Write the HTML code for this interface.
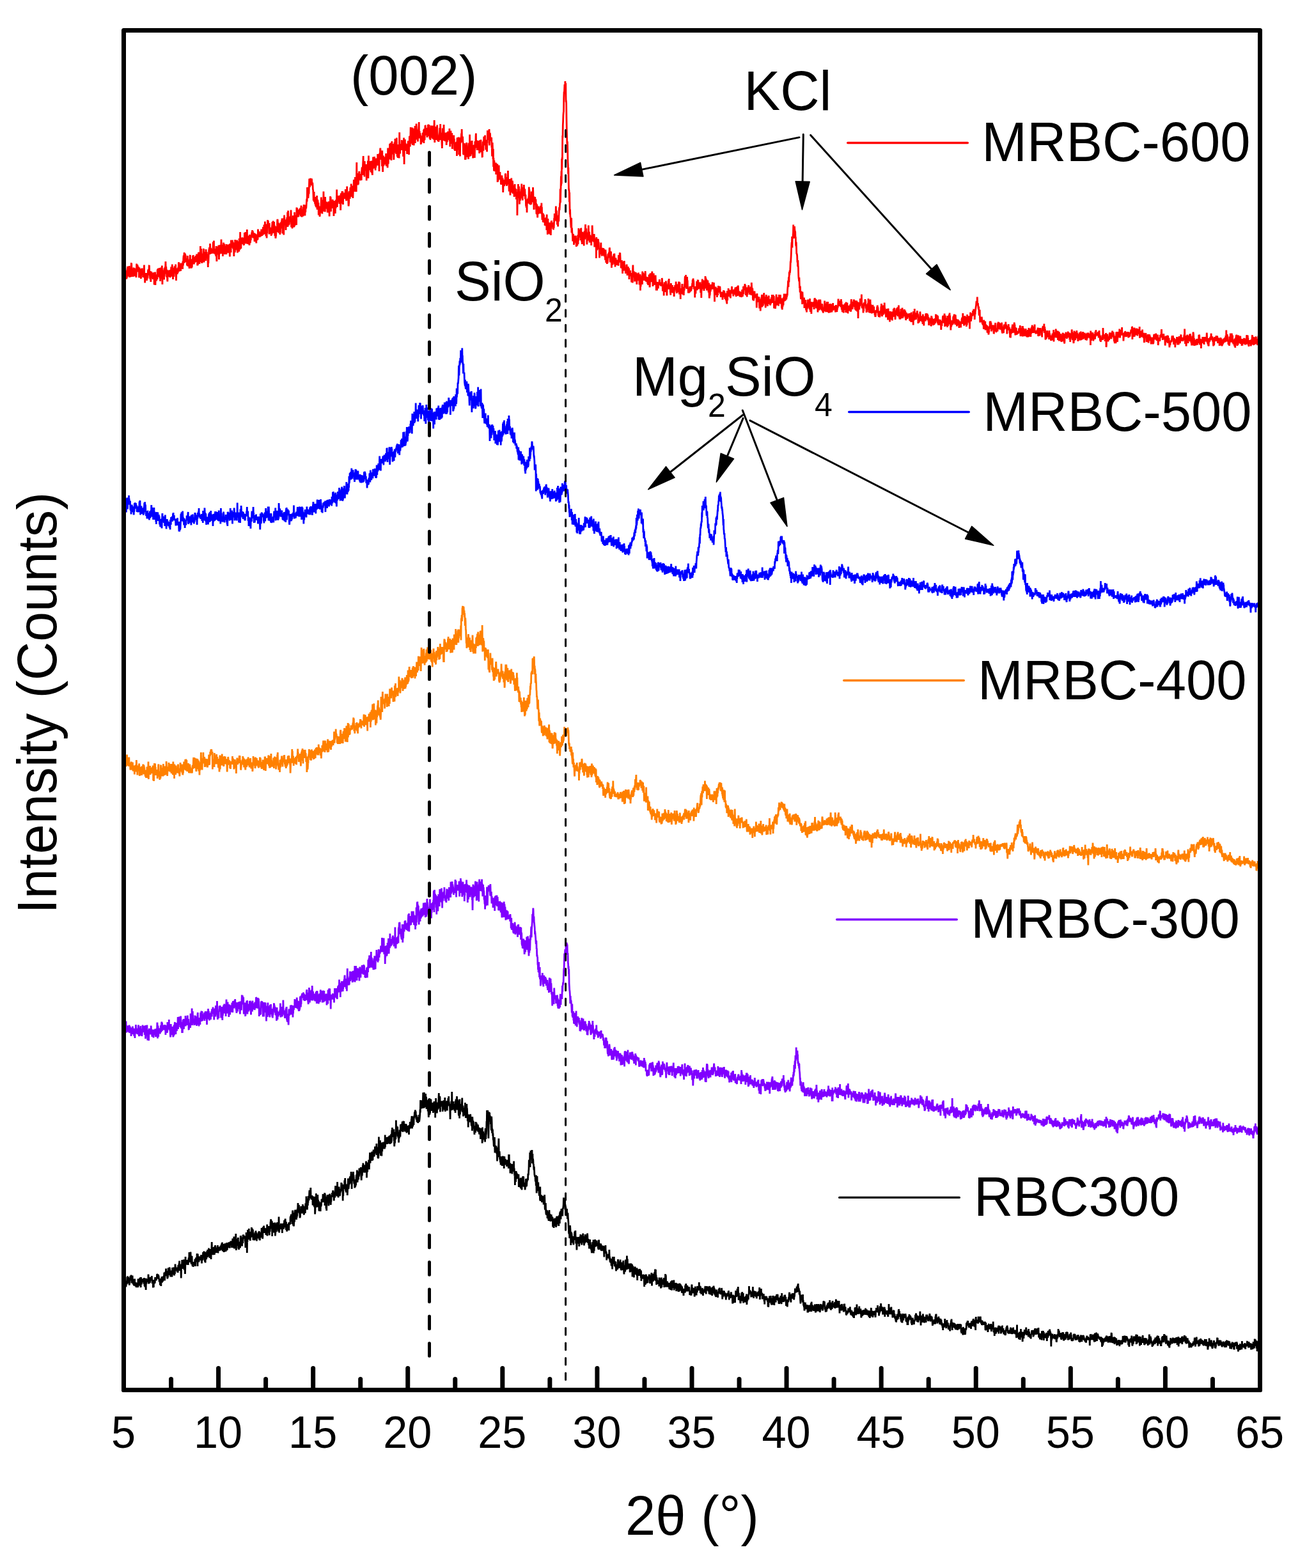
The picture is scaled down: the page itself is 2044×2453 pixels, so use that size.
<!DOCTYPE html>
<html><head><meta charset="utf-8"><title>XRD patterns</title>
<style>html,body{margin:0;padding:0;background:#fff;} svg{display:block;}</style>
</head><body>
<svg xmlns="http://www.w3.org/2000/svg" width="2044" height="2453" viewBox="0 0 2044 2453">
<rect x="0" y="0" width="2044" height="2453" fill="#fff"/>
<path transform="translate(193.500,0) scale(0.296167,0.5)" vector-effect="non-scaling-stroke" fill="none" stroke="#000000" stroke-width="2.8" stroke-linejoin="miter" stroke-miterlimit="2" d="M0,4008l1,7h1l1-17h1l1,6l1,16l1-5l1,1l1-21l1,32l1-12l1,10l1-6l1-8l1,4l1,4l1-12l1,1l1,8l1-19l1-4l1,17l1-4l1-10l1,9l1,6l1-6l1-6l1,18l1,4l1-12l1-8l1,2l1-1l1-10l1,8l1,6l1-10l1-7l1,10l1,2l1,14l1-19l1,6l1-1l1-10l1,13l1,5l1-7l1,17l1-6l1,2h1l1,8l1-18l1,17l1-2l1-19l1,17h1l1,6l1-9h1l1,8l1-9l1,14l1-6l1,4l1-13l1,10l1-5l1-4l1,3l1,7l1,4l1-27l1,22l1-3l1-4l1-9l1,16l1-19l1,9l1,9l1-23l1,8l1-10l1,14l1,12l1,5l1-32l1,11l1,6l1,6l1-10l1-8l1,10l1-1l1-5l1-3l1,10l1-1l1-6l1,1l1-6l1,8l1,10l1-11l1-9l1,26l1-10l1,13l1-18l1-3l1-6l1,22l1,14l1-33h1l1,14l1-12l1,3l1-5l1,2l1,6l1-7l1,7l1-9l1,5l1-20l1,10l1,20l1-17l1,14l1-7l1,8l1-4l1,3l1-7l1-8l1-2l1,5l1-6l1,7l1-1l1,2l1-2l1-10l1,15l1,1l1,8l1-3l1-7l1,1l1,22l1-11l1,7l1,3l1-24l1,8l1-1l1,1l1,3l1-1l1-3l1-15l1,10l1-5l1,6l1-7l1,6l1-2l1-7l1,2l1-3l1-10l1,2l1-1l1,7l1-2l1,7l1-12l1,15l1-11l1,4l1,8l1-2l1,10l1-6l1-2l1,2l1,16l1-13l1-7l1,11l1-11l1,23l1-25l1,11l1-2l1-14l1,13l1,6l1-9l1-1l1,7l1-13l1,2l1-5l1,8l1-10l1,9l1-11l1-9l1,9l1,17l1-8l1-14l1,8l1-14l1,7l1,3l1-20l1,23l1-14l1,4l1-5l1,3l1,5l1,11l1,5l1-13l1,9l1-12l1-18l1,15h1l1-8l1,9l1,7l1-19l1-6l1,7l1,4l1-2l1,11l1,10l1-19l1,5l1,7h1l1,3l1-13l1,12l1,5l1-15l1-14l1,12l1,7l1-9l1-8l1,20l1-23l1,21l1-4l1-12l1,21l1-8l1-10l1,13l1-15l1-16l1,9l1,4l1,8l1-6l1-3l1,1l1-2l1,10l1-5l1,1l1,9l1-15l1,1l1,15l1-14l1-10l1,9l1-8l1,4l1-10l1,3l1-11l1,31l1-9l1-7l1,14l1-5l1,2l1-12l1,16l1,24l1-44l1,10l1-4h1l1-19l1,7l1,11l1-7l1,17l1-24l1,4l1,18l1-27l1,3l1,12l1,3l1,15l1-7l1-5l1,6l1,18l1-19l1-35l1,20l1-7l1,10l1-13l1,14l1-3l1,4l1-3l1-4l1-2l1,8l1-10l1-4l1,16l1-8l1-6l1-9l1,3l1,1l1-21l1,31l1-4l1-10l1,14l1-7h1l1-25l1,20l1,3l1,11l1,2l1,2l1-24l1-1l1,23l1-3l1,12l1-5l1,5l1-14l1,16l1-12l1,6l1-2l1-4l1,2l1-4l1,3l1-3l1-8h1l1,20l1-19l1,5l1-7l1-6l1,3l1,6l1,1l1-2l1-21l1,12l1,10l1,18l1-39l1,19l1-10l1,2l1-2l1,10l1,7l1-12l1-4l1,1l1-3l1,12l1-4l1-8l1,9l1-4l1,5l1-5l1-10l1,18l1-1l1,10l1-14l1-7l1,1l1,1l1,9l1-5l1-20l1,11l1-11l1,13l1-13l1-3l1,13l1,2l1-9l1,20l1,7l1-31l1,34l1-23l1,3l1,4l1-15l1,20l1-5l1-7l1,1l1-15l1,7l1,13l1-24l1,11l1,4l1,3l1,3l1-17l1-9l1,16l1-6l1-1l1,12l1,10l1-7l1-10l1,10l1-21l1,12l1-9l1,29l1-20l1-9l1-6l1-19l1,28l1,12l1-21l1,9l1,2l1-14l1,21l1,3l1-5l1-5l1,8l1-22l1,15l1,9l1-26l1,21l1-12l1-13l1,21l1-9l1,10l1-14l1,16l1-16l1,11l1-7l1-2l1,7l1-10h1l1-7l1,24l1-1l1-10l1,6l1-11l1-2l1,2l1,8l1-2l1-8l1,11l1-2l1-7l1,3l1-7h1l1,7l1-4l1,5l1-15l1,18l1-21l1,7l1-10l1,22l1,5l1-1l1-1l1-20l1,10l1,4l1-4l1,16l1-11l1-2l1,2l1-12l1-4l1,2l1,12h1l1,6l1,5l1-25l1,7l1,3l1-13l1,9l1,15l1-3l1-2l1-13l1-4l1,12l1-13l1,6l1,9l1-17l1,2l1,5l1,7l1-1l1-1l1,6l1-18l1,3l1,7l1-11l1-2l1,1l1,7l1,2l1-9l1,5l1,14l1-18l1,14l1-12l1-13l1,7l1-6l1,16l1-15l1,27l1-7l1-28l1,28l1,10l1-27l1,19l1-25l1,22l1-24l1,19l1-17l1-14l1,27l1,25l1-32l1,8l1-6l1-3l1,12l1,7l1-22l1,13l1-4l1-13l1,31l1,4l1-22l1,25l1-18l1-2l1,15l1-13l1,3l1,9l1-2l1-11l1-22h1l1,26l1-16l1,8l1-15l1,14l1-13l1,26l1-28l1,8l1,1l1,10l1-27l1,9l1-9l1,6l1,4l1-7l1,8l1-7l1,7l1,2l1-1l1,8l1,2l1,19l1-25l1,4l1,12l1-36h1l1,2l1,12l1,47l1-39l1,5l1-16l1-22l1,4l1,27l1-8l1-15l1,14l1-26l1,28l1,5l1-18l1-5l1,19l1-15l1,24l1-25l1,16l1-7l1-5l1-8l1,8l1-21l1,11l1-3l1,10l1-14l1,27l1-15l1-9l1,29l1,4l1-15l1-6l1,10l1-7l1,3l1,16l1-10l1-9h1l1-7l1,13h1l1-17l1,6l1,22l1-22l1,3l1,23l1-11l1-10l1,12l1-9l1,1l1,6h1l1-8h1l1-9l1,15l1-13l1-5l1,27l1-24l1,23h1l1-14l1-8l1,14l1,1l1,1l1-15l1,11l1-1l1-25l1,26l1-11l1-6l1,1l1,24l1-6l1-31l1,14l1-1l1-3l1-7l1-7l1,23l1-16l1,4h1h1l1,11l1-4l1-5l1-5l1,5l1,16l1-5l1-2l1-5l1-3l1,3l1-21l1,36l1-23l1-7l1,15l1-7l1-3l1,1l1-7l1,16l1,5l1-19l1,27l1-26l1,4l1,11l1-12h1l1-17l1-4l1-6l1,5l1,3l1-4l1,20l1-9l1-9l1,47l1-27l1-11l1,21l1,1l1-23l1-3l1,10l1,21l1-19l1-8l1,6l1,14l1-25l1,15l1-8l1,35l1-8l1-5l1-13l1,11l1-22l1,24l1-22l1-7l1,4l1,10l1,6h1l1-6l1-15l1,16l1-4l1,17l1-23l1-23l1,22l1,28l1-14l1-4l1,7l1-5l1-1l1-8l1,5l1,3l1-6l1-6l1,9l1,9l1-4h1l1-4l1,20l1-25l1,6l1,7l1-16l1-2l1,7l1,11l1-16l1,2l1-2l1-12l1,23l1-15l1-9l1,16l1-20l1,10l1,13l1-6l1,18l1-25l1,18l1-1l1,13l1-3l1-6l1-5l1-5l1,11l1-15l1,10l1-5h1l1-8l1,23l1-26l1,7l1,1l1-7l1,2l1,1l1,3l1-24l1,10l1-13l1,11l1-16l1,4l1,5l1,14l1-8l1-6l1,22l1-33l1-10l1,20l1,7l1,18l1,3l1-41l1,43l1-11l1-14l1-6l1,17l1-26l1-10l1,6l1-8l1,11l1,4l1,4l1,1l1-11l1,22l1-26l1,20l1-24l1,19l1-23l1,12l1-13l1-17l1,11l1,16l1,2l1-21l1-2l1,19l1,5l1,2l1-5l1,17h1l1-3l1-21l1,8l1-6l1-12l1,18l1-6l1-10l1,20l1-4l1,1l1-1h1l1-24l1,11l1,16l1-22l1,3l1,5l1,17l1,3l1-11l1-8l1,8l1-11l1-4l1,21l1-12l1-19l1,19l1-17l1,8l1-32l1,27l1-8l1-2l1-10l1,35l1-25l1,4l1,8l1-17l1,8l1-21l1,12l1-10l1,12l1-10l1-15l1-7l1,13l1,12l1-5l1,2l1-22l1-8l1,28l1,1h1l1,8l1-1l1-11l1,1l1,9l1,2l1-5l1,23l1-25l1,5l1-8l1,9l1,16l1,4l1-7l1,9l1,2l1-20l1-12l1,55l1-11l1-14l1-26l1,5l1,25l1-44l1,26l1,3l1-11l1,2l1-12l1,35l1-35l1-4l1,19l1,5l1-8l1,18l1-12l1-2l1,28l1,1h1l1-21l1,4l1,5l1,8l1,6l1-1l1-27l1,14l1-2l1-2l1-8l1-11l1,7l1-4h1l1-4l1,11l1-8l1-18l1,22l1-9l1,13l1-15l1,1l1-1h1l1-1l1-14l1,40l1-37l1,15l1,10l1,3l1,6l1,3l1,10l1-21l1,27l1-44l1,12l1-7l1-10l1,7l1,10l1-18l1,4l1,13l1,6l1,12l1-10l1-5l1-5l1,3l1-5l1-16l1,19l1-3h1h1l1,19l1-11l1,2l1-15l1-6l1,4l1-1l1-8h1l1,10l1-6l1-14l1,4l1-4l1,16l1-8l1,13l1,11l1-12l1-15l1,6l1,10l1,1l1-8l1-16l1-13l1,26l1-3l1,2l1-4l1-16l1,9l1,9l1,10l1-13l1-32l1,29l1,7l1,7l1-11l1,17l1-9h1h1l1-25l1,19l1,1l1-8l1,17l1-4l1-10l1,3l1-4l1-1l1-6l1,6l1-26l1,13l1-11l1,12l1,6l1-4l1,9l1-1l1,33l1-40l1,25l1-36l1,9l1,6l1-14l1,3l1,7l1-24l1,9h1l1-16l1,21l1-2l1,21l1-19l1,24l1-26l1,23l1-15l1,4l1,2l1-1l1,22l1-14l1-17l1-5l1-17l1,27l1,6l1-6l1-7l1-4l1-2l1,3l1-1l1-20l1,19l1-22l1,9l1-6l1,1l1-9l1-9l1,29l1-21l1,46l1-30l1,4l1-1l1-10l1-12l1,20l1-5l1-20l1,20l1-10l1,12l1,12l1,4l1-4l1-6l1,23l1-14l1,7l1,4l1-12l1-12l1,19l1-17l1-10l1-7l1,24l1-9l1-29l1,28l1,10l1-6l1-26l1,15l1,6l1,3l1-15l1-11l1,16l1-6l1-20l1,5l1,2l1-7l1,4l1,10l1-8h1l1-9l1,22l1,11l1,8l1-17l1-4l1,7l1-3l1-12l1,4l1-22l1,12l1-19l1,8h1l1,4l1-6l1,12l1,12l1-4h1l1,1l1,2l1-4l1-19l1,5l1,2l1-9l1-10l1,19l1-15l1,48l1-24l1-7l1-1l1,14l1-30l1,13l1-10l1,7l1-7l1,17l1-28l1,10l1,20l1-21l1,3l1-18l1-17l1,25l1,8l1-18l1-15l1,22l1-9l1,8l1-3l1-10l1,12l1-23l1,29l1-16l1,8l1,6l1-14l1-1l1-11l1-7l1,20l1,2l1-16l1,15l1-10l1,5l1-14l1-12l1,21l1-3l1-5l1,3l1,2l1-1l1-5l1-21l1,36l1-25l1,20l1-5l1,3l1-14l1,30l1-1l1,2l1-2l1-28l1-37l1,41l1,11l1-9l1-20l1,1l1,10l1-23l1,15l1,8l1,25l1-28l1,28l1-16l1-25l1,42l1-37l1,18l1,5l1-26l1-2l1,20l1-9l1-12l1,1l1,3l1,14l1-15l1,4l1,11l1,2l1-2l1-4l1-37l1,38l1-14l1-1h1l1-6l1-1l1,8l1-17l1,3h1l1,19l1-13l1-8l1,17l1-19l1,14l1-14l1,21l1-4l1-5l1-10l1-5l1,11h1l1,14l1-2l1-25l1,25l1-10l1,11l1-15l1-15l1,27l1-3l1-19l1-17l1,7l1-15l1,8l1,13l1,9l1-23l1,22l1-8l1-11l1-5l1,37l1-3l1,20l1-10l1-3l1,3l1-35l1,10l1-7l1,20l1-13l1-47l1,45l1-28l1,19l1-9l1,8l1,1l1-4l1-12l1,31l1-1l1-7l1,13l1-19l1,33l1-16l1,2l1-1l1-12l1-13l1,14l1,2l1,6l1-19l1-20l1,15l1,2l1-2l1-1l1-16l1,24l1-20l1,20l1-31l1,25l1-20l1,26l1,1l1-9l1-22h1l1-2l1,16l1,1l1,1l1-3l1,6l1,3l1,9l1-14l1,7l1-18l1,7l1,2l1-7l1,18l1,9l1-21l1,3l1-1l1,11l1-15l1,18l1-1l1-1l1,4l1-9l1-4l1,21l1-30l1,13l1-9l1-2l1-2l1-10l1,14l1-9l1-4l1,20l1-22l1,8l1-16l1,1l1-10l1,4l1,35l1-18l1,2l1-6l1,16l1-32l1,9l1,11l1,7l1-20l1-3l1-6l1,2l1-12l1-1l1,13l1-20l1,4l1,4l1-4l1,20l1-1l1,7l1-14l1,5l1,14h1l1-11l1,10l1-4l1-5l1,16l1-19l1,10l1,1l1-1l1-17l1,22l1-4l1-4l1-6l1-8l1-17l1,10l1-39l1,27l1-21l1,8l1,13l1-12l1-7l1,16l1-13l1-5l1-5l1,25l1-16l1-11l1-22l1,23l1-24l1,21l1-10l1,38l1-49l1,44l1-3l1-32l1,19l1,18l1-2l1-40l1,18l1-4l1-4l1,6l1,32l1-21h1h1l1,17l1-4l1-20l1,35l1-22l1,14l1,12l1,15l1-23l1,8l1,8l1-9l1,8l1-9l1-18h1l1-3l1-7l1,21l1-33l1,12l1,25l1-18l1-8l1,12l1,12l1-22l1,19l1-16l1,3l1,3l1,21l1-32l1,14l1,15l1-25l1-8l1,27l1-8l1-5l1,3l1-12l1,46l1-49l1,3l1-15l1,10l1,24l1-19l1,7l1-9l1,34l1-16l1-18l1,23l1-12l1,11l1-5l1,2l1-9l1-26l1-13l1,35l1-7l1,4l1-6l1-16l1,6l1,43l1-20l1,5l1-14l1,5l1,5l1-4l1-5l1-3l1-3l1,4l1,7l1-4l1,26l1-22l1,3l1-5l1,16l1-21l1-6l1,5l1,17l1-18l1,26l1-20l1-19l1,21l1,23l1-30h1l1,18l1,4h1l1-12l1,4l1-3l1,6l1,10l1-31l1,18l1-13l1,9l1-22l1,3l1,12l1-21l1,27l1-10l1,12l1-5l1,5l1,2l1,16l1,25l1-44l1,17l1-13l1-6l1,11l1-22l1,12l1,17l1-58l1,48l1,7l1-25l1,15h1l1-10l1,21l1-26l1,23l1-7l1-7l1,10l1-3l1,14l1-22l1,17l1-10l1,21l1-38l1,26l1-31l1,26l1-9l1,6l1-19l1-13l1,10l1,33l1-19l1-14l1,23l1-9l1-3l1-7l1,35l1,12l1-36l1,18l1,9l1,17l1-60l1,37l1,11l1-33l1,20l1-4l1,5l1-13l1,6l1-13l1,7l1-5l1-9l1-13l1,45l1-6l1-1l1-14l1,7l1,27l1-11l1-16l1,10l1-1l1-1l1-6l1,22l1-4l1-14l1-22l1,21l1,14l1,13l1-15l1,14l1-13l1-12l1-18l1,19l1-6l1,15l1,10l1,16l1-17l1-5l1,41l1-22l1,6l1-1l1-22l1,19l1-10l1,13l1-3h1l1,3l1-24l1,3l1,14l1-7l1,15l1,3l1,9l1-11l1-18l1,26l1,18l1-44l1,9l1,15l1-12l1,11l1,11l1-19l1,22l1-1l1-8l1,16l1,12l1-20l1,3l1,4l1-8l1,15l1-10l1-24l1,21l1,1l1-1l1-18l1,10l1,13l1-14l1,10l1,7l1-21l1,8l1-5l1,21l1-9l1-5l1,5l1,6l1,7l1,3l1-20l1,2l1,13l1-2l1-5l1,27l1-14l1-19l1,15l1,12l1-2l1-26l1,25l1-2l1,24l1-50l1,45l1-19l1,10l1-23l1,8l1,12l1-8l1,14l1-12l1-6l1-1l1,4l1,7l1,15l1-34l1-9l1,17l1,17l1-13l1-3l1-10l1-30l1,4l1-38l1,25l1,6l1-26l1-5l1,9l1,21l1,17l1,41l1-35l1-38l1-10l1,23l1,7l1-28l1,17l1-8l1,9l1-3l1,7l1,15l1-5l1,14l1,10l1-44l1,9l1,20l1,23l1-14l1,15l1-12l1,20l1-8l1,21l1-2l1,7l1,12l1,3l1-21l1,22l1-30l1,28l1,21l1-23l1,6l1-1l1,9l1-13l1,11l1-11l1,9l1,12l1,4l1-18l1,41l1-22l1-21l1,31l1-8l1-8l1,13l1-30l1-26l1,40l1,10l1,8l1-18l1,8l1,18l1-2l1,6l1,5l1-18l1,26l1-27l1,11l1-5l1-3l1,11l1,7l1,9l1-10l1-12l1,22l1-31l1,21l1,4l1,2l1-16l1-9l1,37l1-24l1-14l1,7l1,10l1,10l1-17l1,9l1-10l1,4l1,13l1-13l1,11l1-8l1-4l1,20l1-14l1,13l1-16h1l1-4l1,16l1-5l1,4l1,12l1-44l1,13l1-13l1,30l1,3l1,7l1-2l1-11l1,32l1-20l1-2l1-8l1,24l1-7l1,1l1,3l1,2l1-11l1,20l1-24l1-7l1,12l1-3l1-2l1-5l1,1l1-5l1-7l1,33l1-11l1,10l1,14l1-6l1,35l1-41l1,4l1,11l1,16l1-18l1-16l1,25l1-20l1,4l1,12l1-10h1l1,9l1-8l1,12l1-9l1,8l1-12l1,1l1,38l1-12l1,12l1-22l1,14l1-4l1-14l1,27l1-18l1-1l1-11l1,34l1-10l1-5l1-15l1,3l1,31l1-26l1,7l1-4l1-17l1,30l1-33l1,25l1-3l1-21l1,27l1,2l1-3l1-7l1,14l1-1l1-6l1,16l1-7l1-5l1,4l1-21l1-6l1,16l1,1l1,7l1-5l1-10l1-1l1-6h1l1-1l1,4l1-18h1l1,2l1-13l1-6l1-29l1,19l1-14l1,8h1l1-36l1,46l1-33l1-1l1-18l1,27l1-2l1-18l1,1l1,19l1-26h1l1,39l1-25l1-5l1,27l1-11l1,4l1,14l1-2l1,10l1,9l1-11l1,11l1,14l1,2l1,5l1-2l1,4l1,13l1-10l1,6l1,17l1-33l1,26l1,30l1-50l1,31l1-34l1,25l1,20l1-3l1-18l1-2l1-3l1,28l1-6l1,1l1,12l1,5l1,2l1-5l1-16l1,35l1-42l1,45l1-13l1-3l1-4l1,9h1l1-1l1-6l1,22l1-19l1,18l1-11l1-7l1,10l1,7l1-18l1,8l1,19l1-16l1,3l1,11l1-14l1-15l1,14l1,28l1,5l1-2l1-6l1-13l1,25l1,10l1-14l1,17l1-16l1,8l1,7l1-14l1,25l1-21l1,16l1-6l1,8l1,4h1l1,7l1-8l1,1l1-27l1,19l1-1l1-3l1-3l1,13l1,8l1,2l1-5l1-13l1,7l1-10l1,18h1l1-12l1,8l1-1l1-5l1,8l1,23l1-22l1,7l1-10l1,1l1,27l1-25l1,10l1-6l1,5l1-2l1,3l1-16l1,12l1,13l1-18l1,1l1,21l1-10l1,6l1-30l1,19l1-17h1l1,11l1,12l1-24l1,5l1,2l1,3l1-12l1,31l1-18l1-11l1-5l1,25l1,1l1-35l1,7l1,10l1-21l1,3l1,23l1-21l1,1l1-13l1,10l1,13l1-17l1-6l1,7l1,16l1-21l1-4l1,2l1-6l1-7l1-22l1,20l1-9l1,14l1-20l1,22l1-18l1-5l1,34l1-16l1,12l1-6l1,18l1,6l1-1l1,4l1-18l1-2l1,23l1-11l1,20l1-7l1-12l1,13l1,7l1,9l1,16l1,14l1,7l1-19l1,10l1,22l1-2l1-14l1-24l1,10l1,12l1-3l1,43l1-31l1,3l1-12l1,4l1,5l1,5l1,2l1,6l1-1l1,12l1-21l1,17l1,2l1,8l1-17l1,1l1-11l1,12l1-7l1-17l1-2l1,3l1,10l1-17l1,26l1-7l1,22l1-2l1-11l1,6l1,27l1-21l1-4l1-13l1-2l1,11l1,1l1-12l1,17l1-8l1-10l1,22l1-3l1,11l1-18l1,5l1-16l1,16l1-19l1,18l1-24l1,18l1,7l1-1l1,4l1-25l1,26l1,4l1-28l1-2l1,4l1,8l1,6l1-24l1,27l1-9l1-9l1,21l1-8l1,16l1-9l1-14l1,16l1-3l1-14l1-11l1,8l1,7l1-11l1,21l1-7l1-4l1,4l1-12l1,9l1-5l1-13l1,6l1,24l1-9l1,4l1-8l1,7l1,13l1-7l1-2l1,20l1-12l1-9l1,18l1-26l1,25l1-16l1,6l1,3l1,10l1,1l1,4l1-1l1,8l1,2l1-9l1-2l1-11l1-12l1,14l1-4l1,5l1-22l1,42l1-32l1,18l1,7l1-21l1,4l1-17l1,6l1-8l1,23l1-3l1-12l1,10l1,2l1-14l1-2l1,2h1l1,15l1-7l1-4l1,5l1,8l1-5l1,11l1-5l1,8l1-6l1-25l1,13l1,6l1-8l1,12l1-4h1h1l1,9l1,3l1-19l1,6h1l1,17l1-7l1,7l1-6l1-7l1-4l1,14l1-13l1,15l1-5l1-2l1-8l1,3l1,1l1,17l1,14l1-30l1,15l1,4l1-13l1,5l1,2l1-20l1,26l1-6l1,1l1,1l1,4l1,21l1-14l1,5l1-9l1,7l1-6l1,4l1-4l1-2l1,13l1-2l1-2l1-10l1,11l1-24l1,31l1-10l1,8l1,9l1-11l1,14l1-13l1,12l1-9l1,7l1,13l1-19l1-2l1,5l1,7l1,19l1-30l1-9l1,12l1-9l1,7l1,8l1-10h1l1-8l1,23l1-10l1,15l1,1l1-14l1,5l1,5l1,8l1-18l1,9l1,21l1-13l1,4l1,1l1-13l1,17l1-10l1,2l1,6l1-6l1-25l1,18l1-12l1,10l1-5l1,4l1,13l1-7l1-2h1l1,5l1,2l1-25l1,13l1,5l1,9l1,5l1-17l1,19l1-17l1-1l1-5l1-2l1,16l1-13h1l1,8l1,13l1-30l1,15l1,4l1,16l1,8l1-20l1,4l1,8l1,1l1-11l1,9l1-17l1-20l1,11l1,13l1,8l1-29l1,2l1,14l1-31l1,36l1,7l1-33l1,30l1-14l1,15l1-7l1-6l1,5l1,6l1-1l1-3l1-11l1,16l1-3l1,15l1-13l1,1l1-7l1,3l1-8l1-4l1,23l1,3l1-18l1-6l1,15l1-13l1,38l1-25l1,12l1-21l1,7l1,14l1-2l1-6l1,23l1-16l1-11l1-3l1,3l1,13l1-20l1,10l1-6l1,21l1-15l1,13l1-6l1-10l1,14l1,7l1-24l1,16l1,23l1-34l1,8l1-8l1,19l1-11l1,8l1-4l1-13l1,21l1-8l1-8l1,4l1-10l1,15l1-5h1l1,9l1-15l1,24l1-21l1,31l1-10l1-6l1-2l1,7l1-1h1l1,5l1-13l1,1l1,5l1,6l1-12l1,7l1,1l1,9l1,21l1-38l1,16h1l1,7l1,9l1-12l1-1l1,10l1-30l1,7l1,2l1,3l1,2l1-8l1,22l1-20l1,7l1,12l1-9l1-11l1,6h1l1-4l1,5l1-14l1,12l1-12l1,10l1,3l1,16l1-14l1,3l1-8l1,5h1l1-11l1,13l1-22l1,23l1,18l1-27l1,3l1-9l1,11l1-11l1,20l1-10l1-15l1,11l1-1l1,8l1,3l1-15l1-11l1,1l1,11l1-21l1,19l1,2l1-20l1,36l1-19l1,15l1,16l1-22l1-1l1,12l1-5l1,13l1-5l1,1h1l1,2l1-8l1,11l1-9l1-2l1,18l1-28l1,14l1-10l1,7h1l1,6l1,9l1-23l1,31l1-19l1-7l1-8l1,31l1-3l1-18l1,8l1,2l1-9l1-5l1,3l1,8l1-3l1-8l1,17l1-22l1,10l1,20l1-8l1-1l1,2l1,4l1-11l1-28l1,30l1-27l1,4l1,34l1-4l1-13l1,5l1,1l1,8l1-15l1,4l1,4l1,6h1l1-5l1,10l1-14l1,8l1-6l1-2l1,20l1-10l1-5l1,6l1-8l1,13l1,3h1l1-24l1,11l1,12l1-16l1,17l1,4l1-31l1,19l1-3l1,5l1,3l1-11l1-3l1,9l1-14l1,11l1-17l1,32l1-20l1,10l1,2l1-4l1-1l1,1l1-11l1,4l1,14l1-17l1,1l1,24l1-7l1,4l1-16l1,3l1,13l1-5l1-4l1-12l1,9l1-6l1,23l1-14l1,5l1,8l1-5l1,1l1-10l1-12l1,24l1-16l1,4l1-9l1,8l1,3l1,8l1-15l1,16l1-7l1,14l1-20l1,11l1,10l1-15l1,12l1-1l1-9l1,10l1,11l1-11l1-9l1-1l1,7l1,4l1-1l1-3l1,5l1-23l1,5l1-8l1,22l1-25l1,19l1,5l1-18l1,6h1l1,8l1-14l1,16h1l1-9l1-1l1,10l1-7l1-4l1,1l1,8l1-9l1,10l1,2l1,13l1-12l1,6l1,3l1-3l1,7l1-6l1,4l1,2l1-13l1-17l1-4l1,18l1-8l1,5l1-5l1,15l1,2l1-15l1,13l1-5l1-9l1,15l1-10l1,6l1,16l1-6l1-6l1-13l1-7l1,19l1-10l1,7l1-3l1-5l1,20l1-18l1,1l1,5h1l1-15l1-1l1,6l1,7l1-7l1-3h1l1,4l1,3l1-23l1,12l1,13l1-5l1-9l1,9l1,5l1,9l1-21l1,20l1-7l1,7l1,4l1-11l1-1l1,5l1,5l1-8l1-9l1,5l1,9l1,10l1-20l1,5l1,2l1-1l1-5l1,8l1,1l1-5l1-3l1-4l1-4l1-4l1,16l1,2l1-12l1,19l1-19l1,1l1-7l1,14l1-6l1,2l1,2l1,1l1-12l1,9l1-1h1l1,8l1-8h1l1,16l1-11l1-10l1-4l1,9l1,5l1-1l1,14l1-22l1,6l1-2l1,6l1-5l1-5l1,18l1-2l1,9l1-14l1,4l1,2l1-20l1,6l1,12l1-7l1-14l1,7l1-1l1,3l1,18l1-18l1,19l1-13l1-1l1,18l1-3l1,3l1,3l1-8l1,4l1-19l1,4l1,9l1-2l1,5l1-9l1,11l1,7l1-14l1-2l1-1l1,2l1-6l1-7l1,4l1,5l1-12l1,16l1,2l1-1l1-5l1,6l1,3l1-10l1,2l1,7l1-3l1-16l1,4l1,11l1-6l1,26l1-19l1,5l1,7l1-5l1-15l1,17l1-9l1,4l1-11l1,3l1,6l1,4l1-8l1,9l1-2l1,8l1-3l1-2l1,13l1-15l1,8l1-12l1,4l1-6l1,5l1,3l1-1l1-2l1,5l1-11l1,11l1-17l1,1l1,13l1,3l1,11l1-9l1,3l1-12l1,5l1,7l1-2l1-2l1-4l1-10l1,3l1-3l1,16l1-3l1-2l1,6l1-8l1,13l1,14l1-10l1-11l1-7l1,26l1-11l1-10l1,18l1-20l1,1l1,2h1l1-3l1,22l1-20h1l1-4l1-14l1,14h1l1,6l1-16l1,9l1-8l1,13l1-24l1,24l1-13h1l1-17l1,18l1,12l1,12l1-22l1,2l1,11h1l1-4l1,3h1l1,11l1,6l1,3l1-9l1-9l1-2l1,7l1-20l1,26l1-18l1,4l1-15l1,15l1,1l1-3l1-6h1l1,25h1l1-7l1,3l1-8l1-3l1-1l1,8l1,2l1-9l1,12l1,2l1,1l1-19l1,8l1-1l1-8l1-5l1,33l1-11l1-12l1,11l1-3l1-3l1-5l1,4l1,3l1-14l1-3l1,4l1-29l1,21l1-9l1,3l1-1l1,3l1-2l1,1l1,3l1,5l1-6l1,17l1-18l1,13l1,4l1-16l1,4l1,9l1-9h1l1-20l1,26l1-7l1,3l1,14l1-14h1l1-9l1,4l1,2l1,4l1,3l1-11l1,1l1,14l1-16l1,14l1,4l1-10l1-4l1,19l1-15l1-2l1-2l1,10l1-5l1,6l1-12l1,1l1-2l1,8l1-10l1,15l1-4l1-9l1-14l1,11l1,27l1-10l1-3l1-3l1,3l1-17l1-1h1l1,13l1,5l1-5l1,1l1-4l1,20l1-11l1,2l1-1l1-3l1-1l1,5l1-8l1,11l1-1l1,14l1-17l1,26l1-15l1-2l1-6l1,2l1-5l1,13l1-10l1,3l1,1l1-6l1,4l1,2l1,7l1-4h1l1,9l1-4l1,18l1-23l1,25l1-8l1-20l1,11l1-5l1,4l1-17l1,11l1-6l1,4l1,12l1-7l1-15l1,8l1,2l1,17l1-12l1-7l1,21l1-6l1-3l1-7l1,15l1-13l1-15l1,6l1,1l1,6l1,5l1-10l1-1l1,23l1-19l1-1h1l1-9l1,13l1,7l1-10l1,10l1-11l1,4l1-12l1-1l1-5l1,14l1-6l1-3l1-5l1,2l1,7l1,9l1,1l1-9l1,9l1,10l1-15l1,16l1-11l1,3l1-10l1,14l1-17l1,7l1-4l1-8l1,4l1,20l1-2l1,4l1-9l1-25l1,22l1-6l1,5l1-1l1-4l1-5l1,17l1-8l1-7l1,5l1,9l1-6l1-2l1-13l1,10l1-4l1-7l1,19l1-12l1,4l1-4l1,15l1,13l1-9l1,3l1-14l1,14l1,2l1,7l1-12l1-7h1l1-4l1,8l1-6l1-7l1-2l1,1l1-11l1-4l1-1l1,22l1-4l1-3l1-1l1,12l1-16l1,21l1-20l1,2l1-8l1,8l1-1l1,6l1-8l1-8l1,14l1,3l1-2l1-4l1,5l1-16l1,10l1,11l1-7l1-14l1,11l1-12l1,1l1-15l1,5l1,7l1-2l1-2l1-3l1,2l1,4l1,2l1-19l1,9l1-1l1,3l1,6l1-22l1,13l1-17l1,13l1,1l1,3l1-2l1,7l1,5l1,8l1-12l1,5l1,9l1,7l1,10l1,9l1-22l1-6l1,8l1,8l1-1l1-6l1,4l1,2l1-8l1,3l1,14l1-25l1,21l1-3l1,12l1,5l1-11l1,16l1-14l1,22h1l1-14l1,9l1-4l1-14l1,13l1-4l1,4l1,5l1,3l1-5l1-9l1,3l1,9l1-2h1l1,15l1-12l1,12l1-21l1,2l1-2h1h1l1,2l1-1l1,17l1-12l1-6l1,2l1,8l1-4l1-9l1,15l1-21l1,7l1,20l1-31l1,20l1,7l1-5l1-6h1l1-6l1,7l1,9l1-7l1,4l1,3h1l1-12l1,6l1,1l1-2l1-5l1-6l1,19l1-2l1,9l1-8l1,6l1-6l1-8l1,5l1-16l1,16l1-3l1-5l1,12l1,1l1-6l1,1l1,7l1-9l1-14l1,7l1,13l1-3l1-13l1,19l1-5l1,8l1-5l1-12l1,1l1-8l1-1l1,3l1,8l1,4l1-11l1,11l1-3l1-4l1,12l1-14l1,14l1-18l1-3l1,8l1-17l1,1l1,8l1,2l1,1l1-11l1,8l1,14l1,3l1-9l1,10l1,4l1,3l1-14l1,14l1-14l1,12l1-5l1-15l1,4l1,2l1,7l1-18l1,3l1,10l1,2l1-15h1l1,13l1-14l1,8l1,6l1-3l1-20l1,22l1,3l1,2l1-5l1-15l1,24l1-5l1,2l1-12l1,2l1-4l1,14l1-14l1-3l1-9l1,13l1-2h1l1,7h1l1-6l1,3h1l1,6l1-4l1-7l1-6l1,17h1l1-11l1,9l1-13l1-11l1,17l1,10l1-11l1-4l1,11l1-18l1,4l1,7l1,6l1,4l1-9l1-1l1,5l1-3l1-4l1-9l1,20l1-1l1,20l1-16l1-11l1,9l1,1l1,3l1-3l1,1l1-11l1,7l1,12l1-21l1,3l1,13l1,2l1-3l1,2l1-6l1-3l1,4l1,3l1,7h1l1-22l1,22l1-10l1-13l1,21h1l1-4l1-6l1,1l1,11l1-4l1,10l1,7l1-2l1-3h1l1-9l1,3l1,2l1,4l1-3l1-4l1,1l1-11l1,6l1,6l1-1l1,1l1-2l1-10l1,5l1,8l1-17l1,6l1,3l1,13l1-7l1,9l1,1l1-14l1,5l1-5l1,15l1-1l1-1l1,4l1-1l1-2l1,1l1,6l1-14l1-2l1,9l1,10l1-13l1-4l1,8l1-7l1-16l1,6l1-8l1,9l1-1l1,8l1,9l1-20l1,5l1-1l1-18l1,16l1,2l1,9l1-13l1,5l1,12l1-9l1-7l1-2l1,5l1,5l1,4l1-21l1,16l1-4l1,8l1,4l1-11l1,9l1-14l1,5l1,1l1,19h1l1-7l1-4l1-9l1,17l1-2l1-1l1-8h1l1-2l1,11l1-17l1,3l1,12l1-4l1,4l1-11l1,1l1,5l1-4l1-3h1l1-8l1,21l1-10l1-3l1,9l1-12l1-1l1,7l1,4l1,2l1,1l1,4l1-10l1,2l1,1l1-8l1,8l1,3l1,10l1-10l1-10l1,13l1-1l1,11l1-21l1,4l1-4l1,7l1,1l1-15l1-4l1,12l1,12h1l1-9l1,9l1-13l1-1l1,20l1-7l1-8l1-2l1,7l1-4l1-6l1,13l1-6l1-3h1l1,9l1-11h1l1,18l1-7l1-9l1-6l1,3l1-11l1,11h1l1-7l1,8l1-11l1,10l1-19l1,21l1-2l1-3l1,6l1,1l1-6l1,16l1-12l1,5l1-5l1-16l1,17l1-20l1,13l1-4l1,5l1-22l1,7l1,3l1,14l1-5l1,1l1,2l1-4l1-7l1,9l1,11l1,4l1-12l1,11l1-18l1,13l1-12l1,8l1-11l1-2l1,6l1,24l1-24l1,7l1,1h1l1,4l1,4l1-11l1,8l1-5l1-3l1,9l1-10l1,14l1-9l1,4l1,5l1,6l1-14l1-2l1,7l1-31l1,29h1l1-18l1,20l1-3h1l1-15l1,17l1,2l1-3l1-1l1,2l1-21l1,19l1-2l1,2l1-3l1,6l1,3l1,9l1-20l1,19l1-16l1-7l1,3l1,17l1-19l1,17l1-1l1-4l1,1l1,12l1-3l1,5l1-1h1l1,9l1-12l1,14l1-6l1-13l1,3l1,3l1-12l1,17l1-3l1-15l1,6l1,10l1-8l1-16l1-6l1,1l1,22l1-9l1-9l1,16l1-5l1-2l1,4l1-3l1,16l1-18l1,9l1,16l1-2l1-19l1,24l1-7l1-15l1,23l1-22l1,13l1-17l1-3l1,21l1-3l1-7l1,2l1-1l1-4l1-6l1,11l1-5l1-5l1-1l1,6l1-8l1,9h1l1,16l1-12l1,4l1,7l1,2l1-2l1-5l1,17l1-15l1-1l1,16l1-26l1,13l1-1l1-14l1,5l1,6l1-17l1,10l1,7l1-5l1-1l1-7l1,4l1-1l1,3l1,8l1-2l1,13l1-9l1-2l1,16l1-19l1-4l1,10l1-10l1,12l1,6l1-8l1-2l1,1l1,9l1,3l1-15l1,2l1,4l1-5l1,2l1-6l1-10l1-1l1,5l1-8l1-3l1,7l1-2l1,17l1-16l1,8l1,13l1-10l1,4l1-13l1,16l1,4l1-4l1-9l1,2l1-3l1,6l1-5l1,7l1-15l1,5l1-18l1,17l1,9l1-4l1,22l1-23h1l1-2l1,1l1,2l1-9l1,3l1,19l1-20l1,7l1-14l1,6l1,8l1-1l1-2l1,4l1,1l1,9h1l1-14l1-2l1,10l1-1l1,4h1l1-11l1,16l1-11l1-14l1,15l1-3l1-1l1-11l1,8l1,1l1-3l1,5l1,4l1,5l1-1l1-11l1,10l1-9l1,5l1-6l1-6l1-5l1,14l1-3l1,5l1,9l1-16l1-2l1,10l1,3l1,1l1,1l1-13l1,12l1-4l1,10l1,11l1-12l1,3l1-6l1,1l1,9l1-5l1,1l1-2l1-9l1,4l1,1l1,2l1,1l1,7l1-24l1,6l1-12l1,8l1-10l1,21l1,2l1-12l1,10l1,3l1,6l1-8l1-4h1l1,4l1-1l1-5l1-8l1,18l1-13l1,7l1,8l1-7l1,12l1-17l1,14l1-12l1-3l1,5l1,9l1-5l1-6l1,18l1-9l1,2l1,2l1-1l1,8l1,5l1-4l1,12l1-12l1-9l1,11l1-7l1,9l1-7l1-7l1,8l1-1l1-21l1,21l1,1l1,2l1-4l1-6l1,10l1,6l1-19h1l1,4l1-11l1,12l1,5l1-9l1,9l1-8l1,10l1,4l1,6l1-9l1,7l1-5l1-5l1,14l1-12l1,3l1,13l1-13l1-11l1,6l1-8l1,2l1-10l1,6l1-10l1,17l1,1l1,4l1,13l1-24l1,4l1-1l1,6l1,7l1-7l1-2l1-6l1,4h1l1,2l1-5l1,8l1,8l1-1l1-12l1,17l1-2l1-2l1-10l1-1l1,8l1-7l1-2l1,16l1-3h1l1,4l1-2l1-17l1,16l1-6h1l1,7l1-8l1,8l1-9l1-7l1,4l1,7l1-12l1,13l1-2l1,1l1-10l1,2l1,22l1-14l1,18l1-7l1,2l1-9l1,4l1,3l1,5l1,7l1-7l1-18l1,5l1,3l1-1l1,12l1,4l1-14l1,9l1,6l1-20l1,19l1-2l1-14l1,4l1-8l1,5l1-5l1-16l1,6l1-4l1-2l1-1l1,2l1-8l1,16l1-15l1,15l1-4l1-2l1,11l1-13l1,14l1-6l1,3l1-7l1,5l1,3l1-13l1,5l1,11l1-15l1,18l1-16l1-2l1-7l1,4l1-3l1,9l1,7l1-7l1-6l1-5l1,1l1-6l1,1l1,18l1-12l1-4l1,15l1,6l1-14l1,6l1-9l1-2l1,19l1,11l1-35l1-7l1,19l1-3l1-4l1,8l1-11l1,5l1,6l1-8l1,7l1-3l1,5l1-4l1-18l1,12l1-11l1,3l1-2l1,13l1-12l1-2l1,15h1l1-3l1-13l1,18l1-7l1,4l1,8l1-8l1,3l1,9l1-8l1-7l1,11l1,2l1,2l1-10l1,2l1,5l1-6l1,2l1-1l1,5l1-5l1-2l1,10l1-4l1-7l1,14l1,13l1-1l1-23l1,8l1,10l1-1h1l1,2l1-1l1-10l1,15l1-14l1,10l1,11l1-7l1-10l1-5l1-1l1,1l1,5l1,8l1-16l1,9l1-1l1,3l1-1l1,4l1-1l1,3l1-5l1-12l1,21l1,3l1-13h1l1,2l1-9l1,7h1l1,3l1-2l1-19l1,25l1-4l1,13l1-3h1l1-5l1,19l1-14l1-7l1,11l1-17l1,20l1-4l1,1h1l1-5l1-11l1,4l1,6l1-7l1,6l1-6l1,1l1,5l1,4l1-6l1-6l1-6l1,24l1-23h1l1-2l1,13l1-12l1,5l1,2l1-5l1,11l1-7l1,10l1,8l1-7l1-3l1,6l1-3l1-2l1-16l1,1l1,14l1-5l1,2l1,2l1-3h1l1,9l1,4h1l1-3l1-7l1,10l1-9l1,6l1,9l1-4l1,3l1-5l1-4l1-8l1-3l1-4l1,11l1-7l1-9l1,1l1,16l1-12l1,9l1,3l1,7l1-10l1,7l1-3l1,5l1,2l1-10l1,3l1,7l1-11l1,7l1-8l1-1l1-4h1l1,17l1-1l1-8l1,6l1-8l1-2l1-4l1,12l1,1l1,5l1-16l1,5l1-10l1,18l1-3l1,2l1-3l1-3l1-1l1,9l1-11l1,13l1-1l1-8l1-3l1,6l1,6l1-6l1,13l1,5l1-7l1-17l1-17l1,32l1,6l1-10l1,5l1-4l1-4l1,15l1-9l1,10l1,4l1-13l1,12l1-22l1,14l1-5l1,16l1-18l1-6l1,17l1-27l1,14l1-4l1,11l1-6l1,8l1-3l1-8l1-3l1,31l1-10l1-11l1,5l1,4l1-19l1,21l1-16l1-3l1,10l1-10l1-9l1,12l1-3l1,6l1-12l1,1l1,9l1-8l1-12l1,14l1,8l1-9l1,12l1-9l1,2l1-8l1,6l1,3l1,1l1-3l1,13l1-25l1,16l1-1l1-7l1,8l1-1l1,9l1-4l1,8l1-11l1,9l1-3l1,8l1-11l1-4l1,2l1-6l1-8l1,7l1,2l1-6l1,4l1-7l1,6l1-6l1,21l1-8l1,5l1-13l1,7l1-7l1,8l1-2l1-16l1,16l1-17l1,19l1-10l1-3l1,14l1-7l1-4l1,1l1,7l1-16l1,2l1,16l1-15l1,5l1,1l1,3l1,4l1-19l1,17l1,13l1-13l1,15l1-9l1-3l1,10l1,7l1-17l1,8l1-10l1,7l1,2l1,4l1-3l1-1l1,12l1-26l1-2l1,16l1-7l1-9l1,20l1-17l1-4l1,15l1,5l1,10l1-25l1,4l1,8l1,2l1,2l1-3l1-7l1,5l1,6l1-2l1-10l1,5l1-2l1-7l1,2l1,5l1,19l1-20l1-4l1,5l1-1l1,10l1-22l1,5l1,11l1-2l1-2l1,3l1-17l1,10l1-10h1l1,16l1-12l1,2l1,11l1-9l1,17l1,26l1-28l1,8l1-2l1-10l1-1l1,7l1-14l1,10h1l1,2l1-1l1,4l1-11l1,10l1-6h1l1-2l1,8l1-13l1,11l1,5l1-11h1l1,2l1,4l1,2l1,3l1,9l1-2l1-12l1-6l1-4l1,13l1-3l1-8l1,2l1-2l1-19l1,19l1-1l1-6l1-7l1,11l1,2l1,8l1-4l1,1l1-7l1-4l1,8l1-2l1,5l1,10l1-1l1-1l1-7l1,7l1-9l1-11l1,13l1-2l1-12l1,12l1-11l1,14l1,12l1-13l1,13l1-8l1-6l1-3l1,11h1l1-15l1,8l1,9l1-11l1,5l1-17l1,2l1,16l1-15l1-1l1-3l1,8l1-7l1,11l1,6l1,8l1-14l1,14l1-10l1-2l1,4l1,5l1-1l1-9l1-6l1,5l1-3l1,4l1-2l1,11l1-20l1,9l1-2l1,14l1,3l1,2l1-9l1,6l1,4l1-4h1h1h1l1-5l1,2l1-14l1,5l1-6l1,6l1-7l1,9l1,6l1-13l1,5l1,8l1,5l1-3l1,1l1-4l1-1l1,6l1-2l1-5l1-3l1-4l1,1l1,1h1l1,7l1-11l1,7l1,7l1,3l1-2l1,7l1-11h1l1,13l1-16l1,6l1-9l1,16l1-5l1-12l1-3l1,10l1-2l1,8l1,5l1-12l1-3l1,2l1,2l1-9l1,4l1,7l1-10l1-1l1,14l1-10l1,9l1,1l1-5l1,8l1-2l1-5l1,8l1,1h1l1,2l1-3l1,5l1-13l1-4l1,6l1-11l1,7l1,7l1-10l1,8l1-7l1-1l1,3l1,2h1l1-1l1,6l1-2l1-2l1-3l1,24l1-23l1,4l1-16l1,1l1,17l1-16h1l1,4l1-2l1,4l1,6l1,2l1-4l1-2l1,7l1-1l1-6l1-10l1,4l1,13l1-8l1-2l1,5l1,12l1-12l1-6l1-8l1-1l1,26l1-18h1l1-5l1,11l1-10l1-7l1,10l1,6l1,11l1-13l1-4h1l1-6l1,3l1,9l1,1l1-7l1,9l1-5l1,3l1-4l1,7l1,1l1,1l1-7l1,8l1-9l1,6l1,3l1,6l1-12l1-3l1,10l1,8l1-8l1,21l1-28l1,21h1h1l1-15l1,11l1-6l1,4l1-10l1-3l1,10l1-4l1-3l1-4l1,7l1-7l1,10l1-7l1-7l1,12l1,3l1-7l1-12l1,6l1,9l1-14l1,8l1,8l1-9l1-1l1,8l1,7l1-7l1-9l1-3l1,10l1-11l1,14l1,5l1-20l1,15l1,1l1-9l1,5l1,2h1l1,7l1-16l1-13l1-2l1,7l1,15l1-2l1,1h1l1,11l1-2l1-4l1-9h1l1-3l1,6l1,1l1-8l1,5l1,18l1-12l1-9l1,2l1,3l1,4l1-6l1,8l1-1l1-8l1,16l1-8l1,15l1-16l1,4h1h1h1l1-4l1,6l1-6l1,14l1-16l1,9l1-1l1-7l1,19l1-6l1-4l1-2h1h1l1,2l1-9l1,6l1-3l1,11l1-8l1,4l1,3l1-12l1,10l1-12l1,4l1-16l1,7l1,12l1-6l1-3h1l1-6l1,3l1-8l1,17l1,4l1-12l1-8l1,6l1,15l1-20l1,5l1-1l1,10l1-15l1,10l1-7l1,5l1-2l1,8l1-6l1,3l1,8l1-4l1,14l1-11l1-2l1-1l1,19l1-11l1-12l1,2l1-2l1,8l1-9l1-2l1,6l1,3l1,1l1,2l1-3l1-18l1,17l1,1l1,7l1,7l1-4l1-19l1,12h1l1,5l1-12l1-12l1,6l1,3l1-9l1,12l1-4l1,8l1-8l1,1l1,2l1-1l1,5l1-14l1-7l1,31l1-15l1-2l1,15l1-28l1,8l1,4l1,6l1-8l1,8l1-5l1,11l1-6l1-11l1,10l1-12l1,13l1,2l1,15l1-18l1-9l1,13l1-15l1,23l1-6l1,9l1-12l1-1l1,7l1-11l1,2l1-4l1,5l1-10l1-6l1,24l1-14l1,1l1,6l1-2h1l1,4l1,11l1-2l1-5l1,6l1-21l1,15l1-1l1-12l1,13l1,3l1-5l1-12l1,9l1,5l1-4l1,3h1l1,3l1-7l1,14l1-14h1l1,5l1-8l1-2l1,6l1-19h1l1,29l1-11l1-2l1-7h1l1-6l1,10l1-5l1,16l1-6l1-1l1,6l1,3l1-6l1,16l1-9l1-5l1,3l1,6l1,1l1-7l1-3l1-6l1,11l1-2h1l1-13l1,12l1,1l1,2l1-20l1,3l1,14l1-10l1,7l1-2l1,4l1-12l1-7l1,14l1-9l1-4l1-4l1,32l1-22l1,3l1-12l1,9l1,5l1,3h1l1-10l1,11l1,7l1-11l1,9l1-8l1,7l1-2l1,12l1-7l1,7l1-12l1,4l1-7l1-4l1-10l1,17l1-11l1-9l1,6l1-3l1,14l1-2l1,1l1,4l1-19l1-7l1,7l1,14l1-19l1,12l1,7l1-12l1,6l1-5l1,19l1,1l1-22h1l1,8l1,10l1-1l1,2l1,1l1,1l1,6l1-10l1-4l1,2l1,15l1-8l1,3l1,7l1-1l1,4l1-20l1,6l1,4l1,1l1-10l1-12l1,10l1-2l1,5l1,4l1-3l1-11l1,3l1,10l1,2l1-9l1,1l1-11l1,11l1,1l1,4l1-5l1-9l1,3l1,5l1-6l1,14l1-9l1-3l1,7l1-12l1,16l1-12l1,12l1-8l1-5l1-5l1,10l1,4l1-10l1,20l1-12l1-6l1,18l1-13l1,13l1-26l1,31l1-17l1-1l1,4l1-10l1,14l1-4l1-4l1-6l1-3l1,11l1,4l1-5l1-4l1-3l1,7l1,6l1-14l1-5l1,23l1-25l1,13l1-2l1,7l1-7l1-7l1,7l1,5l1-5l1-5l1-1l1-8l1,4l1,4l1-3l1,3l1-2l1,18l1-21l1,20l1-2l1,4l1,1l1-18l1,10l1,2l1,3l1-3l1-11l1,16l1-6l1-3l1,7l1-4l1-2l1,5l1,17l1-13l1,2l1-4l1,6l1-8l1,15l1-3h1l1,3l1-4l1,5l1-5h1l1-7l1,3l1-3l1,8l1-10l1,8l1-1l1-1l1-11l1,10l1-5l1-4l1,4l1-2l1-7l1-8l1,14h1l1,9l1,5l1-8h1l1-1l1-4l1-2l1-15l1,21l1-2l1-5l1,1l1,4l1,2l1-4l1-6l1,6l1,2l1,11l1-18l1,6l1-7l1-3l1,20l1-14l1,3l1-5l1,8l1-11l1-4l1,11l1,6l1-4l1,1l1-8l1-2l1,9l1-5l1,2l1-3l1,6l1,6l1-7l1,10l1-1l1-7l1-5l1,9l1-11l1,14l1-14l1-5l1,11l1-6l1,15l1-5l1-2l1,9l1-22l1,13l1,4l1,3l1-5l1-7l1,10l1,2l1,10h1l1-16l1,11l1-7l1-10l1,9l1,3l1-23l1,20l1-11l1,15l1-10l1,1l1,7l1-12l1,16l1-19l1,3l1-4l1,12l1-3l1,6l1,7l1,2h1l1-2l1-7l1-3l1-3l1,8l1-9l1-4l1-3l1,9l1,6l1-2l1-6l1,16l1-17l1,11l1,8l1-6l1,1l1-9l1,2l1-3l1-4h1l1,3l1-18l1,9l1-8l1,9l1-1l1,4l1,1l1,9l1,3l1-12l1,1l1,11l1-8l1-4l1-6l1,15l1-2l1-7l1-5l1,4l1,9l1-6h1l1,2l1,8l1,1h1l1-5l1-1h1l1,1l1,1l1-9l1-1l1,3l1,11l1-8l1-2l1,9l1,4l1-15l1,4l1,12l1-11l1,4l1-13l1,6l1,7l1,6l1-5l1-15l1-1l1,4l1,9l1-1l1,3l1-2l1-10l1,3l1-5l1,13l1-12l1,10l1-1l1,7l1-15l1,13l1-7l1,17l1-11l1,1l1-6l1,5h1l1,3l1,9l1-18l1,3l1,9l1-13l1-3l1,15l1-13l1,5l1,3l1,6l1-4l1-5l1,16l1-10l1,11l1-22l1,5l1-1l1,1l1-1l1-4l1,11l1-13l1,5l1,3l1-5l1,8l1-12l1,23l1-19l1,8l1,2l1-3l1-1l1,10l1,11l1-9l1-6l1-5l1,1l1,10l1-4l1,4l1-2l1,6l1-17h1l1-1l1,6l1,1l1,3l1-8l1,10l1,4l1-6l1-20l1,15l1-5l1,9l1-5l1,2l1-7l1,7l1,4l1-7l1,4l1,1l1,2l1-5l1,6l1-15l1,9l1,5l1,5l1-13l1,1l1,3l1,1l1-3l1-1l1-4l1,7l1-14l1-2l1,13l1-10l1,10l1-7l1-4l1,19l1-12l1-7l1,8l1,1l1,3l1,1l1-8l1,6l1,3l1,4l1-2l1-7l1-4l1,20l1-18l1,3l1,4l1,4l1-3l1-9l1,6l1,10l1,1l1-16l1,7l1-14l1,11l1-1l1-2l1,13l1-7l1-1l1-22l1,11l1,6l1-9l1-6l1,7l1,12l1-2l1,2l1-1l1,10l1-24l1,13l1,20l1-6l1-3l1-8l1-9l1,8l1-1l1-5l1,13l1-5l1-6l1,8l1-1l1,2l1-1l1,17"/>
<path transform="translate(193.500,0) scale(0.296167,0.5)" vector-effect="non-scaling-stroke" fill="none" stroke="#8000ff" stroke-width="2.8" stroke-linejoin="miter" stroke-miterlimit="2" d="M0,3217l1,12l1-3l1-2l1,14l1-34l1,7l1-11l1,11l1,15l1-19l1,10l1-22l1,20l1-7l1,23l1-8l1,2l1-11l1,13l1-2l1-14l1-1l1,4l1,1l1-2l1,4l1-1l1,14l1-23l1,25l1-15l1,8l1-14l1,10l1-2l1,3l1-7l1,10l1,17l1-11l1-16l1,17l1-7l1,9l1,2l1-9l1-16l1,16l1,4l1-14l1,15l1,3l1-17l1,17l1,7l1-9l1-1l1,1l1,15l1-28l1,2l1,8l1-15l1-9l1,14l1,12l1,2l1-15l1-1l1,9l1,1l1,1l1,7l1-2l1-5l1,1l1-20l1-3l1,26l1,5l1,4l1-6l1,4l1-2l1-23l1,11l1,12l1-6l1-22l1,27l1-9h1l1,7l1,6l1-22l1,23l1-6l1-9l1,2l1-22l1,16l1,7l1-13l1,1l1,5l1-6l1,8l1-8l1-7l1,12l1,16l1-24l1,14l1-20l1,42l1-13l1,5l1-9l1-16l1,20l1-4l1-18l1-8l1,27l1-7l1,28l1-33l1,7l1,4l1-9l1,10l1,22l1-23l1-10l1-5l1,17l1-1l1-2l1-10l1,3l1,5l1-10l1,17l1-28l1,10l1,12l1-2l1-8l1,14l1,9l1-7h1l1,6l1-3l1-19l1,13l1,13l1-23l1,8l1-3l1-5l1-2l1,10l1,3h1l1-16l1,12l1,10l1,3l1-4l1,1l1-4l1-1l1-18l1,7l1-7l1-19l1,10l1,40l1-31l1-9l1,11l1,24l1-15l1,5l1-11l1-1l1,12l1-5l1-12l1,17l1-1l1-16l1,4l1-4l1-9l1,22l1-15l1-8l1-10l1,3l1,26l1-26l1,22l1-8l1,6h1l1-7l1,1l1,6l1-4l1-6h1l1,6l1,7l1-6l1-11l1,12l1-9l1,10l1,19l1-27l1,9l1-10l1,4l1-6l1,24l1-11l1-12l1,22l1-33l1,19l1-2l1-1l1-6l1-5l1,1l1,17l1-31l1,25l1,8l1-4l1-14l1,19l1,1l1,14l1,6l1-15l1-26l1,16l1-7l1,16l1,7l1-18l1,20l1-6l1-8l1-12l1,20l1-14l1,27l1-15l1,12l1-17l1-18l1,31l1-3l1,2l1-33l1-6l1,19l1-8l1-2l1-3l1,32l1-27l1-9l1,11l1,2l1,13l1-8l1,1l1-8l1,3l1-13l1-19l1,38l1-26l1,13l1-10l1-1l1,2l1-17l1,14l1,9l1,2l1-4l1,12l1-11l1-2l1-22l1,18l1,21l1-14l1,9l1-11l1-4l1,34l1-15l1,15l1-12l1-8l1-21l1,28l1-15l1-16l1,32l1-8l1-4l1-6l1,2l1,4l1-8l1,2l1,9l1-33l1,33l1-23l1,13l1-2l1-14l1,22l1-3l1-15l1,2l1,4l1-18l1,22l1,9l1-7l1-13l1,9l1,24l1,1l1-10l1-6l1,9l1,1l1-13h1l1,12l1-2l1-42l1,28l1-8l1,11l1-12l1-3l1,15l1-47l1,53l1-17l1-19l1-8l1,25l1-13l1,27l1-7l1-9l1,8l1-2l1,13l1,1l1-6l1,4l1-1l1-27l1,17l1,4l1-7l1-11l1,5l1,10h1l1,15l1-26l1,4l1,1l1,3l1-18l1-6l1,23l1,9l1,6l1-22l1,10l1,17l1-17l1,4l1-9l1,12l1-4l1,9l1-15l1-5l1-18l1,7l1-2l1,1l1-11l1,33l1-25l1,9l1-16l1,16l1,14l1-21l1,13l1-3l1,1l1,4l1-8l1,7l1-5l1-6l1-8l1,26l1-17l1,10l1-6l1-17l1,17l1-16l1,13l1,10l1-22l1,1h1l1,39l1-32l1-7l1,22l1-7l1,2l1-8l1-20l1,15l1-4l1-3l1,5l1,4l1,17h1l1-4l1-10l1-7l1,13l1,2l1,6l1-17l1-1l1,9l1-17l1,1l1,16l1-24l1,9l1,6l1-5l1,2l1-18l1,14l1-4l1,6l1,5l1-5l1,24l1-18l1-13l1-3l1,7l1-9l1,26l1-15l1-10l1-8l1-1l1,12l1,16l1-7l1-4l1,2l1-34l1,49l1-7l1,16l1-13l1-7l1,6l1-12l1,22l1-20l1-1l1-6l1-12l1,6l1-4l1,16l1-19l1,9l1-4l1,3l1,4l1,27l1-11l1,10l1-9l1,2l1-27l1,31l1,11l1-25l1,11l1-8l1-17l1,11l1-19l1,9l1,11l1-10l1-14l1,30l1-28l1,6h1l1,6l1-4l1-7l1,36l1-29l1-4l1-20l1,30l1,11l1-6l1,9l1-11l1-17l1-8l1,23l1-11l1,2l1-7l1,17l1,23l1-19l1,7l1-27l1,31l1-12l1,13l1-13l1-13l1-2l1,16l1-7l1-11l1,17l1-11l1,16l1-19l1-11l1,7l1-5l1,29l1-22l1-14l1,18l1-3l1,5l1,3l1-14l1,10l1-11l1-10l1,7l1,12l1-23l1,9l1,10l1,5l1,6l1-14l1,16l1,5l1,7l1-20l1-3l1-11l1,22l1,7l1-22l1,11l1,2l1,1l1-11l1,6l1-9l1-9l1,17l1-3l1-8l1,15l1,18l1-40l1,20l1,3l1-7l1,2l1-4l1,14l1-29l1,2l1-21l1,24l1,2l1-21h1l1,25l1-7l1-4l1-12l1,28l1,25l1-23l1,7l1-6l1-6l1,1l1,3l1-12l1,41l1,1l1-31l1,18l1-20l1,4l1,9l1-24h1l1,20l1-25l1,43l1-11l1-8l1,9l1-17l1-5l1,24l1-8l1-8l1-4l1-3l1,19l1-29l1,8l1,2l1-11l1,7h1l1,27l1,10l1-15l1-25l1,14l1,8l1-4l1,1l1,11l1-34l1,13l1,11l1,3l1-4l1-2l1-4l1-9l1,14l1-5l1-8l1,20l1-4l1-21l1,11l1,9l1-7l1-8l1,2l1-22l1,2l1,26l1-3l1,9l1-24l1,15l1,6l1,4l1-33l1,4l1,7h1l1-9l1,11l1-2l1,47l1-23l1,4l1-2l1,4l1,13l1-21l1,1l1,18l1-18l1-11l1-9l1-1l1-3l1,11l1-3l1-7l1,7l1-4l1,18l1,27l1-32l1-13l1,28l1-8l1,25l1-18l1-1l1-18l1-8l1,17l1,15l1-23l1-8l1,11l1,5l1,6l1,5l1,31l1-29l1-14l1-4l1,22l1-20l1,32l1-15l1-30l1,26l1-4l1,18l1-24l1,18l1-4l1,4l1-23l1,3l1,32l1-14l1-25l1,14l1-8h1l1-8l1,32l1-15l1,8l1,4l1-11l1,11l1,10l1-25l1,29l1-16l1,7l1-5l1-5l1-15l1,4l1-14l1-2l1,14l1-8l1,15l1,3l1-13l1,19l1-14l1,21l1-9l1,10l1-1l1-13l1,31l1-16l1-26l1,21l1-10l1,27l1-19l1,3l1-2l1,9l1-7l1-6l1,1l1-4l1,11l1-6l1-5l1,1l1-7l1,9l1-29l1,24l1,20l1-18l1-8l1,2l1-8l1,1l1,14l1-11l1,26l1-17l1-10l1-4l1,6l1-27l1,32l1,11l1-3l1-8l1,9l1,6l1-8l1,7l1,11l1-8l1-10l1,4l1-1l1-16l1,20l1-2l1-20h1l1,38l1-16l1,21l1-17l1,19l1-10l1-16l1,7l1,17l1,11l1-22l1-23l1-5l1,17l1,3l1-5l1-2l1,5l1-9l1-4l1-17l1,13l1,17l1-28l1,26l1-26l1-2l1,8l1,4l1-11l1,11l1-1l1,27l1-23l1,11l1-21l1-1l1,11l1-14l1,4l1-2l1,4l1-26l1,12l1,11l1-13l1-8l1,5l1,21l1-18l1,16l1-15l1,14l1-30l1,9l1,2l1,24l1-6l1,7l1-24l1-1l1,23l1,3l1,3h1l1-24l1,26l1-19l1,15l1-8l1-26l1-6l1-1l1,18l1,15l1-18l1,9l1-27l1,8l1-10l1,10l1-15l1,10l1,4l1-10l1-3l1,7l1-11l1,3l1,20l1,1l1-20l1,12l1,6l1,2h1h1l1-8l1-4l1-5l1,10l1-1l1,8l1-3l1-23l1-4h1l1,12l1,14l1-13l1-5l1,19l1,6l1,5l1,5l1-23l1-10h1l1-19l1,7l1,28l1,12l1-9l1-12l1-12l1,8l1-13l1,29l1,2l1-17l1,2l1-18l1,21l1,4l1-38l1,18l1,11l1,18l1-29l1,4l1,21l1-6l1-5l1-7l1,7l1-7l1,18l1-18l1,20l1,1h1l1-16l1-2l1,3l1-11l1,11l1-13l1,24l1,14l1-40l1,14l1-12l1,21l1,4l1-4l1-12l1,9l1,20l1-1l1-5l1-19l1,9l1-11l1-4l1,11l1,15l1-5l1-7l1-23l1-3l1,31l1-15l1,13l1-26l1,26l1-14l1-4l1,4l1,25l1-9l1-13l1,7l1-23l1,34l1,3l1-17l1,10l1-29l1,33l1-4l1-5l1,7l1-5l1-15l1,3l1,8l1,5l1-7l1-11l1,17l1-14l1,33l1-22l1-11l1,10l1,14l1-10l1,15l1-44l1,33l1-20l1,15l1,4l1-33l1-3l1,19l1-14l1-5l1,21l1,17l1-19l1,13l1,32l1-35l1-10l1,2l1,6l1-7l1,14l1-7l1,7l1-4l1,1l1-14l1-1l1,10h1l1,4l1-2l1-7l1,23l1-26l1,11l1-30l1,24l1,2l1-8l1-17l1,28l1-16l1-10h1l1,18l1-5l1,16l1-4l1,6l1-15l1-6l1-6l1-11l1-1l1,1l1,10l1-12l1,9l1,10l1-40l1,15l1-1l1,16l1-20l1,7l1,38l1-39l1,14l1,1l1-4l1-11l1,22l1-33l1,9l1,2l1-10l1,20l1-17l1,28l1-26l1,19l1-17l1-9l1,1l1,8l1-14l1,8l1-14l1-7l1,32l1,5l1-18l1,13l1-2l1-19l1,8l1,21h1l1-17l1,27l1-33l1-12l1-26l1,48l1-18l1,3l1-3l1,5l1,2l1,13h1l1-1l1,2l1-16l1-10l1,12l1-28l1,31l1-7l1,2l1-14l1,9l1,4l1-14l1-10l1,12l1,5l1-10l1,19l1,8l1-21l1-15l1,2l1,25l1-15l1,5l1-2l1-13l1,31l1-18l1,2l1-33l1,51l1-15l1-9l1-9l1-2l1-16l1,25l1-11l1,19h1l1,13l1-23h1l1-1l1-15l1,5l1,5l1,8l1-2l1-8l1,21l1-18l1-9l1,38l1-23l1-12l1-9l1,10l1,21l1-23l1,26l1-28l1,12l1-6l1-2h1l1-2l1-10l1-3l1,20l1,7l1-5l1-7l1-12l1,26l1-2l1-29l1,18l1-3l1-12l1,29l1-4l1-5l1,17l1-17l1,10l1,9l1-22l1,10l1-13l1,16l1,6l1-27h1l1,10l1,19l1-25l1-9l1,2l1,15l1-39l1,11l1,12l1-21l1-7l1,10l1-19l1,40l1-14l1-6l1,4l1-4h1l1-9l1,16l1-38l1,49l1-31l1,4h1l1,21l1-12l1,19l1-23l1,13l1,2l1-9l1,23l1-3l1,3l1-35l1,14l1-13l1-3l1-6l1,15l1,13l1,12l1,1l1-34l1,5l1,4l1-10l1-1l1-24l1,15l1,10l1-3h1l1-6l1-1l1,24l1-15l1,4l1,6l1-36l1,22l1-2l1,6l1-13h1l1-4l1,5l1-8l1-1l1,2l1-8l1-10l1,12l1-7l1,5l1,10l1-16l1-29l1,41l1-10l1-15l1,2l1,27l1-29l1,7l1,10l1-32l1,32l1,16l1,2l1-1l1-8l1-2l1,42l1-31l1,11l1-36l1,21h1l1,2l1-25l1,17l1,16l1-5l1-23l1,22l1-35l1,30l1-13l1-14l1-4l1-13l1,18l1,30l1-15l1-7l1,5l1-13l1,12l1-45l1,32l1-4l1,1l1-3l1,14l1-22l1,14l1-15l1,19l1-11l1,5l1-7l1-12l1,8l1-13l1,21l1,2l1-11l1,2l1,12l1,6l1,1l1-28l1,6l1,19l1-3l1-53l1,66l1-2l1-28l1,30l1-20l1,4l1-16l1,6l1,4l1,9l1-22l1,18l1-9l1,4l1-14l1-1l1,21l1-43l1-7l1,16l1-23l1-8l1,17l1-18l1,16l1,22l1-10l1-6l1,1l1,12l1,11l1-19l1,25l1-11l1,14l1-2l1,1l1-47l1,31l1,26l1-24l1-8l1,19l1-19l1-13l1-12l1,19l1,4l1-20l1,6l1-19l1,9l1-7l1-4l1,9l1,2l1,12l1,4l1-12l1,3l1,12l1-21l1,4l1,4l1-3l1-7l1,26l1-14l1-23l1-15l1,7l1,19l1-29l1,57l1-34l1,4l1,7l1-26l1,20l1,5l1,4l1-29l1,17l1,11l1-13l1-10l1-3l1-17l1,11l1,13l1,11l1-6l1,2l1-18l1,2l1-15l1,16l1-6l1,17l1,16l1-9l1-7l1,10l1,7l1-1l1-30l1,44l1-27l1-14l1,12l1,17l1-57l1,47l1-22l1-4l1-37l1,7l1-9l1,34l1-25l1,22l1-11l1-7l1,39l1,17h1l1-28l1,3l1,8l1-7l1,1l1,16l1-32l1,11l1-16l1,28l1-20l1-12l1,28l1-9l1,3l1-7l1-11l1,10l1-7l1,18l1-27l1,20l1-12l1-23l1,38l1-35l1,27l1-28l1,24l1-8l1,5l1-24l1,12l1,34l1-6l1-9l1,1l1-11l1,23l1-23l1,17l1-38l1-12l1,39l1-28l1,8l1,10l1,4l1,1l1-5l1,18l1-13l1,1l1-5h1l1,23l1-21l1-31l1,38l1-3l1,19l1-25l1-16l1,12l1,35l1-31l1,14l1-11l1,4l1-23l1,5l1-7l1,14l1-16l1,24l1-30l1,3l1-32l1,17l1,50l1-45l1-25l1,22l1-9l1,3h1l1,4l1,25l1-29l1,19l1,21l1-26l1,47l1-31l1-2l1-5l1,18l1-37l1,33l1,14l1-30l1,5l1-28l1,35l1-34l1,4l1,11l1,22l1-36l1-18l1,25l1,14l1-5l1-13l1,14l1-6l1-3l1-14l1-15l1,45l1-32l1,28l1,21l1-47l1,1l1,20l1,4l1-26l1,5l1-5l1-3l1,14l1-6l1-22l1,32l1-6l1,9l1-10l1,18l1-7l1-5l1-6l1,14l1,9l1-21l1-7l1-15l1,21l1-12l1-1l1,23l1-19l1-9l1,2l1,1l1-4l1,35l1-15l1-27l1,32l1-22l1,10l1-10l1,11l1-3l1,6l1,8l1-49l1,31l1,6l1-3l1-15l1,10l1,1l1-31l1,13l1,20l1-24l1,7l1,1l1,5l1,12l1,8l1-12h1h1l1,6l1-13l1,12l1-1l1-28l1-12l1,33l1-15l1-14l1,35l1,16l1-29l1,4l1-6l1-8l1,15l1-9l1,5l1-10l1,18l1-17l1,6l1,11l1-7l1-8l1-15l1,14l1,34l1-19l1-20l1,2l1,5l1,10l1-35l1,27l1-20l1,39l1-32l1,31l1-16l1,4l1,25l1-21l1,10l1-14l1-22l1,14l1,16l1-6l1,1l1-13l1,30l1-34l1,53l1-23l1,6l1-33l1,12l1-16l1,9l1,17l1-14l1-13l1,14l1-26l1,22h1l1,19l1-27l1,45l1,12l1-55l1,28l1-21l1,38l1-36l1,25l1-6l1-19l1-8l1,36l1-22l1,11l1,12l1-15l1-7l1-6l1,21l1-19l1-6l1,16l1-1l1-12l1,17l1,22l1-6l1,37l1-35l1-11l1-35l1,31l1,10l1-21l1,20l1-31l1,15l1,2l1,6l1-28l1,33l1-27l1-20l1,17l1,25l1-26l1,31l1-21l1,35l1-59l1,57l1-57l1,33l1-12l1,27l1-13h1l1,12l1-1l1-19l1,35l1-54l1,1l1-17l1,34l1,1l1-21l1-2l1-5l1,27h1l1-23l1,16l1-2l1,5l1,8l1-38l1,24l1,13l1-23l1,37l1,2l1-34l1-2l1,33l1-25l1,15l1-4l1,28l1-1l1,3l1,12l1-22l1,38l1-35l1-8l1,33l1-25l1,4l1,6l1,12l1-25l1,4l1-36l1,17l1,38h1l1-33l1-9l1-10l1-2l1,7l1-13l1,19l1-3l1-15l1,6h1l1,8l1,1l1,17l1-37l1,19l1,10l1,4l1,5l1-14l1,22l1,15l1-23l1,22l1-4l1-9l1-4l1,8l1,23l1-23l1-7l1,2l1,19l1-18l1,23l1-3l1-8l1,25l1-45l1,17l1-1l1,2l1-21l1,8l1,23l1-24l1,13l1-11l1-10l1,19l1,16l1-19l1-11l1,11l1,10l1,8l1-10l1,23l1-25l1,26l1-29l1,3l1,26l1-12l1-17l1,2l1,3l1,12l1,2l1,16l1-29l1,14l1,4l1-21l1,35l1,13l1-27l1-19l1,14l1,30l1-38l1,3l1,20l1,15l1-4l1,5l1-49l1,19l1-10l1,1l1,27l1,1l1-22l1,11l1,5l1,26l1-31l1,22l1-21l1,11l1-12l1,6l1,6l1,17l1-22l1-3l1,1l1,15l1,6l1-5l1-4l1,7l1-5l1,9l1-13l1,13l1-3l1-4l1,14l1-23l1,11l1,7l1-6l1,32l1-20l1-12l1,36l1-5l1,7l1-13l1,1l1,5l1-15l1,19l1-2l1,13l1-13l1,16l1-29l1,5l1,16l1,5l1-7l1-26l1,9l1,9l1,21l1-27l1,15l1,7l1-1l1-10l1,8l1-1l1-13l1-3l1,14l1,7l1,12l1-38l1,20l1-6l1-16l1,16l1-5l1,3l1,1l1,18l1-22l1,7l1,7l1-10l1-6l1,2l1,5l1,32l1-38l1,35l1-19l1,3l1,32l1,3l1,3l1-7l1,15l1-25l1,14l1,12l1-13l1-18l1,27l1-16l1-7l1,28l1,17l1-11l1-24l1,18l1,3l1,7l1-37l1,8l1,12l1-9l1,5l1,6l1-33l1,6l1,6l1,29l1-21l1,16l1-38l1,32l1,11l1,7l1-20l1,32l1-33l1,21l1,2l1-29l1-15l1,37l1-22l1-25l1,14l1-16l1,8l1-27l1-7l1,34l1-24l1-8l1-8l1-9l1-24l1,12l1-8l1-8l1-15l1,8l1,30l1-1l1-11l1,19l1,2l1,9l1,5l1,21l1-10l1,9l1,6l1,7l1,10l1,9l1-10l1,1l1,25l1-3l1,26l1-6l1,8l1-1l1,22h1l1,18l1-9l1,17l1-23l1-9l1,34l1-2l1,16l1-23l1-9l1,38l1-9l1-3l1,33l1-19l1-14l1,13l1-8l1-4l1,12l1-3l1-1l1,1l1-18l1,26l1,11l1-18l1,14l1,10l1-26l1-5l1-4l1,6l1,8l1-10l1,21l1-21l1,22l1-21l1,3l1,7l1-3h1l1,20l1-16l1,7l1-5l1-1l1-3l1,25l1-12l1,19l1-15l1,2h1l1,11l1-4l1,14l1-27l1-9l1-11l1,45l1-32l1,18l1-7l1-20l1-1l1,22h1l1-8l1,15l1,20l1-9l1,7l1,16l1,22l1-25l1-8l1,5l1-9l1-6l1,14l1-5l1,29l1-24l1-27l1,17l1,19l1-11h1l1,2l1-4l1,13l1-7h1l1,20l1-25l1,19l1-13l1,5l1-2l1-11l1,11l1,23l1-23l1,29l1-12l1,15l1-22l1,16l1-11l1,17l1-28l1,15l1-10l1,19l1-26l1-10l1-6l1,12l1,22l1-33l1,6l1-1l1-1h1l1,11l1-23l1-19l1,19l1-17l1-6l1-7l1,8l1-11l1-24l1-16l1,3l1-24l1-26l1,5l1,16l1-26l1-8l1,20l1,3l1-7l1-33l1,9l1,6l1-6l1-13l1,8l1-2l1,2l1,22l1,9l1-6l1,30l1,4l1,16l1-9l1,25l1-16l1,45l1,9l1,11l1,4l1,8l1,11l1,20l1-24l1,15l1,7l1-9l1,8l1,7l1,11l1,14l1-16l1-12l1,39l1-7l1,11l1-7l1-1l1-12l1,29l1-15l1,24l1-31l1,33l1-9l1-26l1,29l1-4h1l1-18l1,33l1-24l1,17l1-39l1,36l1,1l1-5l1,18l1-17l1,4l1-12l1,6l1-14l1,15l1-1l1-5l1,1l1-5l1,2l1,15l1,3l1-13l1,11l1,23l1-5l1-15l1,21l1-30l1,9l1,16l1-7l1,1l1-31l1,3l1,18l1,1l1,14l1-18l1-4l1,4l1-16l1,23l1,1l1-5l1,15l1,3l1-21l1-6l1,23l1-3l1-22l1,3l1,7l1-1l1,5l1-5l1,23l1-3l1-15l1,8l1,1l1,20l1-22l1,16l1,7l1-26l1,13l1-12l1,8l1-20l1,6l1-14l1,27l1-23l1,23l1-19l1,13h1l1,5l1,4l1,9l1,5l1-21l1-9l1,26l1-28l1,9l1-6l1-1l1,9l1-23l1,17l1-3l1,15l1,7l1,3l1-3l1,22l1-11l1-18l1,16l1,5l1-16l1,7l1-12l1-4l1,13l1-2l1-4l1,3l1-22l1,26l1-10l1,12l1,3l1-3l1-9l1,6l1,10l1,5l1-15l1,9l1-13l1,7l1,8l1-7l1-7l1,2l1,10l1-11l1,11l1-15l1,24l1-12l1,3l1-17l1,22l1-8l1-1l1,1h1l1-4l1,10l1-7l1,5l1,6l1,5h1l1-6l1,13l1,11l1-7l1,3l1-12l1,25l1-16l1,13l1-8l1,11l1-27l1-7l1,19l1-18l1,11l1,1l1,5l1,8l1-15l1,21l1,15l1,5l1-23l1,11l1,19l1-32l1,22l1-10l1,5l1-23l1,5l1,7l1,16l1,8l1-18l1,14l1-2l1-8l1-1l1-6l1,8l1,6l1,16l1,4l1-7l1,4l1-12l1-14l1,23l1-2l1-14l1,21l1-6l1-4l1-25l1,10l1,4l1-18l1,5l1,11l1,13l1-10l1-2l1-7l1,1l1,2l1,21l1-9l1,18l1-29l1,1l1,8l1,6l1-5l1-9l1-3l1,15l1-8l1,4l1,14l1-3l1-6l1,17l1-26l1,20l1-5l1,7l1-22l1,13l1-9l1,34l1-20l1,18l1-28h1l1,13l1-14l1,7l1,23l1-7l1-15l1,15l1-4l1-3l1-11l1,11l1-9l1,19l1-25l1,34l1-40l1-8l1,1l1,15l1,3l1-18l1,14l1,15l1-16l1,9l1,2l1,4l1-28l1,33l1-7l1,2l1,5l1-38l1,37l1-5l1,10l1-6l1,8l1-6l1-21l1,12l1-6l1,4l1-13l1-6l1,3l1-1l1,5l1,13l1-18l1,5l1,15l1-1l1-23l1,17l1-17l1,4l1,5l1,1l1-1l1,1l1,8l1,11l1-2l1-14l1,24l1-11l1-13l1,4l1,12l1-5h1l1-19l1,11l1,26l1-31l1,4l1,9l1-1l1-6l1,8l1-2l1-7l1,5l1-4l1,8l1,4l1-8l1,7l1-10l1,13l1,5l1,11l1-18l1,14l1-6l1-8l1,7l1,3l1,3l1-16l1,12l1-9l1,17l1-15l1,13l1-3l1-4l1,6l1-1l1-14l1,2l1,18l1-11l1-4l1,2l1,11l1,4l1-31l1,9l1-1l1-1l1,20l1-2l1-13l1,10l1-4l1,24l1-2l1-2l1,3l1-4l1,18l1-7l1,10l1-18l1-3l1,9l1-1l1,11l1-18l1,3l1-2l1,16l1-16l1-13l1-5l1,7l1,1l1-10h1h1l1,10l1,3l1-14h1l1,20l1,4l1-13l1-8h1l1,11l1-19l1,6l1,22l1-18l1,8l1,25l1-21l1,19l1-11l1-5l1,13l1-3l1,5l1-22l1,18l1-6l1,3l1-7l1-16l1,20l1-10l1,2l1-2l1,1l1-8l1-10l1,1l1,18l1-20l1,14l1,10l1-17l1,25l1-38l1,26l1-21l1,17l1,15l1-8h1l1,4l1,14l1,4l1-6l1-16l1-7l1-4l1,2l1-8l1,24l1,6l1,2l1-3l1-16l1-23l1,25l1-7l1-9l1,9l1-12l1,8l1,3l1-9l1,7l1,4l1,8l1-4l1-3l1,12l1-6l1,1l1,3l1,22l1-25h1l1-9l1-15l1,17l1,4l1-7l1,8l1-5l1,11l1-15l1,24l1-3l1-13l1,7l1,12l1-14l1,14l1-20l1-8l1,19l1-12l1,9l1-6l1,5l1-11l1,9l1-14l1,9l1-3l1,9l1,16l1-25l1,10l1-7l1,10l1-13l1-2l1-14l1,26l1-4l1,6l1-11l1,28l1-2l1-9l1,5l1,2l1,8l1-32l1,16l1,3l1,3l1-21l1,2h1l1,10l1-3l1,2l1,4l1-2l1-20l1,10l1,12l1-8l1-12l1-2l1,10l1-2l1,4h1l1,3l1,6l1-2l1-17l1,29l1-26l1-1l1,14l1,5l1-10l1,4l1-14l1-1l1-8l1,22l1-5l1,16l1-17l1,17l1-10l1,13l1-3l1,15l1-24l1,2l1-5l1,15l1-39l1,24l1,14l1-9l1-2l1,7l1-4l1,7l1,4l1-28l1,19l1-15l1-6l1,7l1-1l1-1l1-11l1,7l1,1l1,16l1-9l1-8h1l1,8l1,19l1-31l1,11l1,15l1-1l1-12l1,1l1-5h1l1,11l1,8l1-1l1-13l1,16l1-3l1,17l1-15h1l1-6l1,39l1-14l1-18l1,4l1-20l1,9l1,17l1-20l1-8l1,11l1-5l1,4l1,3l1-6l1-3l1,14l1-2l1-17l1,17l1-8l1,20l1-14l1-8l1-3l1,25l1-10l1-5l1,3l1-15l1,21l1-6l1-3l1,10l1-3l1-11l1,21l1-6l1,10l1-8l1,2l1-11l1-5l1-4l1,12l1-10h1l1,21l1-13l1,10l1-27l1,5l1,1l1,5l1-19l1,32l1-25l1,22l1-19l1,3l1,11h1l1-5l1,3l1,8l1-5l1,20l1-13l1-2l1-18l1,34l1-22l1-11l1-10l1-15l1,15l1-13l1,4l1,29l1-13l1-4l1,23l1-19l1,24l1-15l1,7l1-11l1,1l1,5l1,7l1-6l1-8l1-6l1,23l1-20l1-1l1,6l1-1l1,8l1-15l1-9l1,21l1-7l1,2l1-9l1,18l1-4l1-7l1,7l1-17l1-4l1-4l1-8l1,10l1,13l1-2l1-6l1-3l1,14l1-4l1,8l1,11l1-16l1,15l1-10l1,7l1-15l1,5l1,4l1-4l1,1l1-4l1,15l1-30l1,27l1-5l1-11l1,9l1-8l1,17l1,1l1-5l1,9l1-30l1,2l1,10l1,8l1-3l1-14l1,8l1,11l1-22l1,19l1,7l1,1h1l1-11l1-16l1,9l1,1l1,6l1,4l1-8h1l1,9l1-23l1,18l1,6l1,6l1,5l1-6l1-17l1,14l1-8l1,7l1-13h1l1,12l1-4l1,5h1l1,6l1-16l1-1l1-3l1,22l1-1l1-11l1-7l1,23l1-4l1,7l1-6l1,15l1-7l1-4l1,6l1-17l1,4h1l1-2l1,6l1-5l1-12l1,30l1-17l1-2l1-12l1,12l1,1l1-16l1,23l1-2l1-23l1,28l1-16l1,19l1-4l1,2l1-3l1,3l1-13l1-2l1-1h1l1,25l1-13l1,14l1-9l1,3l1,7l1-8l1,6l1,4l1-15l1-1l1-7l1,9l1-2l1-1l1-13l1,4l1-5l1,16l1,3l1-9l1,2l1,7l1-2l1,2l1-8l1-2l1,1l1-5l1,14l1,12l1-24l1-20l1,10h1l1,10l1-3l1,14l1-16l1,1l1,20l1-15l1,5l1,8l1-5l1,1l1-9l1-4l1,9l1,9l1-11l1,1l1-4l1,25l1-30l1,5l1-4l1,14l1-22l1,5l1,10l1-15l1,19l1,10l1-4l1-21l1,23l1,5l1,8h1l1-1l1-6l1-6l1-3l1-9l1-1h1l1,7l1,12l1-26l1,29l1-10l1,3l1-5l1-1l1,10l1-10h1l1,7l1-9l1,19l1-7l1,3l1-4l1,3l1,7l1-5l1,10l1-23l1,17l1-4l1-9l1-13l1,12l1,1l1,9h1l1-4l1-5l1,9l1,1l1,6l1-5h1h1l1-10l1,5l1-4l1-5l1,6l1-1l1-9l1,16l1,6l1,13l1-4l1-10l1,23l1-26l1,8l1,10l1-23l1,18l1,1l1,14l1-29l1,4l1-20l1,18l1-15l1-2l1,15l1-16h1l1,19l1-5l1-4l1-13l1,8l1-3l1,12h1h1l1-4l1,6l1,10l1-11l1,17l1,2l1-3l1-18l1,19l1-6l1,1l1-6h1l1-11l1-4l1,12l1-8l1,5l1,12l1,4l1-9l1-16l1,18l1,3l1-5l1-8l1-5l1,13l1,21l1-21l1-10l1-5l1,17l1-17l1,11h1l1-5h1l1-6l1-7l1-5l1,18l1-24l1,10l1,32l1-24l1,20l1-12l1,6l1-1l1,11l1-20l1-8l1,9l1-9l1-1l1,21l1-14l1,21l1-3l1-18l1-1l1-2l1,11l1-6l1,10l1-10l1,10l1-14l1,16l1,5l1,7l1-6l1-21l1,28l1-12l1-15l1,10l1-1l1,9l1-10l1,6l1,12l1-23l1-1l1,14l1-17l1,16l1-20l1,2l1,14l1-1l1-12l1-1l1-10l1,9l1-3l1-6l1,2l1,11l1-3l1-21l1,32l1,1l1-17l1,23l1-13l1,20l1,1l1-9l1,16l1-4l1-5l1-13l1,19l1-12l1,11l1-11l1-5l1-13l1,25l1-13h1l1-7l1,3l1,11l1-25l1,25l1-15l1,4l1,13l1,2l1-4l1,3l1,8l1-12l1-12l1-3l1-1l1,16l1-16l1-16l1,8l1,19l1-6l1-14h1l1,19l1-21h1l1,8l1-4l1-18l1,8l1-16l1,12l1-13l1-21l1,23l1-18l1-2l1-16l1,25l1-22l1-20l1,17l1-8l1,4l1-38l1,22l1-8l1,14l1-4l1,8l1-22l1,21l1-9l1,29l1-6l1,1l1,10l1,1l1-8l1,17l1-15l1,21l1,5l1,6l1,15h1l1,22l1-3l1-10l1,2l1,1l1,20l1-11l1,18l1-19l1,11l1-9l1,20l1-3l1-9l1-9l1-10l1,14l1,19l1-21l1,12l1-8l1,16l1-8l1,20l1-22l1,5l1,16l1-9h1l1-1l1,3l1-16l1-1l1,25l1-11l1-3h1l1-3l1,11l1-9l1-6l1-7l1,12l1,7l1-11l1,4l1,17l1-12l1,6l1-14l1,6l1-6l1,9l1-17l1,18l1-7l1,7l1,5l1,4l1-25l1,25l1,9l1-12l1,4l1,3l1-2l1-15l1,19l1-22l1,11l1-1l1,4l1,1l1,8l1-8l1-1l1,3l1-21l1,9l1-6l1-6l1,16l1-9l1,16l1-10l1-26l1,19h1l1,2l1,25l1-18l1,16l1-9l1,3l1-2l1,19l1-16l1-13l1,10l1-12l1,23l1-23l1,4l1,2l1-12l1,26l1-14l1-3l1-2l1-6l1,2l1,26l1-30l1-3l1,18l1,1l1-11l1,2l1,15l1-11l1,2l1,3l1-8l1,13l1-17l1,1l1-8l1,9l1-2l1,10l1-11l1,7l1,9l1-7l1-4l1,2l1-4l1,4l1,3l1,9l1-6l1-3l1-9l1,7l1-10l1-2l1,18l1-2l1-29l1,32l1-22l1,2l1,15l1-9l1,1l1-7l1,22l1-11l1-1l1,9l1-12l1,4l1,6l1-7l1-9l1,17l1-10l1,29l1-8l1-35l1,43l1-31l1,8l1,2l1-10l1,2l1,4l1-9l1,2l1,1l1-3h1l1-1h1l1,8l1-16l1-1l1,17l1-11l1,16l1-5l1-9l1,13l1,11l1-20l1,5l1-13l1,15l1-1l1,16l1-34l1,21l1-4l1,7l1-11l1,7l1-8l1-2l1,9l1-29l1,29l1-11l1,3l1,13l1-1l1-7l1-1l1-10l1,16l1,2l1-4l1-2l1,7l1,3l1-8l1-7l1,16l1-16l1-2l1,2h1l1-1l1,3l1,4l1-1l1,11l1,5l1,5l1-22l1,3h1l1-6l1,3l1-5l1-16l1,1l1,18l1,8l1-1l1-4l1,3l1-13l1-19l1,23l1,22l1-13l1-10l1-3h1l1-2l1,18l1-16l1,12l1-7l1,4l1,7l1-7h1l1-3l1,6l1,22l1-17l1,4l1-9l1,12l1-11l1,10l1-4l1-9l1,6l1,3l1-15l1,20l1-7l1,5l1,5l1-15l1,5l1,9l1,4l1-25l1,31l1-9l1-15l1,11l1-4l1,19l1-22l1,3l1-2l1-3l1,6l1,3h1l1-7l1,15l1-5l1-2l1,14l1-7l1-24l1,30l1-20l1,9l1,7l1,2h1l1-13l1,9l1-5l1-6l1-10l1,11l1-12l1,6l1,5l1,2l1-12l1,17l1-6h1l1,14l1,7l1-15l1-11l1,1l1,18l1-6l1-13l1,26l1-9l1-14l1,3l1-10l1-3l1,13l1-10l1,18l1-13l1,4l1,8l1-17l1,18l1-18l1,33l1-31l1,5l1,25l1-23l1,8l1-11l1-20l1,20l1-7l1,24l1-25l1,23l1-20l1,5l1,16l1-19l1-3l1,8l1-15l1,18l1-2l1-6l1-12l1,2l1,8l1,3l1-16l1,18l1,3l1,1l1,13l1-14l1,1l1-6l1,18l1-10h1l1,1l1-16l1,24l1-12l1,3l1,1l1,25l1-21l1-6l1,3l1-1l1,1l1,6l1,10l1-19l1,9l1-6l1,2l1,9l1-12l1-20l1,24l1-1l1-3l1-11l1,24l1-11l1-5l1,25l1-39l1,24l1,1l1-8l1-4l1,16l1-1l1,6l1-14l1,2l1,3l1-13l1,28h1l1-2l1-18l1,12l1,2l1-1l1-10l1,9l1,7l1-28l1,1l1-7h1l1,6l1,11h1l1-1l1,10l1,3l1-6l1,4l1-7l1,3l1-13l1,15l1-8l1,15l1-17l1,7l1-7l1-13l1,14l1-2l1,5l1-7l1,23l1-16h1l1,4l1,18l1-15l1-2l1,10l1-1l1-15l1-11l1,26l1-10l1-4l1,12l1-2l1-10l1,14l1-5l1,8l1-15l1,14l1-17h1l1,5l1,9l1-17l1,21l1-10l1,3l1-8l1,5l1-4l1-17l1-6l1,13l1,18l1-20l1,13l1,7l1-12l1,10l1-5l1,20l1-9l1-23l1,6l1-7l1,9l1-6l1,1l1,23l1-8l1-1l1,6l1,3l1-10l1-17l1,22l1-10l1-17l1,7l1-6l1,2l1,18l1-13l1,4l1,2l1,20l1-25l1,12l1,7l1-7l1-10l1-3l1,21l1-12l1-3l1-5l1,8l1,2l1-18l1,16l1,9l1,3l1-24l1,22l1,10l1-11l1,11l1-15l1,5l1-4l1-4l1,9l1-5l1,8h1l1-16l1,17l1-31l1,16l1,1l1-3l1,13l1,10l1-5l1-1l1-10l1,16l1-10l1,1l1,2l1-12h1l1,6l1-4l1,6l1-19l1,16l1-1l1-3l1-8l1,15l1-14l1,16l1-3l1-12l1,8l1,1l1-1l1-5l1,2l1,13l1-15l1,2l1-5l1-6l1,20l1-6l1,2l1-3l1-1l1,3l1,1l1,5l1-11l1-3l1-3l1,15l1-9l1-4l1,6l1-10l1,13l1,5l1,12l1-16l1,1l1,3l1-4l1-7l1,9l1-4l1,4l1-26l1,20l1-3l1,1l1-8l1,1l1-7l1,8l1-1l1,19l1-2l1-8l1-8l1,16l1,3l1-16l1,12l1,2l1,8l1-1l1-3h1l1,16l1-4l1,2l1-10l1-6l1,4l1-15h1l1,3l1-13l1,24l1-31l1,1l1,9l1,13l1,4l1,13l1-4l1-14l1,11l1-13l1,28l1-14l1-21l1,18l1,1l1-17l1,11l1,6l1,3l1-10l1,15l1-7l1-14l1,11l1,14l1-1l1-9l1-10l1-8l1-5l1,4l1,24l1-29l1,22l1,15l1-8l1-9l1,15l1,3l1-16l1,5l1,8l1-13l1,8l1,2l1-2l1-4l1,4l1,1h1l1,4l1-7l1-6l1-4l1,12l1-13l1-4l1,16l1-1l1,3l1-11l1,5l1,15l1-9l1-6l1,5l1,6l1-7l1,3l1-15l1,12l1-5l1,1l1,26l1-25l1,1l1,3l1-14l1,8l1-2l1,5l1-1l1-8l1,5l1-10l1-6l1,16l1,13l1-33l1,20l1,15l1-2l1,6l1,9l1-11l1,11l1-2l1-19l1-1l1,30l1-12l1-10l1-5l1-5l1,14l1-5l1-3h1l1,7l1,1l1-1l1-15l1,22l1-5l1-5l1,5l1-6l1,3l1-1l1-1l1,14l1-8l1-8l1-2l1,11l1-13l1,3l1-6l1-5l1,19l1-5l1-9h1l1-5l1-1l1-26l1,38l1,7l1-13l1-3l1,4l1,1l1-8l1,31l1-20l1,1l1,7l1,16l1-30l1,17l1-12l1,4l1,5l1-3l1,3l1-9l1,27l1-28l1-7l1,12l1,5l1-13l1,19l1-8l1,10l1-4l1,10l1-15l1-3h1l1,5l1-6l1,1l1,10l1-1l1-4l1-5l1,1l1,15l1,7l1,2l1-16l1,11h1l1,2l1-1l1-12l1-7l1,1h1l1-4l1,15l1,4l1-14l1,1l1-8l1,24l1-8l1,6l1-11l1-1l1-1l1,1l1,4l1,1l1-13l1-5l1,14l1-30l1,23l1-18l1,8l1-10l1,6l1,8l1-4l1,10l1-14l1,9l1,2l1,4l1,2l1,2l1,15l1-13l1-9l1,20l1,3l1-18l1,9h1l1-16l1,12l1-13l1-5l1,18h1l1,10l1-21l1,7l1-2h1l1-13l1-6l1,29l1-15l1-17l1,3l1,5l1-10l1,8l1,3l1,6l1-1l1-13l1,12l1,3h1l1-7l1-10l1,12l1-8l1,4l1,1l1-1l1-3l1,4l1-1l1,11l1-9l1-3l1,2l1-3l1-9l1,8l1-10l1,5l1-14l1,5l1,29l1-8l1-8l1-4l1,19l1-17l1,9l1-5l1-9l1,22l1-14l1,10l1-2l1,8l1,12l1-22l1,7l1,20l1-9l1-12l1,17l1-5l1,2l1-17l1,15l1-8l1,5l1-9l1-2l1-4l1,8l1,3l1-15l1,4l1,19l1-18l1,15l1,3l1-14l1-9l1,2l1,7l1,4l1-1l1,3l1-25l1,14l1,18l1-15l1,1l1,14l1,5l1,4l1-21l1,7l1-1l1,8l1,4l1-4l1,6l1,8l1-10l1,7l1-9l1-2h1l1,15l1-20h1l1,12l1-3l1-8l1,6l1-8l1-12l1,12l1,6l1,1l1,1l1-13l1-2l1-1l1,9l1,7l1-13l1,7l1,14l1-15l1,6l1-10l1-3l1,22l1-13l1-7l1,7l1-1l1,11l1-9l1,7l1-11l1-9l1-3l1,13l1-6l1-7l1,11l1-9l1,11l1-6l1,15l1-5l1,5l1-7l1,1l1,2l1-2l1-4l1,2l1,9l1-4l1-16l1,15l1-1l1,4l1-1l1,2l1,4l1-5l1-11l1,10l1-11l1-8l1,15l1-9l1,8l1-9l1,11l1-14l1,2l1,10l1,13l1-5l1,10l1-11h1l1,1l1,4l1-3l1-16l1,9l1-5l1-2l1,1l1,3l1-19l1,19l1,6l1-3l1-15l1,16l1,3h1l1-14l1,22l1-14l1-5l1,3l1,10l1-18l1,4l1,6l1-2l1-9l1,1l1,7l1,20l1-4l1-36l1,23l1-7l1,3l1,3l1-12l1,4l1-2l1-3l1,6l1-2l1-5l1,13l1-8l1,1l1,2l1,5l1,8l1-8l1,6l1-18l1,8l1-6l1-5l1,13l1-7l1,4l1,5l1-14l1,5l1,3l1-9l1,5l1,10l1,6l1-2l1-3l1-9l1,8l1,6l1,1l1,2l1,4l1,3l1-14l1,7l1-3l1,7l1-4l1-9l1,4l1-1l1,3l1,3l1-7l1,1l1,6l1,5l1-3l1,3l1-1l1-8l1,9l1,1l1,1l1-21l1-2l1,19l1-8l1-2l1-3l1-7l1,21l1-4l1,12l1,2l1-18l1-3l1,10l1,2l1-9l1,4l1-7l1,15l1,4l1-7l1,6l1-7l1,1l1,5l1-7l1,8l1,3l1-7l1,3l1-2l1-12h1l1,1l1,3l1,2l1,1l1-4l1,8l1-3l1,13l1-11l1-3l1,4l1-7l1,8l1-5l1,23l1-23l1,4l1,4l1-14l1,22l1,11l1-22l1,3l1,13l1-5l1-1l1-7l1-3l1,4h1l1,6l1-6l1,7l1-1l1-6l1,5l1,4l1-5l1-5l1,3l1,2l1,5l1-6l1,7l1-2l1,1l1-3l1-5l1,1l1,9l1-5l1,4l1,4l1,3l1-7l1-7l1,8l1,5l1-6l1,5l1-9l1-10l1,25l1-18l1,3l1,14l1-9l1,7l1-12l1,4l1,3l1-16l1,19l1-16l1,1l1,14l1-3l1-9l1,12l1-25l1,1l1,21l1-17l1,1l1,3l1-5l1,1l1,4l1-8l1,1l1,3l1,4l1-8l1-6l1,11l1-2l1,18l1-12h1l1,2h1l1-8l1,7l1,6l1,6l1-7l1-7l1,11l1-7l1,10l1,3h1l1-9l1,7l1,9l1-21l1,5l1-3l1,9l1-3l1-3l1,13l1-7l1-6l1-10l1,8l1-1l1-10l1,24l1-1l1,2l1,1l1-3l1,5l1-13l1,5l1-5l1-4l1-3l1,6l1,11l1-2l1-5l1,7l1-7l1-6l1,6l1,11l1-14l1,5l1,15l1-6l1-10l1,5l1,4l1,4l1-2l1-5l1-1l1,6l1-3l1-11h1h1l1,8l1-5l1-3l1,7l1-6h1h1l1,1l1-20l1,28l1-6l1-11l1,7l1-3l1-10l1,11l1,9l1-9h1l1,2l1,4l1-9l1,5l1-3l1-3l1,8l1-2l1-4l1,17l1-15l1,14l1-2l1,7l1-21l1,1l1-9l1,3l1,8l1,1l1-11l1,2l1,10l1-13l1,21l1-11l1-6l1,14l1,5l1-16l1,19l1-11l1-17l1,13l1-4l1-7l1,12l1,3l1-7l1,1l1,1l1-5l1-3l1,7l1,7l1-1h1l1,4l1-4l1-2l1,1l1,16l1-6l1-4l1,1l1-1l1-8l1-2l1,6l1-17l1-4l1,11l1-5l1,4l1,13l1-4l1,4l1-9l1,14l1-18l1,8l1-6l1-1l1,5l1-4l1-1h1l1-16l1,10l1-16l1,36l1,6l1-16l1,16l1-21l1,6l1,4l1,3l1-6l1,13l1,6h1l1-5l1-5l1-13l1,2l1,8l1-4l1-11l1,1l1,8l1,6l1,4l1-20l1-4l1,3l1,9l1-5l1,2l1-6l1,8l1-4l1,4l1,2l1-8l1,13l1-8l1,5l1,11l1-6l1-3l1,1l1-2l1-14l1,8l1,8l1-2l1-8l1,11l1,7l1,1l1-5l1-9l1-3l1,7l1-9l1,4l1-11l1,23l1-5l1,6l1-14l1,10l1,5l1,3l1-1l1-10l1,11l1-8l1,14l1-14l1,4l1-5l1-6l1,11l1,5l1-5l1-3l1,5l1-1l1-11l1-3l1,6l1-4l1,8l1-4l1-11l1,6l1,1l1,10l1-4l1-14l1,9l1,3l1-1l1,3l1-15l1,11l1-1l1-5l1,5l1-7l1-2l1,13l1,3l1-3l1-6l1,4l1,2l1-4l1-6l1-1l1,14l1-5l1,4l1,1h1l1-7l1-7l1,6l1-1h1l1-3l1,6l1-14l1,15l1,7l1-4l1,3l1-13l1,19l1-35l1,21l1-15l1,9l1,3l1-12l1,5l1,5l1,1l1,4l1-3l1,4l1,2l1-7l1-3l1,20l1-7l1-10l1,4l1,12l1-11l1-14l1,18l1,6l1-23l1,14l1-4l1,7l1,1l1-8l1-7l1,16l1-10l1-8l1,13l1,8l1-9l1-1h1l1-2l1-4h1l1,3l1,5l1,16l1-15l1-7l1,1l1,13l1-4l1,8l1-1l1-8l1,15l1,6l1-12l1-14l1,19l1-14l1,26l1-30l1,19l1-15l1-11l1,12l1-9l1-5l1,7l1-8l1-1l1,4l1-4l1,5l1,9l1,10l1-7l1-19l1,10l1-1h1l1,7l1,4l1-4l1-10l1,10l1,4l1-1l1-2l1-3l1-5l1,20l1-1l1-12l1-5l1,8l1-5l1-2l1-7l1-1l1,2l1,4l1-4h1l1,8l1-8l1,7h1l1,5l1-16l1,7l1,8l1-2l1,5l1-21l1,13l1-6l1-10l1,2l1,2l1-13l1,3l1,2l1,2l1,2l1,2l1,10l1-9l1,9l1-13l1,4l1,9l1-1l1-1h1l1,9l1-17l1,8l1,10l1-2l1-15l1-7l1,15l1,5l1,7l1,11l1-7l1-3l1,2l1-7l1-1l1-6l1,3l1,7l1-12l1,9l1-2l1-6l1-2l1-2l1,19l1-17l1-2l1-9l1,13l1-5l1-10l1,10l1,13l1-23l1,27l1-13l1,14l1-20l1,13h1l1-3l1,5l1-9l1,6l1-1l1-5l1,8l1-16l1,14l1,6l1-19l1-5l1,23l1-9l1,2l1-7l1,9l1-16l1,11l1,2l1-6l1,13l1-6l1-6l1,3l1,13l1-6l1-4l1,3l1,3l1-21l1,10l1-1h1l1-12l1,10l1,12l1-21l1,10l1-6l1,3h1l1,13l1-9l1-11l1,12l1-4l1,2l1-7l1,7l1,7l1-3l1-6l1,3l1,3l1-7l1,11l1-3l1-7l1-10l1,3l1,6l1,5l1,6l1-10l1-4l1-9l1,18l1-9l1,3l1,1l1-2l1-4l1,13l1-6l1-17l1,17l1-9l1,13l1-7l1,3l1,12l1-4l1,2l1-5l1-8l1,3l1,11l1,9l1-11l1,15l1-31l1-1l1,12l1-6l1-3l1-1l1,4l1-2l1-2l1-2l1,4l1-11l1-2l1,10l1-10l1-1l1,7l1-2l1-15l1-1l1,30l1-11l1,1l1,4l1-10l1,1l1,2l1-1l1,3l1-2l1-2l1,2l1,1l1-5l1-6l1,19l1-8l1,3l1-13l1,12l1,2l1,7l1-21l1,8l1,5l1,7l1-14l1-1l1,3l1,7l1-13l1,23l1-17l1,13l1-5l1,1l1-9l1,20l1-24l1,11l1,5l1-1l1,2l1-11l1,20l1-2l1-17l1-6l1-4l1,13l1-9h1l1,12l1,4l1,8l1-12l1,16l1,8l1-7l1-1l1-3l1,8l1-21h1l1,20l1-22l1,9l1,2l1,8l1,9l1-14l1,16l1-9l1,7l1,1l1-6l1,6l1-7l1-10l1,9l1,5l1-11l1,17l1-19l1-6l1,13l1-7l1,4l1-1l1,8l1-13l1,15l1,3l1-10l1,9l1-23l1,10l1,3l1,5l1-5l1-1h1h1l1-6l1-3l1,5l1,11l1-10l1,5l1-3l1-2l1,13l1-2l1-11l1-8l1-2l1,14l1,6l1-28l1,15l1-1l1,5l1,9l1,6l1,2l1-7l1,6l1-19l1,30l1-14l1-13l1,3l1-2l1-5l1-10l1,11l1-2l1-3l1-3l1-13l1,19l1-14l1,5l1,3l1,7l1,1l1,1l1,13l1,6l1-17l1,5l1,4l1-12l1,8l1-5l1-1l1,16l1-10l1,5h1l1-1l1,3l1-2l1,2l1-8l1-3l1,12l1-4l1-9l1-5l1,12l1-8l1,7l1,6l1-7l1-16l1,3l1-14l1,23l1,1l1,5l1,1l1-13l1-19l1,19l1,6l1-10l1,7l1,4l1,1l1-3l1-2l1,6l1,5l1-7l1,14l1-7l1-6l1-4l1-3l1-3l1,7l1,2l1-8l1-5l1-8l1,22l1-24l1,12l1-5l1,1l1,9l1-5l1-5h1l1,8h1l1,8l1-8l1-6l1,8h1l1,2h1l1-10l1-6l1,17l1,1l1-2l1,11l1-5l1-1l1-7l1,7l1-16l1,16l1-7l1,5l1-3h1l1,19l1-4l1-18l1,13l1-10l1,9l1-10l1-1l1,7h1l1-8l1,1l1-4l1-11l1,26l1-12l1,10l1-13l1,20l1-2l1-1l1,11l1-17l1,14l1-22l1,13l1-6l1-11h1l1,12l1,7l1-8l1,4l1,2l1,1l1-13l1,8l1-9l1,7h1l1,8l1-9l1-13l1,11l1-6l1,15l1-15l1,9l1,3l1-19l1,3l1,26l1-16l1-1l1-13l1,11l1,13l1-24l1,9l1,16l1-12l1,4l1,13l1-18l1-4l1,15l1-13l1,6l1,1l1-3l1-2l1,3l1-1l1,13l1-2l1-15l1,22l1,6l1-16l1,10l1,3l1-2l1-1l1-4l1,7l1-2l1-5l1,5l1-7l1,8l1,10l1-30l1,14l1,11l1-4l1,2l1-6l1,9l1-10l1-6l1,11l1,1l1-4l1-3l1,8l1-6l1-2l1,6l1-4l1-6l1,9l1-13l1,12l1-12l1,20l1-1l1,3l1-19l1,14l1-16l1,14l1-8l1-12l1,8l1,11l1,6l1-6l1-1l1,3l1-6l1,1l1,3l1,7l1-3l1-5l1-4l1-4l1,11l1,1l1-2l1,3l1,6l1-6l1-5l1,1l1,1l1,17l1-14l1-5l1-2l1-2l1,6l1,5l1,1l1-6l1-1l1-14l1,20l1-5l1-2l1-6l1,10l1-5l1,3l1,2l1,10l1-14l1-4l1,11l1-5l1-1l1-3l1,3l1-4l1,9h1l1,4l1-11l1-4l1-5l1,8l1-1l1,1l1-10l1,10l1-4l1,15l1-2l1-1l1-8l1,13l1-10l1-1l1-8l1,3l1,3l1-4l1-1l1,1l1,4l1-3l1-3l1,11l1-8l1-1l1,4l1-3l1,11l1-12l1,3l1,14l1-4l1,4l1-1l1-6l1-2l1,1l1,15l1-12l1,5l1-9l1,2l1-7l1,12l1-11l1-1l1,6l1,2l1,13l1-21l1,23l1-10l1-3h1l1-2h1l1,4l1,7l1-18l1,2l1,2l1,7l1-3l1,2l1,2l1,5l1,3l1-7l1,3l1,3l1,9h1l1-20l1,12l1-15l1,10l1-21l1,8l1-10l1,7l1-3l1,10l1-22l1,24l1-5l1,7l1-9l1-8l1,14l1,8l1-4l1,8l1-15l1-5l1-2l1,5l1-1l1,4h1l1-9l1,14l1,3l1-5l1,1l1-6l1,10l1-8"/>
<path transform="translate(193.500,0) scale(0.296167,0.5)" vector-effect="non-scaling-stroke" fill="none" stroke="#ff8000" stroke-width="2.8" stroke-linejoin="miter" stroke-miterlimit="2" d="M0,2394l1-45l1,40l1-15l1,18h1l1,15l1-17l1,1l1,3h1l1-8l1,7l1,5l1-5l1-10l1-1l1-21l1,33l1-22l1,16l1-11l1,18l1-1l1-15l1,16l1-25l1,28l1-29l1,19l1,9l1-4l1-6l1-1l1,7l1,16l1-5l1-10l1-4l1,19l1-26l1,10l1-1l1,13l1-5l1,3l1-3l1-15l1,17l1,11l1-14l1,6l1-10l1,13l1-3l1,7l1-4l1,15l1-23l1-1l1-3l1,13l1-13h1l1,11l1,8l1-7l1-30l1,18h1l1,1l1,7l1,21l1-23l1-7l1,12l1-3l1,1l1-8l1,3l1,13l1-24l1,5l1,33l1-1l1-17l1-9l1,9l1-6l1,4l1,19l1-16l1,6l1-17l1,10l1,17l1-29l1,6h1l1,5l1,13l1-4l1-26l1,14l1-12l1,2l1,28l1-28l1,13l1-7l1,13l1-2l1,1l1,1l1,16l1-15h1l1-6l1,25l1-16l1-9l1,1l1,24l1-35l1,10l1,1l1-6l1-4l1,3h1l1-20l1,55l1-14l1-9l1-5l1-7l1,16l1-14l1,9l1-18l1,13l1,15l1-21l1,10l1-5l1,9h1l1-11l1-4l1,9l1-2l1-9l1,7h1l1-12l1,11l1,36l1-18l1-6l1,26l1-28l1-17l1-11l1,14l1,15l1,6l1-34l1,37l1-26l1,14l1,8l1,3l1-3l1,2l1-16l1,9l1,1h1l1,18l1-21l1-7l1,13l1-13l1-14l1-3l1,37l1-2l1,4l1-12l1,7l1,15l1-15l1-12l1,6l1,17l1-26l1-15l1-1l1,10l1,25l1-9l1-10l1-8l1,12h1l1-8l1,6l1-8l1,25l1-39l1,26l1-5l1,15l1-13l1,10l1,3l1-7l1,6l1-28l1,22l1-18l1,7l1,16l1-11l1,9l1-40l1,15l1,23l1-20l1,12l1,16l1-12l1-17l1,13l1-1l1-9l1,1l1-1l1-16l1,17l1-9l1,17l1-1l1-20l1,25l1-6l1-4l1,9l1-10l1,2l1-2l1,2l1,14l1-30l1,21l1-16l1,13l1,5l1-5l1,16l1-5l1-36l1,10l1,29h1l1-13l1-13l1,40l1-45l1,25h1l1,2l1-18l1,11l1,13l1-19l1-10l1,14l1-2l1-3l1-3l1,18l1-10l1-8l1,10l1-3l1,2l1-19l1,15l1,13l1-1l1-8l1,2l1,7l1,2l1,8l1-12l1-13l1,6l1-24l1,22l1-11l1,6l1,11l1-7l1-16l1,13l1,2l1,9l1,3l1-11l1,17l1-1l1-15l1,11l1-28l1,1l1,16l1-25l1,8l1-6l1,21l1-2l1-20l1,12l1-20l1,34l1-11l1,12l1-36l1,29l1-2l1-24l1,19l1,6l1,11l1-7l1-9l1,11l1-6l1-10l1-5l1,14l1-2l1,18l1-21l1,22l1-11l1,7l1-24l1,8l1,1l1,19l1-16l1,7l1-2l1,11l1-4l1-5l1,3l1-4l1,10l1-14l1-6l1-5l1,12l1-10l1-1l1-19l1-6l1,16l1,2l1,16l1-34l1,15l1-13l1,7l1,8l1,14l1-13l1-5l1,7l1,16l1,8l1-41l1,13l1-1l1,17l1-9l1,14l1-32l1,6l1,2l1-4l1,8l1-7l1,33l1-13l1-15l1,10l1,30l1-28l1,11h1l1-1l1-5l1-17l1-2l1-29l1,32l1,1l1-6l1,3l1-8l1,33l1-24l1-9l1-3l1,4l1,12l1-35l1,29l1-15l1,8l1,9l1-1l1-16l1,8l1,21h1l1-10l1-7l1,10h1l1-14l1-2l1,20l1-4l1,7l1-12l1,16l1-18l1,18l1-3l1-17l1-6l1,11l1-4l1,7l1-16l1-12l1,10l1,21l1,1l1-29l1,1l1-1l1-12l1,3l1,2l1-9l1-3l1,1l1,11l1-12l1,16l1-4l1,2l1-7l1,55l1-23l1,12l1-9l1-12l1,9l1,1l1-1l1,7l1,9l1-44l1,25l1,1l1-12l1,1l1,16l1-13l1,17l1-17l1,1l1-10l1-5l1,12l1,3l1-1l1-6l1,23l1-9l1,4l1-12l1,24l1,4l1-10l1-6l1,6l1,7l1,16l1-35l1-3l1-14l1,44l1-35l1,22l1-3l1,3l1-26h1l1,15l1,1l1,11l1-36l1,12l1,2l1-5l1,10l1,8l1-2l1-10l1,21l1,3l1-7l1-1l1-24l1,21l1,3l1-14l1-2l1-7l1,20l1-9l1-4l1,9l1,6l1,1l1-15l1,7l1,13l1,20l1-22l1-18l1,16l1-12l1-11l1,6l1,5l1,3l1,11l1-2l1-6l1-6l1,6l1,2l1,17l1-21l1-1l1,24l1-11l1-8l1,2l1,3l1-8l1,6l1-3h1l1-6l1-15l1,12l1,14l1-9l1-10l1,11l1-7l1,11l1,16h1l1-3l1-7l1-15l1-3l1,11l1-2l1,9l1-5l1-5l1,5l1,31l1-38l1,10l1-3l1-11l1-7l1,11l1,2l1,8l1-3l1-6l1-9l1,11l1-5l1-5l1,13l1-19l1-5l1,18l1-18l1,19l1,1l1-6l1,10l1,21l1-2l1-6l1-7l1-9l1,4l1-1l1-5l1,5l1-12l1,17l1-27l1,16l1,5l1-10l1-6l1,10l1,20l1-10l1-3l1,12l1-8l1-17l1,22l1,9h1l1-13l1-15l1,20l1-10l1,7l1,5l1-7l1-7l1-12l1,7l1,8l1-1l1,7l1-26l1,6l1,10l1-10l1,8l1-5l1,16l1,7l1-26l1,24l1-25l1,23l1-25l1,22l1-7l1,2l1,16l1-5l1-6l1-9l1,6h1l1,4l1,19l1-8l1-14l1-2l1-24l1,24l1-20l1,13l1,8h1l1,3l1-1l1,2l1,1l1,8l1-6l1-29l1,15l1,13l1-17l1,2l1-5l1-5l1,18l1-2l1,3l1-12l1,3l1,14l1-4l1,8l1-20l1,23l1-7l1-9l1,4l1-4l1-6l1-1l1-11l1,16l1,8l1-22l1,30l1-10l1-4l1,6h1l1,13l1-17l1,16l1-21l1,1l1,5l1-10h1l1,19l1,3l1,3l1-9l1,14l1-18l1-9l1,12l1-1l1-27l1,21l1-21l1,13l1,32l1-13l1-14l1,2l1-15l1,15h1l1-15l1,12l1,4l1-4l1,7l1-5l1-8l1,8l1-23l1,6l1,23l1,4l1-12l1-19l1,38l1-9l1-5l1,12l1,1l1-23l1-3l1,21l1-39l1,24l1-4l1,6l1,12l1-2l1,5l1-6l1-3l1,7l1-6l1-7l1,7l1-20l1,10l1,23l1-13l1-6l1-9l1-9l1,12l1,2l1,9l1,3l1-4l1-20l1,38l1-12l1-5l1-1h1l1,5l1-11l1-22l1,9l1-16l1,28l1,9l1,8l1-2l1,12l1-16l1,14l1-1l1-8l1-10l1,28l1-39l1,26l1-14l1,11l1-16l1,8l1-4l1-11h1l1-12l1,17l1,6l1-1l1-3l1,15l1-28l1,14l1-6l1-8l1,10l1-17l1,12l1,6l1-20l1,10l1,13l1,7l1-16l1,23l1-9h1l1-5l1,19l1-13l1,7l1-2l1,2l1-22l1,13l1-7l1,11l1-21l1-7l1,7l1,1l1,6l1-9l1-6l1,7l1,8l1,9l1-1l1-4l1,9l1,1l1,26l1-17l1-12l1-17l1,14l1-7l1,1l1,6l1-22l1-21l1,19l1-13l1,29l1-1h1l1-13l1,17l1,14l1-20l1,3l1,4l1,5l1-2l1-5h1l1-9l1,9h1l1-13l1,18l1,5l1-1h1l1-21l1-4l1,4l1-2h1l1-12l1-12l1,14l1-3l1,14l1,5l1,11l1-4l1-14l1-5l1,16l1-8l1-4l1,17l1-24l1,16l1,7l1,16l1-21l1,5l1-25l1-3l1,15l1-21l1,30l1-12l1-23l1,37l1-30l1,40l1-38l1,9l1,8l1-4l1-18l1,17l1,2l1,7l1-26l1,3h1l1,13l1-1l1-5l1,8l1,20l1-17l1,14l1-14l1,49l1-12l1-24l1,22l1,5l1-6l1-15l1,3l1-22l1-2l1-5l1-2l1-14l1,23l1-13l1-7l1,11l1,12l1-2l1,10l1-12l1,1l1,10l1,2l1-25l1-9l1,6l1,5l1-6l1,14l1-12l1,20l1-22l1,2l1,16l1,5l1,3l1-16l1,11l1-2l1,5l1-22l1-7l1,15l1-6l1,18l1-20l1-4l1-8l1,14l1,6l1-15l1-7l1,22l1-13l1,8l1-7l1,15l1-18l1,7l1,11l1-9l1-25l1,27l1-19l1,12l1-2l1,5l1-8l1-4l1,15l1,1l1,8l1-3l1-14l1,17l1,9l1-15l1-11l1-4l1,10l1-21l1,21l1-15l1-6l1,9l1-13l1-11l1,13l1,20l1-20l1,21l1-28l1,20l1,2l1,9l1-37l1,13l1-11l1,18l1-10l1,13l1-12l1-2l1,11l1,11l1-10l1,3l1-7l1,20l1-41l1,3l1,20l1,12l1,5l1-8l1-4l1-13l1-8l1-2l1,17l1-13l1,14l1,5l1-13h1l1-1l1,19l1-11l1-17l1,7l1,11l1-12l1-5l1,1l1-2h1l1,3l1-1l1,12l1-13l1-4l1,10l1-4l1-32l1,24l1,12l1-26l1,15l1-14l1-7l1,5l1-2l1-15l1,14l1,10l1-9l1,6l1,4l1,3l1,16l1-15l1-7l1,22l1,2l1-2h1l1-8l1-9l1,10l1,6l1-20l1,7l1,14l1-21l1,24l1-15l1-25l1-4l1,4l1,18l1,3l1-12l1,18l1,10l1-4l1-20l1,7l1-2l1-10l1,30l1-19l1-8l1-11l1,2h1l1,3l1,8l1-23l1,23l1,11l1-33l1,14l1,19l1,9l1-21l1-7l1,28l1-24l1-26l1,35l1-4l1,6l1,2l1,12l1-40l1-5l1-15l1,45l1-25l1-9l1-8l1,20h1l1,15l1-10l1-7l1,15l1-15l1,4l1-9l1,5l1,1l1-12h1l1,5l1-8l1,11l1-1l1,4l1-9l1,1l1-5l1-9l1,10l1-12l1-14l1,29l1-26l1,23l1,17l1-4l1-12l1,23l1-15l1-10l1,4l1-4l1,2l1,10l1-20l1,19l1,3l1-17l1-7l1,8l1,20l1-19l1,8l1,18l1-31l1,14l1-7l1-5l1,10l1-13l1,11l1-6l1,5l1-7l1-7l1,13l1-22l1,10l1-10l1,24l1-20l1,25l1-24l1,14l1-13l1,6l1-5l1,7l1-1l1,1l1-6l1-1l1,9l1,4l1-25l1-10l1,21l1,18l1-16l1-5l1-12l1,2l1-6l1,3l1,28l1-2l1-14l1-9l1,8l1-5l1,2l1,7l1-7l1,15l1,24l1-38l1,10l1-17l1,4l1,6l1,6l1-13l1-12l1,19l1-13l1,10l1-2h1l1,3l1-22l1,48l1-27l1,7l1,2l1-21l1-14l1,23l1-25l1,9l1,2l1-6l1-23l1,27l1,23l1-18l1,17l1-29l1,10l1-32l1,20l1,30l1-15l1-11l1-2l1,21l1-7l1-16l1,48l1-39l1,18l1,7l1,2l1,6l1-18l1-22l1,21l1-8l1-25l1-3l1-2l1-15l1,33l1,6l1-3l1-14l1,10l1,16l1-12l1,2l1-10l1,11l1,15l1-17l1,24l1-4l1-22l1-46l1,28l1,15l1-31l1-1l1,12l1,25l1-43l1-21l1,27l1,2l1,1l1-5l1,1l1-3l1,15l1-7l1,9l1-11l1,24l1-17l1-16l1,7l1-20l1,11l1,17l1-7l1,3l1-1l1-10l1,8l1,20l1-31l1-10l1,18l1-3l1,2l1,8l1-9l1,17l1-5l1,11l1-23l1-7l1,7l1,15l1-47l1,30l1-12l1,4l1-18l1,13l1-2l1,15l1-22l1,4l1-16l1,16l1-6l1,4l1,5l1,6l1-13l1,8l1,25l1-23l1,10l1-3l1-19l1,17l1-5l1,22l1-50l1,12l1,19l1-14l1-24l1,43l1-12l1-11l1-2l1,3l1,13l1-8l1-10l1,8l1,11l1-21l1,26l1-20l1,8l1-6l1-3l1-6l1-34l1,12l1,27l1-23l1,15l1-20l1,15l1,26l1-10l1-9l1,2l1-20l1,21l1-7l1,4l1-7l1-12l1-7l1-2l1,11l1,7l1,22l1-35l1,22l1-19l1,7l1,18l1-2l1-18l1-1l1,8l1-10l1-4l1-9l1,36l1-7l1-22l1,23l1-25l1,2l1,9l1,7l1-30l1,28l1-4l1,4l1-7l1,6l1-42l1,20l1,16l1-3l1-3l1-26l1,8l1-23l1,18h1l1-6l1,10l1-2l1,12l1-6l1-13h1l1,5l1,18l1-5l1-9l1,8l1-13l1,12l1-26l1,32l1-15l1-11l1-11l1,20l1-18l1,15l1,15l1-23l1-6l1,13l1-12l1,35l1-25l1,7h1l1-15l1,26l1-10l1-16l1-4l1-15l1,6l1,26l1-1l1-24l1,19l1-1l1-5l1,7l1-45l1,22l1-15l1,17l1-18l1,8l1,17l1-30l1,12l1,2l1,12l1-21l1,28l1,13l1-31l1,4l1-47l1,19l1,26l1-12l1,9l1,8l1-18l1-4h1l1,7l1-28l1,42l1-45l1,4l1,16l1,17l1-3l1,17l1-22l1-7l1,22l1-21l1,17l1,2l1-2l1-27l1,12l1-23l1,37l1-26l1,14l1-2l1-30l1,27l1-10l1,21l1-35l1,1l1,10l1-11l1,28l1-10l1,13l1,2l1,2l1-26l1,26l1-3l1-23l1,3l1-7l1,31l1,6l1-22l1,9l1,7l1,10l1-8l1,21l1-43l1,17l1-15l1,3l1-11l1-9l1,15l1,13l1-14l1-3l1,29l1,1l1-11l1,12h1l1-3l1,6l1,5l1-20l1-11l1-12l1,30l1-15l1,7l1-19l1,12l1-13l1-3l1-11l1,16l1,11l1,2l1-2l1-22l1,35l1-9l1-4l1-13l1,24l1-33l1-15l1,27h1l1,8l1-25l1,17l1-13l1-3l1,18l1-8l1-3l1-4l1,18l1-5l1-17l1,21l1-12l1,26l1,13l1-17l1,17l1-61l1-12l1,28l1-26l1,20l1,11l1-2l1-2l1-19l1,12l1,7l1-2l1,14l1-13l1-5l1-9l1,25l1-6l1-1l1-11l1-22l1,21l1-27l1,23l1-17l1,34l1-25l1,5h1l1,2l1-9l1-7l1,31l1-21l1,35l1-36l1,4l1-1l1-6l1,13l1-15l1,4l1,8l1,28l1-9l1-36l1,21l1-14l1,13l1,4l1-11l1,7l1,16l1-48l1,25l1,5l1,2l1-14l1,6l1-14l1,7l1-34l1,26l1-21l1,25l1,20l1-17l1,7l1-3l1,2l1-2l1,4l1-26l1,3l1-17l1,42l1-42l1,28l1-6l1-8l1-12l1,17l1,1l1,1l1-3l1-3l1-15l1,20l1-32l1,46l1-63l1-6l1,2l1-12l1,20l1-10l1-31l1-1l1-6l1,19h1l1-8l1-9l1,2l1,11l1,13l1-14l1,21l1-13l1,12l1,28l1-23l1-2l1,11l1,29l1-4l1,23l1,21l1-13l1,28l1-5l1-28l1,30l1-10l1,8l1-12l1-1l1-16l1-10l1,14l1,12l1-11l1,27l1-28l1,10l1-13l1,39l1-6l1,5l1-27l1,34l1-8l1-15l1,5l1-19l1,16l1,10l1-16l1,10l1-20l1-16l1,33l1,20l1-3l1-24l1,32l1-10l1-6l1-12l1,13l1-14l1,2l1,18l1-21l1,17l1,13l1-30l1,7l1,6l1-33l1,13l1-3l1-9l1-4l1,23l1-32l1,13l1,13l1,13l1-45l1,7l1,11l1,11l1,10l1-13l1,7l1,9l1-33l1,8l1,23l1-20l1-23l1,12l1,18l1-31l1,9l1,32l1,2l1,2l1-35l1,25l1-52l1,38l1,45l1-19l1-10l1-13l1,2l1,28l1-11l1-11l1,23l1,9l1-11l1,8l1,33l1-41l1,29l1-27l1,1l1,1l1,15l1-1l1,11l1-22l1,14l1-13l1-1l1,23h1l1-23l1,23l1-24l1,24l1,39l1-1l1-14l1,9l1,9l1,3l1,3l1-32l1-1l1-2l1-26l1,21l1,16l1-10l1-4l1-6l1,7l1,11l1,2l1,17l1-4l1-34l1,44l1-12l1,11l1-15l1,30l1-13l1,26l1-6l1,5l1-22l1-2l1,21l1-34l1-2l1,18l1-7l1-2l1-20l1-9l1,15l1,32l1-12l1,4l1-3l1-4l1,4l1-12l1,7l1,5l1-13l1,15l1-5l1,2l1,2l1,25l1-15l1,19l1-24l1,21l1-25l1,19l1-14l1-1l1-11l1,15l1-3l1-36l1,23l1,6l1,10l1-3l1-14l1,21l1-21l1,25l1-1l1-13l1-2l1,5l1,22l1-4l1-11l1,10l1,22l1-8l1-43l1,23l1-7l1-18l1-20l1,36l1-19l1-17l1,7l1,15l1,28l1-9l1-25l1,32l1-37l1,29l1,8l1,7l1-10l1-7l1-13l1-6l1,3l1,23l1-27l1,4l1-1l1,20l1-4l1,19l1,4l1-12l1-7l1-8l1-19l1,25l1-1l1-13l1,15l1,5l1-22l1,27l1-16l1-6h1l1,10l1-4l1,12l1,17l1-6h1l1-2l1,13l1,15l1-33l1-6l1,3l1,15l1-15l1-4l1,39l1-26l1-4l1-26l1,42l1-27l1,34l1-2l1-1l1-3l1,19l1-19l1,14l1-3l1,8l1,29l1-8l1-25l1,9l1,11l1,2l1,13l1-6l1-9l1,21l1-7l1,16l1-21l1,36l1-9l1,1h1l1-24l1,28l1-19l1-8l1,15l1,15l1-31l1,31l1-45l1,31l1-7l1,14l1,21l1-13l1-28l1,37l1-39l1,1l1-7l1,8h1l1,25l1-16l1,3l1-11l1,18l1-30l1-5l1,26l1-5l1-14l1,22l1-39l1,26l1,4l1-25l1,20l1,2l1-22l1-6l1,3l1-16l1-14l1,12l1-21l1,2l1-1l1-31l1-3l1,4l1-9l1,3l1,7l1-1l1-48l1,12l1-13l1,7l1,11l1-15l1,31l1-34l1-5l1,18l1,38l1-27l1,17l1-7l1,6l1,38l1-22l1-7l1,21l1,7l1,22l1,4l1,20l1-5l1,11l1,12l1,19l1-20l1,11l1-21l1,26l1,5l1,2l1,32l1,2l1-27l1,39l1,3l1-17l1-4h1l1,4l1,13l1-13l1,17l1-12h1l1,16l1,14l1,4l1-3l1-19l1,4l1-1l1,14l1,15l1-8l1-6l1-12l1,12l1-5l1,17l1-31l1,5l1,15l1-12l1,17l1-16l1,4l1,4l1-12l1,23l1,5l1-24l1,7l1,5l1,14l1-2l1,10l1-31l1,26l1-31l1,12l1-9l1,27l1-5l1-29l1-6l1,56l1-21l1-17l1,12l1,9l1,20l1-13l1-4l1-3l1,17l1-30l1,35l1-4l1-19l1-11l1,13l1,9l1,26l1-3l1-25l1-5l1-9l1,25l1-8l1,11l1-10l1-10l1-12l1-5l1,27l1-15l1,23l1-26l1-7l1,25l1-8l1,17l1-6h1l1,12l1-19l1,21l1,23l1-22l1-10l1,13l1-13l1,4l1,18l1-25l1-5l1,22l1-11l1,8l1-4l1,15l1,17l1-8l1-18l1-3l1-12l1-1l1,12h1l1-9l1-2l1-20l1,13l1,2l1,14l1-12l1-3l1-19l1,25l1-16l1,10l1-4l1-16l1,3l1,1l1-28l1,7l1-3l1,9l1,16l1-15l1,12l1-8h1l1,9l1,2l1-10l1-2l1-2l1-11l1,15l1-7l1-9l1,1l1,11l1-5l1,2l1,16l1,24h1l1,8l1-9l1,19l1-6l1,2l1-3l1,15l1-10l1,8h1l1-3l1-11l1,28l1-16h1l1,20l1,4l1,11l1,8l1-37l1,20l1,13l1-13l1,27l1-9l1-6l1,11l1,7l1,21l1,4l1-35l1,20l1-18l1,15l1-11l1,3l1,1l1,7l1-20l1,17l1-14l1-8l1,27l1-11l1-4l1,6l1,7h1l1-1l1,4l1-4l1-2l1,34l1-25l1,4l1-16l1-20l1,7l1,17l1-12l1,4l1-11l1,10l1-14l1-1l1,13l1-13l1-11l1,4l1,18l1-8l1,20l1-3l1,12l1-12l1,11l1-3l1-23l1,31l1,6l1-22l1-8l1-10l1,20l1-12h1l1,2l1-8l1,25l1-19l1,13l1,5h1l1-4l1,16l1-18l1,26l1-36l1,24l1,10l1-33l1,26l1,8l1-34l1,21l1-18l1,14l1-7l1-8l1,1l1,7l1-12l1,17l1,1l1,11l1-10l1-11l1,2l1,26l1-40h1l1,34l1-13l1-8l1,6l1,9l1-25l1,11l1,4l1,3l1,8l1-12l1-3l1-6l1,11l1-6l1,3l1,16l1,4l1-24l1,28l1-22l1-3l1,41l1-15l1-4l1,1l1,13l1,13l1-7l1-15l1-6l1,7l1,15l1,1l1-19l1,15l1,6l1-15l1,21l1,3h1l1-22l1,6l1,3l1-1l1,13l1-4l1-3l1,4l1-8l1-5l1,9h1l1,6l1-2l1-5l1,15l1-6l1-7l1,28l1,7l1-10l1-16l1,4l1,22l1-9l1-5l1,4l1-9l1-3l1,28l1-13l1,1l1-2l1,3l1-5l1-10l1,2l1,10l1-20l1,15l1-19l1-11l1,16l1-5l1-2l1,1l1-7l1,31l1-8l1-4l1-3l1,21l1,2l1,6h1l1,3l1-9l1-6l1,14l1,3l1-23l1,1l1,16l1-26l1,25l1-19l1-13l1,9l1,2l1,12l1-41l1,30l1-5l1,1l1,6l1-4l1,9l1-3l1,16l1-16l1,2l1,8h1h1l1,7l1-7h1l1-1l1,6l1,2l1-11l1,5l1,1l1,3l1-13l1,2l1,8l1,12l1-18l1,18l1-10h1h1h1l1-7l1,9l1,5l1-11l1-1l1-8l1,5l1,12l1-2l1-12l1,3l1,3l1-4l1,15l1-5l1,16l1-32l1,5l1,6l1,12l1-3l1-3l1-20l1,27l1-11l1,26l1-14l1-7l1,2l1,17l1-19l1-9l1-16l1,18l1-7l1,16l1-8l1,5l1-13l1-10l1,15l1-8l1-7l1,8l1,13l1-19l1,26l1-15l1-14l1,7l1,8l1,1l1,1l1,1l1,11h1l1-2l1-10l1,27l1-16h1l1-9l1,6l1-16l1,10l1-16l1,2l1,11l1,5l1,2l1-8l1,9l1-17l1-12l1,25l1-11l1-12l1-2l1,13l1-16l1-4l1,13l1-10l1-23l1,26l1-17l1,3l1-16l1-10l1,33l1-8l1,7l1,3l1,6l1,7l1-2l1-21l1,1l1,11l1,10l1,1l1-14l1-7l1,11l1-12l1,4l1,4l1-5l1-4l1-9l1,5l1,4l1-7l1,15l1-7l1,16l1-9l1-8l1-4l1,8l1,4l1,17l1-13l1,7l1-20l1,32l1-8l1-8l1-5l1,17l1,31l1-4l1,4l1-17l1,5l1,1l1-4l1-9l1,3l1-5l1,30l1-48l1,39l1,6l1-9l1,7l1-1l1,1l1-4l1-11l1,45l1-10l1-22l1,24l1-11l1,1l1-9l1,1l1,27l1-14l1,4l1,3l1,12l1-18l1,19l1,4l1-8l1,2l1,7h1l1,17l1-29l1,21l1-8l1-16l1,7l1-10l1,13l1,11l1-20l1,9l1-1l1-7l1,10l1,4l1,4l1-9l1,7l1,15l1-11l1-1l1,11l1-1l1-19l1,18l1,12l1-12l1-15l1-3l1-14l1,22l1-8l1,1l1-8l1,9l1-6l1,17l1-1l1-17l1,2l1,24l1,4l1,3l1-17l1,5l1-2l1-1l1-2l1,15l1-14l1,22l1-23l1,13l1,8l1-3l1-11l1-18l1,9l1,15l1-10l1-2l1-5l1-4l1-1l1-3l1,21l1-8l1-4l1-1l1-7l1-13l1,12l1-6l1,7l1,7l1,9l1-18l1,12l1,15l1-24l1,16l1-10l1,10l1,9l1-16l1,11l1-6l1,14l1-40l1,17l1,11l1,1l1,9l1-1l1-13l1-12l1,22l1-10l1-2l1,9l1,6l1-14l1,11l1-26l1,23l1,15l1-11l1-13l1-10l1,11l1-6l1,3l1-9l1,10l1,8l1-17l1,5l1,3l1,12h1l1-4l1-26l1,23l1-6l1,14l1-13l1,15l1,11l1-9l1,6l1-18l1-7l1-16l1,7l1,6l1,20l1-23l1,11l1,3h1l1-1l1,10l1-16l1,5l1,1l1,12h1l1-6l1,2l1-24l1,23l1-7l1-4l1,18l1-7l1-4l1-7l1,16l1,7l1-12l1,5l1-3l1-7l1-8l1,1l1,1l1-2l1,3l1-8l1,15l1-19l1,21l1-18l1-3l1,7l1-12l1-8l1,22l1,2l1-24l1,22l1-12l1,3l1,18l1-27l1,5l1,21l1-4l1,1l1-14h1l1,1l1,10l1-6l1,9l1,16l1-38l1,19l1-1l1-7l1,12l1-13l1-1l1,12l1,10l1-16l1,4l1-9h1l1-6l1,11l1,3l1-18l1,3l1,14l1-14l1-6l1,19l1-8l1,2l1,2l1-3l1,24l1-42l1,15l1,4l1,1l1-15l1,5l1,4l1,10l1,3l1,1l1-12l1,13l1-13l1-11l1-1l1,3l1-6l1-8l1-5h1l1,23l1-13l1,5l1,11l1,2l1-6l1-5l1-5l1,3l1-1l1-1l1-14l1,9l1-1l1-9l1-15l1-10l1,20l1-26l1,15l1,22l1-29l1-15l1,20l1-18l1,2l1-18l1,4l1,17l1-18l1-10l1,11l1,3l1,7l1-4h1l1-16l1,9l1-21l1,29l1-19l1,2l1,20l1-10l1-6l1-3l1,2l1,19l1,23l1-41l1,23h1l1-15l1,6l1,3l1-10l1-2l1,24l1-7l1-6l1-7l1,8l1,6l1,14l1,5l1-8l1-8l1,11h1l1-5l1,13l1-8l1,2l1-2l1,3l1,3l1-17l1,18l1-1l1-14l1,9l1,6l1,7l1-20l1,6l1-9l1,14l1-26l1,4l1,19l1,5l1-19l1,8l1,7l1-13l1,9l1-12l1-8l1,41l1-30l1-8l1-12l1,29l1-7l1,4l1-18l1,8l1-9l1-10l1,7l1-5l1-7l1-5l1,10l1-9l1-6l1,3l1,1l1-1l1,5l1-8l1,27l1-22l1,5l1-8l1,15h1l1,12l1-14l1,22l1-21l1,27l1-13l1,20l1-4l1-23l1,32l1-16l1-16l1,25l1,3l1,11l1-33l1-4l1,34l1-1h1l1,1l1,19l1-12l1,15l1-8l1-1l1,1l1,23l1-2l1-1l1-12l1,5l1,4l1-18l1,8l1,28l1-29l1,11l1-4l1,5l1,10l1-16l1,15l1-4l1,8l1-14l1,21l1-8l1-5h1l1-13l1,28l1-19l1,17l1,8l1-33l1,17l1-4l1,9l1,6l1-12l1,28l1-16l1,16l1-16l1,3l1-4l1,24l1-30l1-24l1,33l1-6l1,12l1,3l1,2l1-6l1,1l1,9l1,8l1-23l1,27l1-30l1,11l1,12l1-19l1-2l1,13l1,1l1-26l1,11l1,5l1,9l1-9l1,7l1-1l1,5l1,14l1-18l1-4l1-10l1,4l1-5l1,10l1-5l1-3l1,10l1-14l1,18l1-4l1,1l1-2l1,6l1,13l1,1l1-18l1,12l1-8l1,12l1-2h1l1-1h1l1-17l1,16l1,2l1-2l1-3l1-3l1,1l1-4l1-12l1,21l1,8l1,8h1l1-10l1-5l1,5l1,10h1l1-22l1,17l1-10l1,8l1-1l1,9l1-16l1,13l1-11l1,22l1,2l1-9l1-1l1-10l1,10l1,6l1-13l1,1l1,4l1-8l1,13l1-1l1,19l1-21l1-10l1,15l1-7l1-5l1,5l1-14l1,20l1-3l1-1l1,1l1,16l1-20l1-3l1,8l1-6l1-6l1,5l1-25l1,16l1,14l1-1l1-18l1,7l1,6l1-6l1,6h1l1-11l1,18l1-10h1l1,2l1-17l1,17l1,9h1l1-13l1-5h1l1,21l1-1l1-11l1-26l1,25l1,15l1-25l1,7l1-6l1,15l1,14l1-10l1-17l1-1l1,11l1-6l1-12l1,24l1-9l1,9l1-2l1-2l1-11l1,3l1,4l1-6l1,7l1,1l1-10l1,6l1,8l1-19l1,11l1,20l1-13l1-6l1,2l1,9l1-15l1,12l1,10l1-22l1-2l1,9l1-14l1,1l1,8l1,6l1-12l1-25l1,20l1,13l1,7l1-11l1,22l1-29l1,1l1,6l1,6l1-10l1,3l1-4l1,3l1-2l1-4l1,1l1-6l1-5l1,37l1-33l1,19l1-8l1-10l1-5l1-7l1,8l1-17l1,6l1,16l1-7l1-18l1,13l1-11l1-6l1,24l1-22l1,19l1,11l1-3l1-29l1,6l1,3l1-5h1l1-7l1,7l1-23h1l1,9l1-6l1-21l1,18l1,1l1-1l1-8l1,13l1-5l1-15l1,11l1-6l1-5l1,1l1-6l1,6l1-5l1,14l1-8l1,12l1-15l1,3l1,2l1,8l1,5l1-4l1,5l1,2l1-1l1,4l1-22l1,25l1-4h1l1-9l1,16l1,6l1,2l1-12l1-7l1,29l1-19l1-8l1,26l1-29l1,27l1-8l1,21l1-13l1-6l1,6l1-8l1,1l1,12l1,1l1-16l1,7l1,19l1-29l1,14l1,21l1-23l1,16l1-7l1-7l1,15l1-2l1-3l1,2l1,10l1-9l1-12l1-9l1,8l1-5l1-1l1,10l1-15l1,16l1-4l1,3l1-3l1-6l1-1l1,18l1-7l1-17l1,7l1-6l1,2l1-4l1,4h1l1,9l1,23l1-15l1,2l1-5l1-1l1,5l1-18l1,21l1-4l1-11l1,3l1-1l1,19l1-15h1l1,2l1,4l1,11l1,1l1,5l1-8l1-2l1,9l1-9l1,25l1-22l1,11h1l1,7l1,10l1-13l1-6l1,17l1-8l1,5l1-13l1-1l1,1l1,1l1,3l1,11l1-9l1-8l1-11l1,24l1-3l1,7l1-34l1,44l1-21l1-1l1,7l1,1l1,16l1-27l1,22l1,11l1-5l1-7h1l1-11h1l1-1l1-11l1,24l1-14l1,3l1,10l1-1l1-7l1-12l1-5l1,24l1-22l1,13h1l1-7l1,7l1,3l1,5l1-19l1-14l1,9l1-8l1,1l1,11l1,12l1-3h1l1,2l1-1l1-15l1,4l1-2l1,15l1-30l1,9l1-22l1,20l1-2l1-1l1,17l1-10l1,17l1-5l1-6l1-6l1,21l1-15l1,14l1-2l1-21l1,9l1,3l1-11l1-11l1,23l1-14l1-6l1,9l1,19l1-27l1,4l1-3l1,14l1-3l1,11l1-8l1-2l1,6l1,1l1-7l1,2l1,7l1-12l1-22l1-4l1,9l1,17l1-5l1,7l1-10l1,3h1l1,3l1,2l1-5l1-6l1-4l1,15l1-7l1,7l1-14l1,8l1,5l1-5l1-7l1,10l1,2l1-16l1-2l1,20l1-21l1,2h1l1,11l1-2l1,9l1-23l1,1l1,12h1l1-11l1,1l1-4l1,8l1-6l1,24l1-14l1-6l1-21l1,15l1,15l1,8l1-21l1,24l1,2l1-28l1,16l1-14l1,11l1,1l1,4l1-4l1-4l1,6l1,9l1-8l1,9l1-11l1,5l1,9l1-23l1,5l1-26l1,15l1,27l1-21l1,2l1,16l1-8l1-1l1,3l1,10l1-12l1-15l1,20l1-7l1-3l1-11l1-10l1,28l1-33l1,24l1-2l1-3l1,1l1-4l1-2l1,11l1-8l1-1h1l1,6l1,11l1-15l1,8l1,13l1-19l1,12h1l1-7l1,14l1,11l1-12l1,14h1l1-2l1-12l1,13l1,3l1,3l1-1l1-7h1l1-8l1,15l1-8l1,24l1-9l1-13l1,11l1-13l1-6l1,20l1-15l1,9l1,6l1,4l1,15l1-12l1-4l1-9l1-6l1,18l1,4l1,12l1-20l1-13l1,15l1,3l1,6l1-9l1-13l1-9l1,9l1,1l1,7l1,5l1-15l1-3l1-10l1,28l1-27l1,20l1-4l1,10l1-1h1l1-2l1,10l1-15l1,8l1,13l1-18l1,23l1-18l1,16l1,2l1-16l1,8l1,12l1-8l1,19l1-11l1-14l1,8l1-4l1,13l1-28l1,20l1,2l1-3l1-11l1-17l1,10l1,5l1,19l1-9l1-2l1,8l1,5l1-17l1,8l1,1l1-2l1-1l1,1l1-24l1,17l1-5l1-6l1,10l1,4l1,2l1,9l1-2l1-1l1,2l1-3l1,1l1-4l1,10l1-9l1-8l1,1l1-11l1,15l1-20l1,10l1-10l1,9l1,9l1,2l1,11l1-7l1-1l1-7l1-10l1,14l1,9l1-23l1-5l1,2l1,6l1,11l1,6l1-21l1,3l1,11l1,5l1-4l1,1l1,9l1-12l1-8l1,25l1-1l1-8l1,1l1-11l1,18l1-9l1,6l1-13l1-5l1,40l1-28l1,5l1,3l1,6l1-12l1-19l1,17l1-10l1-1l1,5l1-4l1-4h1l1,7l1,5l1-1l1-17l1,11l1-1l1,1l1,1l1,4l1-2l1-4l1,9l1-1l1-15l1-7l1,1l1,3l1-6h1l1,7l1,10l1,3l1-14l1,11l1-2l1,2l1,7l1-3l1-1l1-6l1,11l1-13l1,7l1-3l1-2l1,3l1,2l1,7l1,5l1-8l1-11l1,20l1-16l1,15l1-12l1-9l1,8l1-2l1,12l1-15l1-2l1-14l1,19l1-3l1,1l1,12l1,3l1-5l1-3l1-3l1,2l1,7l1-5l1-12l1,9l1-6l1,3l1,16l1-18l1,12h1l1-8l1,10l1-5l1-5l1-13l1,1l1,3l1,5l1,4l1,14l1-12l1,13l1-5l1-2l1-7l1,2l1,6l1-7l1,1l1-12l1,17l1,3l1-2l1,18l1,1l1-9l1-12l1,18l1-3l1,6l1-13l1,3l1-2h1l1-3l1-4l1-2l1-6l1-11h1l1,14l1,3l1,10l1-1l1-10l1-4l1-2l1-2l1,21l1-21l1,6l1-5l1-7l1,4l1-9l1,12l1,13l1-14l1,13l1-12l1,3h1l1,10l1-17l1,14l1-16l1,13l1,15l1-31l1,12l1-1l1,4l1-2l1,14l1-5l1,3l1,6l1-7l1-2l1,21l1-14l1-10l1,4l1,2l1-2l1,8l1-11l1,15l1-12l1,7l1-14l1,17l1-9l1-3l1,11l1-10l1,8l1-9l1,24l1-18l1-4l1,3l1,7l1-19l1,14l1-11h1l1-2l1,14l1-21l1,4l1-1l1,6l1,3l1-4l1-4l1-10l1,32l1-8l1,8l1-5l1-15l1,19l1,13l1-32l1,23l1-29l1,8l1-6l1,7l1,8l1,2l1-4l1,3l1-4l1,10l1,1l1,3l1-8l1,7l1-12l1-15l1,24l1,3h1l1-17l1,18l1-4l1-9h1l1,17l1,7l1-14l1-16l1,13l1-15l1,7l1,4l1-6l1,14l1-20l1,14l1,12l1-9l1,11l1-11l1,7l1-11l1,4l1-3l1,7l1-6l1,1l1-27l1,25l1,9l1,7h1l1-2l1,14l1-18l1,4l1,8l1-6l1-8l1-9h1l1,9l1,1l1-2l1-6l1-3l1,12l1-10l1,6l1,13l1-9l1-4l1-1l1,7l1-7l1,3h1l1-14l1,14l1,7l1-3l1,5l1-7l1-1l1,11l1,4l1-24l1,6l1-10l1-4l1,12l1-1l1-21l1,13l1,1l1-3l1,2l1,23l1-30l1,5l1,17l1-2l1,4l1-6l1,1l1-2l1,9l1-26l1,16l1-18l1-1l1,12l1,18l1-9l1-5l1,14l1-9l1-4l1,11l1-15l1,29l1-15l1-6l1-2l1,13l1,6l1-17l1,2l1,5l1-8l1,12l1-3l1-10l1,10l1-15l1,6l1,1l1-14h1l1,15l1-15l1,16l1,3l1,1l1,4l1-12l1,7l1,6l1-1l1-4l1,9l1-8l1,2h1l1,1l1,12l1-24l1,7l1,18l1-22l1,9l1-4l1,13l1-13l1,6l1,20l1-18l1,1l1,4l1-8l1-6l1-9l1,4l1,1l1-1l1,1h1l1,12l1-3l1-6h1l1,2l1,1l1,3l1,4l1-7l1-7l1,9l1,5l1,9l1-6l1-3l1,3l1-12l1,5l1,9l1-28l1,7l1,22l1-19l1-5l1-2l1,8l1-6l1,5l1,2l1,12l1-16l1,10l1-10l1,29l1-28l1,9l1,1l1-6l1,9l1-1l1-5l1,9l1-18h1l1-3l1,1l1,3l1-5l1-1l1,1l1,4l1-4l1,3l1-2l1-6l1,20l1-11l1,14l1-14l1,10l1-11l1,16l1-18l1-3l1,8l1-2l1,32l1-28l1,12l1-26l1,23l1-15l1,7l1-4l1,14l1-12l1,6l1,6l1,3l1-3l1,12l1-1l1-17l1,5l1,2l1,2l1-22l1,11l1-5l1-7l1,11l1-7l1,9l1,21l1-5l1,2l1-4l1-10l1-5l1-10l1,4l1,24l1-22l1,5l1,3l1-20l1,12l1-9l1,7l1-14l1,24l1-12l1,10l1-15l1,8l1-4l1,25l1-26l1,12l1,3l1-9l1,9l1-4l1,4l1-12l1,12l1,4l1-24l1,13l1-4l1,2l1,4l1-5l1,3l1-3h1l1,5l1-12l1,7l1,4l1,2l1,5l1-13l1,1l1-12l1,2l1,5l1-6l1,4l1-20l1,14l1,10l1-4h1l1-7l1,12l1-2l1,2l1,4l1,1l1-3l1-5l1,21l1-17l1,1h1l1-3l1-12l1,5l1-11l1,23l1-22l1,21l1-8l1-1l1-7l1-9l1,8h1l1,16l1-12l1-6l1,10l1,19l1-5l1,4l1-11l1-6l1,23h1l1-23l1,6l1-2l1,21l1-18l1-6l1,21l1-13l1-4l1,2l1,5l1-12l1-10l1,15l1,3l1-4l1,12l1-10l1-10l1,21l1-5l1-1l1-14l1,29l1-18l1,12l1-11l1,14l1-11l1-11l1-9l1,17l1-15l1,12l1,6l1-13l1,14l1-2l1-3l1,2l1,9l1-9l1,9l1-10h1l1,7l1,1l1-4l1,8l1,10l1-11l1-15l1,28l1-10l1,9l1-8h1l1,9l1-8l1-10l1,17l1-14l1,12l1-6l1-3h1l1-14l1,7l1,29l1-41l1,18l1-13l1,6l1-16l1,9l1,8l1,9l1,6l1-2l1-5l1-9l1,17l1-5l1-14l1,25l1-10l1-1l1-7l1-9l1,10l1-7l1,14l1-14l1,2l1,12h1l1-6l1,7l1-4l1-9l1,13l1-18l1,7h1l1-1l1-1l1,3l1-5l1,4l1-2l1-3h1l1,6l1-4l1-6l1,8l1-6h1l1,7l1-7l1,7l1,7l1-11l1,4l1-11l1,20l1-10l1-2l1-5l1,5l1,5l1,3l1-11l1,12l1-17l1,4l1,25l1,3l1-2l1,2l1,18l1-14l1,1l1-4l1-1l1-13l1,12l1-4l1-3l1,4l1-3l1,12l1-23l1,12l1-12l1,4l1-11l1,5l1,10l1-10l1-4l1,14l1-23l1,23l1-16l1,14l1-5l1-1l1,13l1-19l1,4l1,2h1l1-18l1,9l1-21l1,10l1,1l1-7l1-5l1-4h1l1-9l1,17h1l1-14l1,5l1-5l1,9l1-9l1,5l1-5l1-15l1-15l1,29l1-6l1-4l1-3l1-10l1,1l1,4l1-13l1,1l1-9l1,2h1l1,1l1-9l1,21l1-4l1-1l1,16l1,7l1,1l1-3l1,1l1,15l1-23l1,16l1-7l1,15l1-1l1,2l1,1l1,1l1-2l1,15l1-1l1,1l1-11l1-7l1,14l1,9l1-19l1,19l1-1l1-8l1-14l1,23l1-20l1,12l1-3l1,5l1,7h1l1-4l1,2l1,10l1,2l1,14l1-2l1-10l1,1l1,5l1,2l1-7l1,7l1-6l1-8l1-7l1,9l1,7l1,7l1,2l1,11l1-14l1-3l1,9l1-6l1-6l1-1l1-19l1,11l1,12l1,2l1,8l1-1l1-4l1-10l1,9l1,7l1,3l1,17l1-9l1-9l1-8l1-3l1,6l1-17l1,18l1-5l1-8l1,6l1,2l1-6l1,14l1-3l1-2l1,9l1-1l1-5l1-11h1l1,14l1-5l1,11l1-11l1,8l1-8l1,1l1,14l1-13l1,1l1,4l1,13l1-26l1,16l1-16l1,8l1,6l1,3l1,2l1-20l1,1l1,5h1l1-1l1,3l1-3l1,3l1-2l1,3l1,17l1-1l1-7l1,1l1,3l1,12l1-16l1-4l1-3l1-1l1-4l1,10l1-9l1,4l1,2l1,3l1-8l1,6l1,4l1,1l1-10l1-5l1,13l1,7l1,3l1-5l1-4l1-1l1,9l1-10l1-3l1-7l1,1h1l1-7l1,9l1,6l1-10l1,12l1-6l1,12l1-14l1,6l1,2l1,2l1,3l1-4l1,16l1-17l1,5l1,17l1-16l1-3l1,7l1-11l1,11l1-18l1-5l1,3l1,10l1,5h1l1,3l1-9l1-2l1,14l1-18l1,10l1-3l1,5l1-20l1,8l1,9l1-2l1-17l1,18l1-1l1-5l1-8l1,1l1,19l1-18l1,3l1,10l1-7l1-2l1-12l1,19l1-11l1,3l1,10l1-4l1-5l1,9l1,4l1-3l1-5l1-7l1,7l1,2l1-21l1,21l1-24l1,23l1-14l1,2l1,16l1-2l1-6l1-1l1-1l1,10l1-16h1l1,7l1,2l1-4l1-11l1,17l1-11l1,2l1,12l1-8l1-6l1,9l1-5l1,8l1,1l1,9l1-11l1,4l1-12l1-1l1-3l1,5l1,1h1l1-21l1,21l1-12l1,14l1-20l1,6l1-5l1,11l1-11l1-2l1,2l1,11l1,2l1-4l1-11l1,23l1-3l1-14l1,6l1,2l1-6l1,2l1-15l1,6l1,5l1-3l1,14l1-1l1-3l1-3l1,6l1-4l1,9l1-4l1,3l1-14l1,5l1,9l1-8l1,9l1-5l1,2l1,11l1-26l1,24l1-9l1,9l1-15l1-5l1,7h1l1,13l1-12l1,4l1,4l1,1l1-2l1,1l1-2l1,8l1-7l1-4l1,1l1,3l1-21l1,13l1,3l1,3l1,7l1-5l1-1l1-10l1,29l1-11l1-17l1,7l1-10l1,28l1-10l1-1l1-9l1-23l1,30l1-10h1l1-2l1-1l1-4l1,9l1,1l1,10l1-8l1-4l1-3l1,23l1-16l1,17l1,22l1-34l1-15l1-3l1,12l1,6l1-16l1,1l1,4l1-4l1,13l1-7l1,8h1l1,3l1-6l1-1l1,1l1-9h1l1-10l1,19l1-9l1-6l1-17l1,11l1,10l1,14l1-8l1-3l1,8l1,18l1-39l1,16l1,10l1,7l1-4l1-22l1,14l1-3l1-2l1-13l1,18l1-9l1,10l1-11l1,2l1,15l1-23l1,13h1h1l1,3l1,8l1-22l1-1l1-1l1,4l1,6l1,4l1-6l1,1l1-7l1,19l1-12l1-3l1,3l1-6l1-4l1,15l1-8l1,23l1-24l1,2l1-10l1,22l1-14l1-9l1,11l1-7l1,13l1-3l1,6l1,11l1-11l1-15l1-4l1,31l1-9l1-9l1,9l1,3l1-8l1,13l1,6l1-8h1l1-10l1,2l1-28l1,20l1,23l1-21l1,1l1-2l1,9l1-2l1,5l1-11l1-3l1,4l1-3l1-7l1,2l1,5l1,23l1-18l1,20l1-14l1-7l1,16l1-3l1,9l1-24l1,20l1-28l1,2l1,16l1,9l1-8l1-15l1,16l1,5l1,2l1-2h1l1-9l1-10l1,21l1-1l1-3l1-25l1,13l1,18l1-16l1,20l1-23l1,15l1-15l1,23l1-2l1-8l1,4l1,3l1-8l1,3l1,19l1-8l1-10l1,7l1-7l1-14l1,2l1,14l1-12l1,7l1-7l1-1l1,4l1-11l1,22l1-9l1-5l1,17l1-11l1-16l1,16l1-1l1-6l1,17l1-15l1,4l1,5l1-5l1-4l1,5l1,1l1,9l1-13l1-14l1,7l1,1l1,1l1-7l1-5l1,12l1-9l1,16l1-6l1-2h1l1,9l1-4l1-8l1,16l1-8l1,8l1-4l1,16l1-15l1-7l1,7l1,11l1-8l1-14l1,9l1-7l1,14l1-10l1-4l1,7l1-14l1-14l1,15l1,2l1,7l1-10l1,8l1,3l1-2l1-2l1,11l1-16l1,15l1-7l1-6l1-4l1,2l1-4l1-3l1,1l1,6l1-3l1,7l1-1l1-2l1,19l1-11l1-3l1,4l1,10l1-17l1,4l1-10l1,11l1-4l1-4l1,13l1-1l1-3l1-7h1l1,19l1-26l1,15h1l1-4h1l1,3l1-2l1-2l1-5l1,3l1,19l1-30l1-5l1,19l1,17l1-27l1,19l1-7l1,7l1-13l1,13l1-10l1,12l1,7h1l1-5l1-22l1,15l1,4l1-9l1-2l1-6l1,24l1-12l1-6h1l1,7l1,2l1-13l1,14l1,1l1-4l1,14l1-15l1-1l1-21l1,18l1,11l1,4l1-3l1-1l1-8h1l1,2l1,8l1-8l1-6l1,15l1-15l1-1l1,2l1,9l1-9l1,8l1-4l1,8l1-9l1,7l1-4l1,9l1-6l1-9l1,17l1-9l1,1l1-6l1,3l1-5l1-4h1l1,2l1,3l1-8l1,16l1-14l1-2l1,2h1l1,7l1,3l1-1l1-7l1-16l1,10l1,28l1-21l1,6l1,14l1-9l1,1l1-8l1,4l1,6l1,3l1,10l1-6l1-13l1,8l1-1l1,5l1,10l1-15l1-4l1,3l1-1l1,6l1-8l1,1l1-5l1,5l1,6l1-6l1,6l1-4l1-1l1-17l1,19l1-8l1-24l1,13l1-12l1,13l1-3l1-2l1,16l1,3l1-4l1-2l1,15l1-9l1,1l1,7l1-5l1-4l1-4l1,3l1,2l1-9l1-9l1,12l1-3l1,10l1-6h1l1-1l1,11l1-26l1,21l1-10l1,8l1-3l1,2h1l1,4h1l1-12l1,13l1-7l1,10l1-2l1-1l1-7l1-1l1,2l1,9l1,8l1-17l1,17l1-22l1,8l1,8l1-2l1-6l1,15l1-12l1-5l1-13l1,9l1-2h1l1,9l1-8l1-4l1,1l1,13l1-6l1,16l1-2l1-4l1-14l1,17l1,2l1,6l1,5l1-5l1-11l1-6l1-3l1,1l1,1l1,1l1,17l1-31l1-9l1,15l1,5l1-8l1,15l1-6l1,7l1-1h1l1-5l1-4l1,3l1,10l1-17l1,6l1,2h1l1-8l1,11l1-2h1l1-11l1,5l1,9h1l1,4l1-4l1-14l1,9l1-8l1,13l1-11l1-13l1,32l1-13l1,10l1-7l1,13l1-6h1l1-19l1,8l1-7l1,17l1-12l1,8l1-14l1,7l1,6l1-12l1,6l1-21l1,15l1,11l1,14l1-34l1,20l1,1l1-15l1-2l1,2l1-4l1,3l1-15l1,14l1-7l1-4l1,7l1-7l1-15l1,17l1,1l1,2l1-5l1,1l1-6l1,5l1,6l1-20l1,7l1-2l1,2l1-8l1,26l1-6l1,12l1,9l1-24l1,15l1-3l1-3l1,2l1,2l1-5l1-10l1-9l1-1l1-3h1l1,9l1-7l1-6l1-4l1,17l1-4l1,10l1-6l1-2l1,4l1-17l1,5l1-6l1-4l1,4l1-9l1,16l1-1l1-3l1,5l1-10l1,9l1-20l1,5l1,12l1-7l1,3l1-15l1,12l1,6l1,3l1-24l1,33l1-3l1-1l1,4l1-9l1-7l1,13l1-4l1-8l1-14l1,6l1,10l1-8l1,13h1h1l1-4l1-3l1,1l1-7l1-3l1,14l1-9l1-13l1,18l1-9l1,5l1,1l1-3l1,18l1-6l1-17l1,38l1-22l1,4l1,4l1-13l1-12l1-4l1,30l1-29l1,16l1-14l1,6l1,19l1-13l1,5l1-8l1-4l1,14l1-6l1-7l1-5l1-3l1,9l1,9l1,4h1l1,7l1-13l1,25l1-10h1l1,15l1-5l1-7l1,2l1-11l1,2l1,7l1-5l1,9l1-14l1,5l1-15l1,15l1,5l1-3l1-14l1,9l1-14l1,13l1,6l1-1l1-5l1,9l1-17l1,24h1l1-22l1,21l1,7l1-6l1-5l1-8h1l1,10l1,4l1,10l1-15l1,22l1-1l1-2h1l1-6l1-1l1,4l1-6l1,10l1,10l1,5l1-11l1-8l1-2l1,17l1-3l1-15h1l1,7l1,6l1-8h1l1,12l1-2l1,3l1-11l1,10l1-6l1,6l1,7l1-9l1-5l1,10l1-17l1,7l1,3l1-4l1-7l1,18l1-13l1,5l1-3l1-15l1,25l1-3l1-4l1,3l1,6l1-16l1,20l1-13l1,1l1,3l1-4l1,15l1-6l1-1l1,6l1-8h1l1,8l1,5l1-6h1l1-7l1-1l1,15l1,1l1-8l1,2h1l1-6l1,12l1,2l1-5l1-2l1,5l1-14l1-5l1,17l1-9l1,8l1-3l1,1l1,3l1-6l1-13l1,23l1-17l1,10l1-11l1-6l1,9l1-14l1,21l1-7l1,19l1-3l1-3l1-1l1-7l1,1l1,3l1-9l1,9l1-5l1,5l1-4l1,6l1-3l1-3l1,3l1-6l1,1l1,3l1-4l1-15l1,13l1-4l1,19l1-4l1-4l1-9l1,3l1,3l1,7l1-18l1,4l1-2l1,1l1,2l1,1l1,10l1-9l1,8l1-5l1-11l1,19l1-1l1-8l1,3l1,2l1,5l1-12l1,3l1,9l1-8l1-1l1,17l1-7l1-3l1,14l1-4l1-9l1-8l1,4l1-1l1,8l1-11l1,4l1-8l1,10l1,1l1,8l1-1l1-14l1,5l1,5l1-6l1,5l1,2l1-2l1-9l1,11l1,5l1-7l1,4l1,2l1-4l1-1l1,3l1,16l1-1l1-22l1,7l1,7l1-5l1,8l1-24l1,9l1-1l1-2l1-3h1l1,3l1-11l1,26l1-6l1,5l1-9l1,10"/>
<path transform="translate(193.500,0) scale(0.296167,0.5)" vector-effect="non-scaling-stroke" fill="none" stroke="#0000ff" stroke-width="2.8" stroke-linejoin="miter" stroke-miterlimit="2" d="M0,1564l1-22l1-8l1-18l1,25l1,18l1-8l1,13l1,8l1-13l1,38l1-34l1,19l1,21l1-28l1,1l1-9l1,12l1-22l1,13l1,23l1-17l1-2l1,3l1,2l1-3l1-1l1-25l1,22l1-12l1,17l1-6l1-5l1,13l1-11l1,27l1-8l1,11l1-15l1,26l1-21l1,13l1-7l1-15l1,13l1-9l1,11l1,8l1-7l1,5l1-15l1,16h1l1,10l1-18l1,9l1-7l1-21l1,7l1,11l1-17l1-2l1,13l1-6l1-6l1,10h1l1-2l1,1l1,8l1,11l1-14l1,6l1,2l1-10l1,10l1,7l1-16l1,14l1-18l1,16h1l1-16l1-14l1,18l1-16l1-5l1,23l1,22l1-10l1-1l1-16l1,11l1-12l1,25l1-14l1,4l1-3l1-4l1,11l1-4l1-9l1,13l1,1l1,9l1-14l1,10l1-20h1l1-15l1,21l1-23l1,2l1,18l1-12l1,3l1,21l1-4l1,15l1-15l1,13l1,2l1-8l1,17l1-24l1,1h1l1,14l1-6h1l1,5l1,10l1-8l1-8l1,12l1,8l1-15l1,8l1-21l1,19l1,2l1-2l1-6h1l1-16l1,13l1-29l1,10l1,18l1-3l1-17l1,29l1-9l1-7l1,15l1,1l1,9l1-25l1,8l1-4l1-17l1,29l1,9l1-25l1,14l1,1l1,6l1-9l1,11l1-15l1,24l1-14l1,21l1-38l1,17l1-12l1,13l1,7l1-18l1-4l1-2l1,20l1,7l1-3l1-11l1-6l1,11l1-5l1-1l1,26l1-12l1,10l1-8l1,17l1-1l1-22l1,1l1-2l1,20l1,2l1-12l1,19l1-20l1-16l1-11l1,14l1,2l1-6l1,1l1,7l1-7l1,5l1,14l1-9l1-5l1,6l1-3l1,21l1-25l1-10l1,21l1-1l1-3l1,8l1,6l1,13l1-25l1,2l1-3l1-5l1,16l1-9l1-2l1,13l1-9l1,8l1,5l1-2h1l1,2l1-9l1,6l1,9l1-9l1-11l1,25l1-31l1,14l1-2l1,4l1-24l1,7l1-1l1,6l1-9l1-5l1,2l1,14l1-12l1,4l1-17l1,12l1-15l1,24l1-4l1-9l1-3l1,12l1,4l1-5l1,3l1,2l1-4l1,4l1,6l1,11l1-7l1-15l1,19l1,1l1-15l1,13l1-12l1-8l1,2l1,21l1-12l1,10l1-6l1-4l1,7l1,8l1,16l1-27l1,27l1-4l1-27l1,25l1-1l1-2l1-14l1-10l1-22l1,20l1-12l1-13l1,10l1-5l1,23l1-29l1,4l1-7l1,18l1,5l1,1l1-4l1,16l1-3l1,11l1-5l1-16l1,16l1-6l1,20l1-16l1,3l1,3l1-14l1,5l1,10l1-17l1,2l1-2l1-13l1,7l1,7l1-10l1,4l1-6l1-8l1-5l1,37l1-1l1-9l1,7l1-2l1,1l1-11l1-9l1,4l1,4l1,9l1,2l1-16l1,2l1,14l1,9l1-32l1,15l1,1l1-3l1-3l1,1l1,3l1-16l1,12l1,14l1-3l1-1l1-2l1-5l1,15l1-20l1,4l1,10l1-16l1-13l1,5l1-3l1,8l1-2l1,15l1-7l1,6l1-12l1,12l1,2l1,14l1-28h1l1,9l1-19l1,7l1,1l1-2l1-11l1,9l1-18l1,27l1-11l1,7l1-2l1,7l1,2l1-1l1-7l1,12l1-7l1-2h1h1l1-7l1,5l1,17l1-3l1-16l1,5l1,2l1,18l1-38l1,19l1-14l1,26l1-13l1,10l1-4l1,1l1-34l1,14l1,10l1-9l1,19l1,8l1-24l1,6l1,14l1,15l1-8l1,4l1-15l1,9l1-4l1-11l1,14l1-10l1-2l1,22l1-24l1,13l1-21l1,3l1-7l1,5l1,24l1-17l1-15l1,30l1-18l1-3l1,5l1-18l1,31l1-5l1-11l1,7l1-4l1-6l1,10l1-11l1,12l1,1l1,24l1-34l1,21l1-4l1-9l1-12l1,22l1-4l1-16h1h1l1,19l1-29l1,11l1,12l1-23l1,12l1,14l1-17l1,10l1-17l1,23l1-23l1,13l1,5l1-7l1,13l1,3l1-7l1,3l1-11l1-17l1,32l1,1l1-16l1-2l1,15l1-14l1-1l1,2l1,25l1-32l1-17l1,26l1-10l1-1l1,21l1-8l1,14l1-14l1,15l1-5l1-11l1,7l1,8l1-13l1-18l1,8l1,8l1,15l1-11l1,14l1-12l1,1l1-6l1,7l1-1l1,1l1-12h1l1,10l1,4l1-8l1,15l1-7l1,14l1-29l1,34l1-44l1,1l1,21l1-21l1,14l1,2l1-14l1,1l1,7l1,10l1,6l1-9l1-6l1,10l1-34l1,24l1,6l1,7l1-5l1-1h1l1-5l1-19l1,19l1,2l1,21l1-24l1-3l1,7l1-17l1,9l1,2l1-10l1,8l1-22l1,10l1,13l1,17l1-13l1-5l1,3l1,12l1-23l1,21l1-12l1,5l1-7l1,8l1,11l1-18h1l1-38l1,46l1-8l1,7l1-5l1-9l1,5l1-6l1,32l1-15l1,3l1,2l1,3l1-4l1-2l1,14l1-43l1,14l1-1l1-2l1-22l1,12l1,21l1-15l1,16l1-8l1,11l1-19l1,10l1-8l1,22l1-22l1,17l1-12l1,1l1,13l1-11l1,7l1,6l1,5l1-17l1,18l1-15l1-3h1l1,2h1l1,3l1-10l1-6l1,4l1-18l1,28l1-2l1-9l1,10l1-14l1,31l1-13l1,2l1,27l1-24l1,4l1-7l1,4l1,6l1-4l1,19h1l1-17l1,27l1-20l1-5h1l1-12l1,15l1-25l1-8l1,23l1-20l1,3l1-5l1,11l1-3l1-22l1,21l1-3l1,21l1,11l1-7l1-3l1,5l1,4l1-17h1l1,7l1-13l1,6l1,1l1-10l1,11l1,8l1-12l1,10l1-6l1,5l1-4l1-3l1,13l1,8l1-8h1l1-15l1,14l1,7l1-2l1,1l1-6h1l1,11l1,16l1-19l1-31l1,16l1,3l1,12l1-6l1-21l1-8l1,6l1-1l1-3l1,13l1-10l1,4l1-3l1,9l1-2h1l1,15l1-11l1,17l1-28l1,8l1-7l1-7l1,10l1,18l1-19l1,7l1-29l1,20l1-11l1,10l1,12l1-17l1,15l1-16l1,3l1-6l1,4l1-1l1-18l1,12l1,5l1,27l1-44l1,22l1,8l1,14l1-5l1-9l1,15l1-17l1-6l1,3l1,9l1,16l1-29l1,7l1,23l1-4l1,2l1-8l1,7l1-10l1-1l1-1l1,1h1l1-5l1,18l1-16l1-8l1-12l1,16l1-12l1,2l1-1l1,1l1,11l1-27l1,40l1-7l1-14l1-5l1,16l1-10l1,18l1-21l1-5l1-3l1,15l1,12l1-20l1,23l1-7l1-12l1,14l1-49l1,12l1,17l1,1l1-1l1-1l1-11l1,21l1-6l1,11l1-7l1-11l1,14l1,1l1,3l1-16l1-4l1,19l1-9l1,6l1,11l1,1l1-5l1-12l1,20l1-22l1,5l1,10l1-19l1,10l1,19l1-11l1-10l1,20l1-13l1,3l1,14l1-35l1,1l1-10l1,26l1-28l1,39l1-23h1l1,4l1-11l1-4l1,7l1,4l1-5l1,12l1-14l1,16l1,2l1,20l1,7l1-9l1-19l1-6l1,18l1,5l1-9l1-12l1,7l1-2l1,15l1-5l1-8l1-10l1,18l1-13l1,1l1-3l1-3l1,5l1-9l1,3l1,11l1-36l1,30l1-2l1,12l1,1l1-5l1-12l1,12h1l1,3l1,1l1-14l1,6l1-12l1,9h1l1,4l1-13l1,14l1-20l1-9l1,28l1-17l1,10l1-3l1-4l1,2l1,3l1,12l1-11l1-21l1,11l1,12l1,3l1-1l1-7l1-11l1,25l1-16l1-4l1-11l1,40l1-21l1-20l1,30h1l1-27l1,18l1-5l1,8l1,16l1-13l1,27l1-24l1-10l1,22l1-19l1-5l1,13l1-15l1-7l1,14l1-4l1-2l1,13l1-17l1,21l1-19l1,3l1-18l1,17l1-1l1-7l1,5l1-2l1,11l1-14l1,15l1-1h1l1-9l1-1l1,12l1-3l1,3l1-23l1,8l1,16l1-10l1-14h1h1l1,6l1,6l1-9l1,2l1-6l1,8l1,18l1-24l1,10l1-16l1-3l1-9l1,7l1,24l1,1l1-8l1-6l1,15l1-22l1-3l1,9l1,10l1-21l1,12l1,19l1-21l1-2l1-5l1,13h1l1-9l1-1l1-19l1,9l1,6l1-5l1,4l1-3l1,18l1-7l1-21l1,23l1-7l1-1l1-1l1,6l1,10l1-23l1,3l1,4l1-16l1,16l1-5l1,9l1,2l1,18l1-19l1,3l1,8l1,11l1-20l1-2l1,5l1-1l1-11h1l1-2l1,2l1,6l1-12l1,6l1,5l1-3l1,2l1-13l1,35l1-21l1-4h1l1,10l1,1l1-14l1-2l1-6l1,24l1-17l1-9l1,2l1,10l1-5l1,1l1-1l1,1l1,3l1,10l1-7l1-8l1-8l1,7l1-3l1-1l1,14l1-6l1,6l1-6l1-10l1,15l1-4l1,9l1-26h1l1,5l1,13l1-15l1-20l1,6l1,11l1-19l1,10l1,11l1,5l1,4l1,2l1-5l1-21l1,27l1,1l1-19l1,5l1-17l1,34l1-12l1,7l1,4l1,11l1-25l1-7l1,11l1,2l1-19l1,2l1-11l1,24l1-18l1,16l1-3l1-7l1-3l1-21l1,11l1-7l1,11l1-7l1,33l1-21l1,11l1-12l1,21l1-22h1l1-5l1-9l1-7l1,24l1-16l1,11l1,26l1-24l1,20l1-21l1-15l1,14l1,4l1-3l1-19l1-4l1,23l1,13h1l1-23l1,2l1,8l1,3l1-6l1,2l1-4l1-30l1,17l1,9l1-18l1,31l1-26l1,16h1h1l1-24l1,3l1,20l1-15l1,5l1-36l1,22l1-6l1-5l1-21l1,11l1-1l1-8l1-5l1,21h1l1-14l1,12l1-31l1,17l1,16l1-6l1-12l1,11l1-10l1-10l1,2l1,15l1-7l1,9l1-5l1,10l1,5l1-13l1,21l1-25l1-4l1,9l1-12l1-8l1,3l1,9l1-10l1,31l1-15l1-7l1-5l1,11l1-2l1,3l1,2l1,13l1-28l1,13l1,3h1l1-3l1,9l1,3h1l1-11l1,19l1-11l1-11l1,26l1-14l1-9l1,3l1,9l1,12l1-11l1-12l1,1l1-2l1,11l1-10l1,22l1-18l1,17l1-17l1,3l1-4l1-2l1,18l1-24l1-7l1,8l1,13l1-22l1,25l1-21l1,9l1,8l1,1l1-7l1,15l1,7l1-11l1,6l1-1l1,21l1-17l1,2l1-5l1,11l1-15l1-1l1,2l1,12l1-20l1,8l1-10l1,13l1-26l1,1l1,17l1,10l1-20l1-18l1,29l1-8l1-11l1,19l1,2l1-24l1,3l1,3l1,1l1,10l1-8l1,10l1-24l1-5l1,4l1-3l1,11l1-9l1,10l1,4l1,4l1-17l1-6l1,10l1,7l1-4l1,10l1,6l1-1l1-8l1,9l1-21l1-19l1,22l1,9l1-14l1-17l1,11l1,9l1-8l1-6l1-11l1,8l1-7l1,20l1-13l1-2l1-29l1,13l1,8l1,6l1,2l1-20l1,37l1-34l1,5l1,4l1-6l1,6l1-6l1-3l1-3l1,4l1,10l1-17l1-6l1,17l1-2l1,13l1-20l1,3l1-5l1-10l1,10l1-2l1,12l1-15l1,16l1-5l1-9l1-10l1-1l1,17l1-13l1,17l1-38l1,1l1,31l1-12l1,24l1-15l1-1l1,4l1,1l1-2l1-14l1-4l1,12l1-24l1-4l1,4l1,51l1-12l1-14l1-8l1,9l1-28l1,17l1,11l1-11l1-20l1,9h1l1,16l1-4l1-5l1,31l1-23l1,17l1-10l1-7l1-4l1,11l1,13l1-31l1,13l1,2l1-21l1,9l1,17l1-23l1,2l1,4l1-4l1-6l1-3l1,4l1-11l1,12l1-15l1,5l1-8l1,20l1-7l1,18l1-16l1-7l1,13l1-9l1-10l1,16l1-8l1,26l1-23l1,5l1-2l1,7l1-10h1l1-3l1-21l1,13l1-14l1,6l1,9l1-19l1,18l1,10l1-13l1,11l1-24l1,10l1-32l1,15l1,5l1,21l1,3l1-45l1,16l1-1l1,30l1-9l1-8l1,9l1,6l1-26l1,19l1-8l1,2l1-32l1,21l1-34l1,31l1-10l1,24l1-5l1-39l1,27l1-26l1,13l1-8l1-4l1-2l1-2l1,21l1-14l1-6l1,18l1-16l1,6l1-18l1,8l1-18l1,4l1,12l1,3l1-6l1-4l1,32l1-34l1-29l1,38l1-18l1-11l1,29l1-6l1-13l1,1l1-2l1,10l1-34l1,36l1-18l1,2l1,12l1-23l1,3l1-3l1-36l1,31l1,1l1,3l1,14l1-19l1,10l1,2l1,6l1-28l1,13l1,8l1,17l1-26l1,13l1-13l1-25l1,2l1,15l1,7l1,3l1-19l1-16l1,16l1-15l1,33l1-20l1,13l1,24l1-22l1-15l1,22l1-17l1-8l1,6l1-8l1,16l1-17l1,11l1,16l1-11l1,9l1,7l1-10l1,7l1,6l1,15l1-10l1-13l1-1l1-18l1,27l1,14l1,9l1-26l1,8l1-42l1,31l1-5l1,3l1-20l1,17l1-3l1-2l1,2l1,26l1-22l1,14l1,9l1,16l1-32l1-1l1-15l1,29l1-12l1,2h1l1-19l1,30h1l1-30l1,6l1-13l1,12l1,29l1-8l1-31l1,30l1-15l1,3l1-4l1,10l1,4l1,34l1-50l1,13l1,22l1-20l1-18l1,40l1-35l1-5l1,10l1,9l1-6l1,3l1-2l1-8l1,19l1-26l1-10l1,10l1,7l1-12l1-2h1l1-4l1,4l1,23l1-2l1-32l1,42l1,1l1-34l1,32l1-28l1,32l1-29l1,15l1-6l1,7l1-25l1,35l1-12l1-14l1,17l1-15l1,22l1-9l1,6l1-35l1,15l1-20l1,23l1-15l1-1l1,21l1-14l1,15l1-24l1,8l1,14l1-34l1,11l1,17l1-22l1,26l1-17l1,16l1-31l1,37l1-38l1,34l1-37l1,40l1-14l1-24l1,33l1-17l1-7l1,2l1,7l1-17l1,5l1-19l1,7l1,11l1,7l1-7l1-7l1,14l1,2l1-16l1,43l1-40l1-6l1,12l1,6l1-4l1-5l1-1l1,8l1-13l1-8l1,7l1,4l1-14l1,43l1-19l1,17l1-14l1-31l1,39l1-39l1,7l1,16l1-15l1,16l1-4l1-6l1,17l1-37l1,15l1,9l1,6l1-10l1-39l1,28l1-19h1l1-5l1,14l1-36l1,4l1-3l1-9l1-7l1-38l1,24l1,7l1-34l1,6l1-18l1,12l1-6l1-15l1,14l1-10l1-28l1,12l1-1l1-1l1,29l1-25l1,2l1-23l1,28l1-5l1,25h1l1,14l1,18l1-31l1,31l1-3l1,2l1-3l1,19l1,13l1,4l1,6l1-19l1,20l1,3l1,6l1-1l1-4l1,4l1-12l1-11l1,11l1,24l1-11l1-6l1,18l1-6l1,16l1-38l1,4l1,16l1,3l1,17l1-6l1,21l1,13l1-33l1,17l1-15l1,6l1-17l1,2l1,2l1,15l1-19l1-3l1,20l1,46l1-33l1-8l1,5l1,13l1,5l1-8l1,14l1-10l1-30l1,26l1-22l1,25l1-17l1-21l1,6l1,26l1,5l1,8h1l1,5l1-8l1-10l1-21l1,28l1-6l1-3l1-15l1,18l1-36l1,30l1-4h1l1-41l1,61l1-37h1l1,10l1-10l1-15l1,30l1-5l1,11l1-29l1,29l1,1l1,14l1-21l1-33l1,47l1,2l1,6l1,6l1-18l1,11l1-9l1,22l1,24l1-39l1-1l1,1l1,16l1,11l1-1l1-16l1,26l1,9l1,11l1-8l1-18l1,26l1-16l1-16l1,23l1,5l1,5l1-12l1,1l1,3l1,8l1,3l1-20l1,27l1-26l1,20l1-3l1-28l1,29l1,8l1,4l1-7l1,3l1-8l1,2l1,14l1,36l1-48l1,7l1,14l1-13l1,23l1-11l1,19l1-29l1,13l1-26l1,32l1-23l1-10l1,8l1,4l1,11l1-19l1,18l1-8l1-2l1,12l1,6l1,20l1-29l1,13l1,10l1,3l1-6l1-21l1,37h1h1l1-4l1-22l1,25l1-11l1,1l1,18l1-6l1-26l1,15l1,18l1-9l1-12l1-25l1,11l1,9h1l1,15l1-5l1-32l1,24l1-6l1-3l1,20l1-13l1-6l1,32l1-38l1-1l1,1l1,26l1-6l1-21l1,13l1-18l1,16l1-9l1-31l1,30l1,6l1-41l1,13l1-3l1,11l1-26l1,39l1-22l1,23l1-3l1-6l1-5l1,5l1,13l1-5l1-13l1,7l1-11l1-10l1,4l1-3l1-10l1,18l1,22l1-48l1,23l1-4l1-16l1,16l1,18l1-47l1,17l1-5l1,26l1-1l1-3l1,3l1,16l1,7l1-17l1-2l1,8l1,14l1-10l1,19l1-19l1-5l1,12l1-22l1,8l1,10l1-1l1,26h1l1-9l1-2l1,12l1,5l1-21l1-13l1,21l1,1l1,2l1,4l1,13l1-4l1-1l1,4l1-3h1l1,14l1-10l1,2l1,4l1,8l1,6l1-3l1,5l1,7l1-13l1-11l1,40l1-18l1,11l1-23l1,12l1,17h1l1-10l1,11l1-12l1-8l1-4l1-3l1,10l1,20l1-14l1,25l1-9l1,1l1-24l1,15l1,12l1-15l1,13l1,4l1-4l1-19l1,20l1-9l1,18l1-19l1,6l1,15l1-5l1,22l1-9l1,16l1-35l1,23l1-1l1-11l1-13l1,2l1,19l1-12l1-14l1-1l1,15l1,6l1-4l1,6l1-8h1l1-26l1,3l1,12l1-3l1-1l1,4l1-42l1,32l1,3l1-11l1-2l1-20l1,11l1-8l1-9l1,3l1,5l1-20l1-4l1,8l1,16l1-3l1-6l1,4l1,9l1-14l1,7l1,19l1,7h1l1,7l1,9l1,27l1-15l1,9l1-1l1-4l1-7l1,22l1,62l1-55l1,15l1,4l1,18l1-22l1,4l1-5l1,37l1-8l1-27l1,21l1-14l1,9h1l1,2l1,13l1-15l1,9h1l1-2l1,3l1,14l1,5l1-1l1-2l1,6h1l1-5l1-5l1,19l1-15l1,21l1-20l1-7l1,9l1-9l1,9h1l1-12l1,1l1,6l1-13l1,3l1,9l1,4l1-19l1,12l1-5l1,20l1-22l1,10l1,1l1-22l1,1l1,10l1,6l1-9l1,13l1,6l1-2l1,16l1-11l1-11l1,16l1-7l1-17l1,3l1,13l1,6l1,4l1-9l1,11l1,5l1-4l1,13l1-28l1-4l1,11l1-2l1,3l1,5l1-18l1,26l1-8l1,2l1-26l1,12l1-3l1,4l1,10l1,2l1,5l1-22l1,16l1-13l1,13l1-1l1-18l1,12l1,9l1,1l1-15l1,1l1,3l1,21l1,1l1-6l1,3l1-2l1-7l1,9l1-39l1,7l1-3l1,12l1-22l1,35h1l1,6l1-33l1,31l1-6l1,20l1-15l1,5l1-15l1,19l1,4l1-18l1-30l1,18l1-9l1,17l1-8l1,6l1-2l1-9l1,6l1-30l1,25l1-16l1-4l1,15l1-5l1,6l1,4l1-17l1,14l1-18l1,18l1-12l1-13l1-4l1,21l1-20l1,9l1,22l1,2l1-19l1-2l1,27l1-16l1,9l1,5l1-6l1-4l1-2l1,10l1,6l1,12l1,15l1-5l1,5l1,17l1-11l1,23l1,2l1,13l1-7l1-1h1h1l1-2l1-7l1,12l1-21l1,21l1-11l1,26l1-26l1,10l1,29l1-6l1-21l1,19l1-7l1-16l1,27l1-13l1,18l1-27l1,5l1,13l1-14l1,6l1-17l1,31l1,8l1-2l1-8l1-13l1,24l1-15l1,7l1,26l1-12l1-2l1,17l1-21l1,9l1-17l1,4l1-4h1l1,6l1-26l1,25l1,15l1-14l1,21l1,4l1-22l1-5l1,27l1-4l1-22h1l1,3l1,6l1-11l1,20l1-17l1,3l1,8l1,3l1-10l1-2l1,12l1-14l1,2l1,11l1-8l1-12l1-2l1,13l1-5h1l1-13l1-13l1-2l1,33l1-26l1-3h1l1,2h1l1,7l1,8l1-18l1,6l1,2l1,5l1-5l1-2l1,5l1,3l1-8l1,16l1,9l1-21l1,22l1-10l1,9l1-2l1-30l1,8l1,17h1l1-6l1-9l1,6l1-20l1,30l1,2l1-9l1,9l1-20l1,16l1,2l1-4l1,8l1-8l1,20l1-38l1,21l1,8l1,9l1,9l1-16l1-9l1,4l1-8l1,9l1-6l1-13l1,25l1-16l1,17l1,5l1-11l1,13l1-23l1,7l1,6l1,11l1-23l1-4l1,8l1,4l1-18l1,22l1,8l1-5l1,6l1,5l1-15l1,17l1-7l1,13l1-2l1,1l1-7l1,3l1-7l1,7l1,7l1,16l1-1l1,1l1-13l1-3l1,7l1,17l1-22l1-3l1,21l1-5l1,13l1-7l1-3l1,1h1l1,2l1,9l1-16l1-2l1,14l1-6l1,8l1-13l1-9l1,14l1-6l1,10l1-3l1,4l1,2l1-8l1,2l1-11l1-5l1,7l1,1l1-13l1,19l1-12l1,11l1-20l1,18l1-4l1-8l1,5l1-1l1-9h1l1,20l1-6l1,9l1,8l1-17l1,2l1-10l1,13l1-6l1-2l1,7l1,12l1-11l1-17l1,32l1-10l1-4l1,4l1-12l1,6l1,1l1-1l1,11l1-18l1,9l1-1l1-9l1,3l1,1l1,26l1-9l1-15l1,4l1-4l1,21l1-27l1,24l1-14l1,6l1-11l1-11l1,34l1-7h1l1,9l1,2l1-23l1,9l1,12l1-12l1,4h1l1,15l1-17l1,17l1-2l1-4l1-9l1,13l1-19l1,20l1-15l1,21l1-13h1l1,10l1-3l1-4l1-1l1-18l1,17l1-9l1,18l1-4l1,12l1-7l1-2l1,11l1-7l1-3l1,7l1-13l1-3l1,5l1-5l1,2l1,7l1-10l1,10l1,2l1,3h1l1-13l1,19l1-31l1,8l1,7l1,11l1-29l1,8h1h1l1-14l1,20l1-16l1,5l1-1l1,4l1-11h1l1-4l1,3l1-15l1,11l1-6h1l1,4l1-11l1,11l1-9l1-4l1,10l1-16l1-6l1,12l1-3l1-14l1-4l1,7l1,4l1-17l1,7l1-14l1,10l1-34l1,24l1-3l1-5l1-26l1,12l1-11l1,18l1-31l1,17l1-13l1-11l1,16l1,16l1-8l1-19l1,5l1,3l1,3l1-13l1,15l1-15l1,13l1,1l1,1l1,4l1-2l1,27l1-35l1,33l1-3l1-8l1,13h1l1-15l1,3l1,40l1-10l1,3l1,25l1-19l1-3l1,23l1-3l1,3l1,1l1,10l1-6l1,20l1-19l1,12l1,2l1-2l1,22l1-22l1,21l1-15l1,38l1-14l1,2l1,3l1,4l1-11l1,7l1,6l1-17l1,8l1,17l1-5l1-15l1,14l1-7l1,8l1-17l1-5l1,7l1,20l1-24l1,9l1,6l1-5l1,18l1-4l1,8l1-1l1,13l1-14l1-10l1,31l1-4l1-15l1-2l1-5l1,16l1-23l1,20h1l1-7l1,20l1-20l1,15l1-6l1,11l1-18l1,15l1,8l1-16l1,12l1,5l1,1l1-15l1,18l1-17l1,14l1-25l1,3l1-5l1,27l1-4l1-18l1-1l1,12l1-7l1-3l1,9l1-1h1l1-13l1,2l1,13l1,2l1,5l1,1l1-6l1-2l1,10l1-21l1,13l1,14l1-5l1-13l1-8h1l1,19l1-10l1,10l1-20l1,22l1-12l1,10l1,14l1-11l1,3l1-14l1-1l1-6l1,20l1-16l1,10l1,13l1-20l1,9l1-13l1,16l1-6l1,6h1l1,6l1-22l1,2l1,14h1l1-3l1-6l1,5l1-11l1,19l1-12l1,3l1-9l1,14l1-12l1-3l1-1l1-8l1,16l1,1l1,10l1-12l1-5l1,8l1,14l1-10l1-11l1,22l1-15l1-1l1,22l1-23l1,10h1l1-9h1l1-3l1,7l1-6l1,18l1,6l1-32l1,21l1-4l1,6l1,5l1-7l1,3l1-14l1,10l1,2l1-1l1,4l1-15l1,12l1,5l1-17l1,8l1-5h1l1,23l1-13l1-6l1,4l1,2l1,24l1-17l1-12l1,8l1-5l1-2h1l1-1l1,5l1,3l1-13l1,6l1,5l1,12l1-11l1,3l1,13l1-11l1-2l1,19l1-9h1l1-13l1-8l1-5l1,31h1l1-5l1,3l1-19l1,7l1-18l1,12l1,7l1-8l1,16l1-28l1,6l1-9h1l1-3l1,7l1-19l1,29l1-3l1-7l1-2l1,14l1-5l1,9l1-3l1,13l1,3l1-19l1,19l1-7l1-5l1,8l1-13l1,7l1-5l1,7l1-14l1,8l1,11l1-10l1-22l1,24l1-20l1-2l1,7l1-10l1-5l1,4l1-3l1,21l1-15l1,2l1-2l1,2l1-3l1-14l1,13l1-2l1,6l1-20l1-6l1-10l1-8l1,5l1-15l1,9l1,5l1-3l1,2l1-26l1,17l1-15l1-4l1,5l1-13l1-4l1-17l1,20l1-30l1,5l1-19l1-7l1,4l1-16l1,9l1-12l1-4l1,4l1-32l1,15l1-36l1,10l1,1l1-11l1,7l1-5l1-16l1,29l1-20l1-3l1-5l1,5l1-6l1-6l1,28l1-6l1-8l1-22l1,27l1-1l1,4l1-2l1,24l1,8l1-9l1-5l1,2l1,20l1-3l1,15l1,16l1,2l1-5l1-8l1,23l1,5l1-12l1,12l1,3l1,14l1-12l1,6l1-8l1,11l1,1l1,9l1-13l1,10l1-17l1,13l1,5l1-6l1,7h1l1,8l1-8l1,1l1-2l1,1l1-13l1,28l1-13l1-10l1-23l1,12l1-1l1-1l1-5l1,7l1-34l1,3l1,4l1,1l1-25l1,22l1-23l1-3l1,8l1,2l1-13l1-7l1-11l1,6l1-22l1,1l1,2l1-15l1,1l1-18l1,2l1,10l1-17l1,5l1,1l1,3l1-15l1,30l1-17l1,18l1-14l1,14l1,6l1,11l1,4l1-6l1,10h1l1,11l1,4l1,5l1,17l1,12l1-20l1,32l1,3l1,14l1-4l1-1l1,19l1-3l1,5l1,12l1,12l1,3l1,12l1-6l1-10l1,30l1-7l1-10l1,7l1,8l1-5l1,13l1,2l1,6l1,6l1,3l1-15l1,13l1,12l1,1l1,3l1-1l1,9l1-4l1,2l1,10l1,8l1-9l1-9l1-9l1,24l1-4l1-17l1,19l1,6l1-10l1,8l1-5l1,18l1-1l1-8l1,7l1-14l1,14l1-13l1,14l1-8l1-4l1,13l1-6l1-1l1,2l1-8l1,12l1-9l1,8l1,3h1l1-11l1-3l1,22l1-18l1,6l1-19l1,2l1,11l1-9l1,7l1-11l1,2l1-13l1,15l1,4l1,2l1-14l1-6l1,12l1,3l1-4l1,3l1,13l1-15l1-7l1,21l1-6l1,9l1-7l1,3l1,3h1l1,11l1-26l1,10l1,1l1-7l1,28l1-21l1,5h1l1-12l1,11l1,4l1-13l1,18l1-8l1,6l1-2l1-10l1-10l1,18l1-3h1l1-28l1,38l1-26l1-7l1,16l1-8l1,9l1-10l1-9l1-7l1,14l1,5l1-3l1,15l1-8l1,1l1,9l1-4l1,6l1-29l1,16l1,15l1-3l1,5l1-5l1,2l1-4l1-9l1,4l1,4l1-9l1-4l1,21l1-19l1,9l1-21l1,18l1-7l1-5l1,24l1-12l1-2l1,4l1,5l1-12l1,9l1-1l1-22l1,15l1-16l1,17l1-17l1,12l1,7h1l1,5l1,1l1,10l1-22l1,7l1-2l1-6l1,7l1,4l1-1l1,1l1-6l1-4l1-6l1,4l1-2l1,5l1,2l1-4l1,10l1-7l1-10l1,3l1,15l1-15l1,7l1-6l1,11l1-30l1,33l1-15l1-4l1,12l1-10l1,1l1-5l1,11l1-1l1-7l1,3l1,3l1,18l1-9l1-16l1-2l1,1l1,21l1-8l1-11l1,6l1-11l1,15l1,10l1-15l1,3l1,12l1,3l1-14l1-1l1,17l1-9h1l1-5l1,7l1-25l1,10l1,4l1-7l1-10l1-2l1,26l1-27l1,25l1-19h1l1-6l1,17l1,4l1-2l1-4l1-4l1-3l1-2l1-3l1,3l1-6l1,10l1-15l1,2l1,3l1,1l1-4l1,5l1-1l1-22l1,7l1-6l1-10l1,1l1,2l1-5l1-7l1,12l1-8l1,14l1-8l1,8l1-25l1,3l1-10l1-3l1,13l1-8l1-32l1,17l1-18l1,10l1,6l1-9l1-7l1,13l1-14l1,14l1-8l1-3l1-15l1,6l1-9l1,10l1-3h1l1-7l1,17l1-4l1,8l1,2l1-9l1,1l1,5l1-7l1,14l1-11l1-2l1,3l1,38l1-36l1,10l1,7l1,12l1-12l1,14l1,2l1,19l1-14l1,25l1-19h1l1,14l1-4l1-3l1-1l1,8l1,18l1-11l1-3l1-5l1,7l1-1l1-2l1,9l1,15l1,6l1-11l1,9l1,11l1-9l1,15l1-4l1,11l1-8l1-2l1,25l1-30l1-5l1,16l1-12l1,16l1-15l1,10l1,7l1-6l1-5l1-7l1,11l1-6l1-2l1,26l1-24l1,15l1-7l1-8l1,20l1-15l1,6l1,10l1-32l1,21l1-13l1,8l1-6l1,9l1-4l1,6l1-4l1-2l1,23l1-9l1-14l1,19l1-8l1,1l1-13h1l1,11l1-8l1,2l1-8l1,6l1-3l1,4l1,13l1-19l1,15l1,4l1-5l1-24l1,18l1-1l1,16l1-10l1,14l1-9l1-20l1,9l1,11l1-1l1-4l1,19l1-22l1,6l1,5l1,3l1-18l1,18l1,3l1,6l1-15l1,8l1,8l1-8l1-12l1-6l1,23l1-7l1-24l1,13l1-7l1-3l1,11l1-3l1-8l1,4l1,5l1-7l1,1l1,7l1-21l1,12l1-9l1-4l1,8l1,6l1,6l1-3l1-1l1-19l1,1l1,15l1-2l1-9l1,6l1,2h1l1-26l1,8l1,11l1-5l1,8l1-17l1,13l1,12l1-23l1,2l1-17l1,22l1-4l1-6h1l1-8l1,5l1,7l1,16l1-20h1l1,1l1,7l1,8h1l1-12l1,7l1-7l1-2l1-2l1,15l1-11l1,4l1,20l1-29l1,12l1-1l1,4h1l1,1l1,8l1-23l1-5l1-6l1,21l1,4l1-2l1-19l1,7l1,2l1,12l1,1l1,17l1,7l1-14l1,18l1-2l1-8l1-7l1-15l1,29l1-12l1-15l1,10l1,6l1,9l1-16l1,8l1,6l1-7l1,12l1-3l1-4l1,5l1-27l1,21l1-5l1,20l1-20l1-16l1,15l1,1l1,4l1-12l1,8l1-17l1,4l1,8h1l1-14l1,1l1,15l1-18l1,45l1-47l1,23l1-15l1,12l1,2l1-6l1,5l1-2l1-2h1h1l1-2l1,10l1-3l1-6l1-15l1,21l1-1h1l1-4l1-8l1-2l1,7l1,2l1-11l1,8l1,11l1-18l1,12l1-11l1,2h1l1-6l1-3l1,10l1-5l1,10l1-5l1,5l1-5l1,10l1-9l1-2l1,11l1-10l1-3l1,6l1-24l1,13l1,26l1-30l1,14l1-20l1,26l1-10l1-11l1,6l1,10l1-19l1,8l1-2l1-12l1-6l1,12l1-7l1,11l1,2l1,1l1-1l1,3l1,5l1-14l1,17l1-12l1,25l1-13l1-1h1h1l1,13l1-22l1,24l1-9l1,12l1-12l1-5l1,8l1-8l1-6l1,8l1-3l1,4l1-8l1,2l1-8l1-10l1,24l1,1l1-2l1,13l1-3l1-6l1-11l1,10l1,8l1-2l1-3l1-7l1,6l1,6l1,7l1-10l1,16l1-25h1l1,10l1,5l1,5l1-6l1-10l1,18l1-17l1,14l1-15l1,8l1,10l1-19l1,4l1,21h1l1-6l1-20l1,12l1,1l1,7l1-5l1-14l1,2h1l1,2l1,2l1-5l1-6l1,7l1-7l1,17l1-10l1,2l1,6l1-1l1,3l1-3l1-3l1,8l1-8l1,9l1-2l1,6l1,7l1-9h1l1-5l1,5l1-6l1-5l1-3l1,7l1,20l1-10l1-4l1-7l1,24l1-19l1-8l1,3l1,8l1-10l1-8l1,3l1-2l1,11l1-6l1,5l1,3l1,13l1-19l1-4l1,18l1-15l1,12l1-13l1,13l1-18l1,19h1l1-14l1-3l1,17l1-16l1-8l1,8l1,2l1-2l1,5l1,1l1-2l1-3l1,14l1-1l1-21l1,17l1-11l1,2l1,4l1,3l1-8l1,7l1-5l1,6l1-3l1,4l1,4l1,8l1-9l1-8l1-13l1,21l1-16l1,11l1,3l1-3l1,8l1-3l1-4l1,4l1-12l1,18l1-4l1,1l1,1l1-22l1,12l1-17l1,20l1-3l1-13l1,15l1-15l1-1l1-7l1,10l1,3l1,18l1-5l1-11l1,21l1-19l1,9l1,8l1-6l1-8l1,23l1-17l1-6l1,6l1-8l1,17l1-10l1-3l1-4l1,5l1,15l1-14l1,2l1-4l1,5l1,9l1,2h1l1-21l1,12l1-2l1-7l1-6l1,11h1h1l1-14l1,15l1,14l1-30l1,17l1,1l1-4l1-1l1-4l1,23l1-12l1-1l1-15l1,5h1l1,20l1-25l1,19l1-7l1-9l1-5l1,10l1,17l1-4h1l1,1l1-5l1,10l1,14l1-7l1,3l1-25l1,25l1-2l1-21l1,3l1,6l1-7l1-7h1l1,2l1-8l1,9l1-7l1,3l1-13l1,9l1-4l1,4l1,13l1-16l1,20l1-11l1,15l1-3l1-19l1,4l1,12l1-4l1-11l1,2l1,10l1-14l1,18l1-4l1-7h1l1,1l1,10l1-2l1,12l1,4l1-7l1-3l1,9l1-5l1,4l1-7l1,6l1-11l1,12l1-12l1,5l1,9l1-12l1-1l1,1l1-3l1,13l1-5l1-12l1,7l1-14l1,18l1-5l1-2l1,6h1l1-11l1,11l1-3l1,2l1-14l1,19l1-15l1,9l1,1l1,9l1-4l1,16l1-14l1,8l1-8h1l1-2l1,5l1-19l1-3l1,18l1-9l1,8l1-10l1,1l1,2l1,4l1-1l1,7l1-17l1-7l1,28l1-16l1,7l1-6l1-11l1,7l1,16l1-1l1,5l1-6l1-15l1,11h1l1,8l1-5l1,2l1-6l1-7l1,8l1-5l1-1l1-5l1,20l1-28l1,22l1,4l1,1l1-13l1,8l1-12l1,22l1-12h1l1-7l1,14l1-1l1-16l1,13l1,1l1,11l1-9l1,2h1l1,6l1,6l1-15l1-8l1,14l1,2l1-4l1-2l1,6l1,3l1,13l1-10l1-9l1-4l1-4l1,14l1-22l1,9l1,2l1,13l1-8l1-7l1,6l1-15l1-1l1,5l1,17h1l1-17l1-6l1,11l1-4l1,10l1-4l1-14l1-2l1,20l1-3l1-3l1,2l1,8l1-2l1-1l1-6l1,11l1-5l1-8l1,7l1,2l1-8l1,5l1,3l1-11l1-4l1,1l1,3l1,2l1,13l1,7l1,3l1-12l1,3l1,5l1,4l1-17l1,5l1-1l1,3l1-1l1,3l1-1l1,3l1-4l1-1l1,7l1-5l1,5l1-2l1,6l1-17l1,14l1,6l1-14l1-3l1,2l1-5l1,11l1-11l1,18l1-21l1,10l1,3l1-5l1-17l1,22l1,1l1-9l1-8l1,3h1l1,18l1-8l1,3l1,1l1-2l1,8l1-3h1l1,14l1-20h1h1l1,7l1-12l1-4l1,10l1-2l1-6l1,11l1-15l1-1l1,6l1,16l1-3h1l1-1l1-1l1,3l1-8l1,10l1-1l1,3l1-24h1l1,16l1-8h1l1-2l1-4l1,9l1,2h1l1,6l1-8l1,18l1-6h1l1-4l1-8l1,8l1,10l1-12l1-10l1,10l1-3l1,2l1,6l1-18l1,1l1-2l1,15l1,5l1,2l1,3l1-9l1-3l1,5l1-2l1-3l1,6l1-5l1-4l1,13l1-11l1,18l1-15l1,7l1,3l1-7l1-10l1,26l1-5l1-16l1,16l1,10l1-23l1,12l1-5l1,9l1-10l1-14l1-4l1,5l1-10l1,7l1,16l1-19l1,7l1,17l1-4l1-10l1-12l1,5l1,12l1,8h1h1l1-8l1,18l1-11l1,11l1-10l1-4l1,12l1-1l1-16l1,11l1-9l1-12l1,6l1-4l1,2l1-4l1,2h1l1,19l1-6l1-6l1,2l1-10l1,19l1-13l1-5l1,8l1-9l1-7l1,11l1-9l1,11l1,4l1-11h1l1,23l1-11l1-3l1-10l1-4l1,10l1,9l1-4l1,17l1-21l1,3l1,1h1l1-6l1,9l1-3l1-3l1-3l1,4l1,8l1-9l1-9l1,2l1,9l1,2l1-10l1,17h1l1-12l1-5h1l1,10l1,1l1,4l1-5l1,2l1-4l1-1l1-17l1,20l1-4l1-5l1,1l1-1l1-5l1-1l1,2l1-6l1,6l1,14l1-1l1-5l1,2l1-5l1,10l1-5l1,12l1-20l1,8l1-7l1-5l1-2l1,15l1-16l1,8l1-2l1-3l1,7l1,5l1-7l1,5l1-1l1,2l1,2l1-9l1,10l1-6l1-19l1,26l1,2l1,4l1-34l1,27l1-17l1,4l1-19l1,31l1-3l1,10l1-15l1,8l1,8l1-12l1-5l1,9l1-15l1,3l1,7l1-4l1,6l1-16l1-1l1,14l1-6l1-4l1,2l1,6l1-2l1,8l1-10l1,21l1-21l1,17l1-3l1,6l1-17l1,6l1-9l1-13l1,17h1l1-11l1,14l1,1l1-3l1,11l1-7l1,3l1,2l1-11l1,10l1-2l1,4l1-11l1,3l1,7l1-9l1,5l1,9l1-17l1,7l1-4l1,3l1,7l1-14l1,25l1-22l1,11l1,1l1-15l1-8l1,10l1,19l1,1l1-37l1,25l1-9l1-8l1,10l1,8l1-11l1,17l1-8l1-6l1-6l1,13l1,3l1-9l1-4l1-1h1l1,10l1-2l1-4l1,13l1-2l1-4l1,5l1,8l1-8l1,3l1-21l1,4l1-6l1,19l1-10l1,2l1,4l1,2l1-11l1,3l1,13l1-9l1,4l1-13l1,7l1,2l1,7l1-9l1-7l1,11l1-4l1-1l1,7l1,10l1-1l1,6l1-17l1-3l1,7l1,6l1-13l1,9l1,11l1-8l1,20l1-30l1,5l1,16l1-4l1-9l1-3l1-4l1-3l1,11l1-10l1,7l1-12l1,4h1l1,1l1,12l1-13l1-10l1,10l1-4l1,8l1-13l1-3l1,1l1,7l1-13l1,18l1-6l1-9l1-6l1,15l1-9l1-9l1,2l1,6l1-8l1,10h1l1-18l1-2l1,14l1-21l1,17l1-34l1-1l1-1l1,27l1-20l1,6l1-14l1,7l1-20l1,8l1-18l1,10l1,1l1-8l1,3l1-7l1-14l1,8l1,14l1-23l1,9l1-7l1,5l1,10l1-11l1-5l1-26l1,18l1-12l1,14l1-19l1,21l1,4l1-18l1-9l1,24l1-14l1,4l1,3l1,5l1,4l1,15l1-14l1,14l1-2l1,7l1-14l1,12l1,11l1-7l1-7l1,7l1-1l1-2l1-8l1,26l1,4l1-10l1,7l1,23l1,5l1-31l1,18l1,7l1-2l1-4l1,12l1,9l1-25l1-1l1,30h1l1,1l1,8l1,13l1-24l1,3l1,26l1-17l1,23l1-36l1,17l1-9l1,12l1,6l1,3l1-7l1-4l1,7l1-16l1,10l1,8l1,2l1-8l1-6l1,28l1-27l1,3l1,21l1,1l1-19l1,1l1,11l1,2l1-2l1,6l1,11l1-23l1,3h1l1,6l1-5l1,12l1-11l1,2l1,4l1-4l1-4l1,4l1-3l1,6l1-6l1,3l1-16h1l1,8l1-2l1,1l1,6l1-10l1,5l1,2l1,12l1-4l1,3l1-5l1-5l1,7l1-9l1,15l1-10l1,4l1,1l1-9l1,18l1-18l1,11l1-4l1-4l1,1l1,9l1,2l1-2l1,5l1-11l1,23l1-23l1,14l1,15l1-18l1,2l1-4l1,1l1,7l1-4l1-13l1,30l1-13l1,6l1-6l1,4l1-14l1,14l1-4l1-9l1,5l1-1l1,14l1-8l1-9l1,6l1,3l1,5l1-14l1,1l1-8l1,5l1-2l1-11l1,10l1,2l1-4l1-6l1,4l1-3l1,9l1-7l1,8l1-20l1,31l1-18l1,5l1,9l1-4l1,3l1-2l1-2l1,11l1-10l1-10l1,9l1,7l1,1l1-11l1,3l1,2h1l1-3l1-3l1,12l1,5l1-8l1-1l1,1l1-7l1,2h1l1-9l1,3l1,6l1,1h1l1-5l1-1h1l1-1l1,4l1,7l1-12l1-6l1,9l1-2l1-2l1,17l1-6l1-2l1,8l1-1l1-8l1,11l1-13l1,8l1-6l1-14l1,14l1-10l1,12l1-5l1,1l1-4l1,9l1-5l1-15l1,10l1,4l1,4l1-9l1,4h1l1,1l1-11l1,7l1,1l1-1l1-3l1,8l1,11l1-10l1,3l1-3l1-1l1-1l1-3l1,3l1-10l1,10l1,11l1,4l1,3l1-16l1,8l1-10l1-2l1,3l1,5l1-4l1-9l1-7l1-3l1,11l1,4l1,3l1,3h1l1,12l1-10l1-4l1,2l1,6l1-17l1,12l1-2l1-9h1l1,6l1,4l1-2h1l1-5l1-5l1-2l1,7l1-3l1-11l1,9l1,5l1-15l1,20l1-7l1,3l1,3l1-6l1-7l1,14l1-8l1-9l1-4l1,19l1-6l1-10l1-1l1,8l1-8l1,22l1-5l1-5l1,1l1-5l1,5l1,6l1-11l1-2l1-4l1,7l1-3l1,6h1l1-1l1-4l1,2l1,10l1,1l1,1l1-9l1-15l1,5l1,1l1,6l1-10l1,8l1,1l1,7l1-7l1,3l1-5l1-12l1,22l1-1l1-16l1,6l1,7l1-7l1,5l1,5l1,2l1-10l1,5l1-2l1-8l1,4l1,9l1-19l1,3l1,3l1,4l1-4l1-3h1l1,12l1-13h1l1,3l1-7l1,23l1-22l1,6l1-7h1l1,8l1,8l1-4l1-5l1,6l1,5l1-2l1,14l1-22l1,4l1,15l1-1l1-1l1,5l1-20l1,2l1,5l1,6l1-5l1-8l1,14l1-16l1,10l1-12l1,20l1-22l1,13l1-18l1,9l1-1l1,2l1-7l1,30l1-28l1-1h1l1,5h1l1-7l1,13l1-3l1,7l1-9l1-3l1,7l1,12l1,6l1-10h1l1-16l1,9l1-3l1-3l1,23l1-20l1-1l1,13l1-21l1-5l1,17l1-39l1,28l1,7l1-21l1,21l1-23l1,6l1,13l1-3l1,8l1-12l1,4l1-6l1,6l1,2h1l1,5l1-7l1-1h1l1,1l1-2l1-10l1-10l1,9l1-1l1,6h1l1-9l1,2l1,11l1-16l1,14l1,5l1,12l1-15l1-3l1,18l1-5l1-5l1-2l1,5l1,6l1-5l1,10l1-1l1,5l1-7l1-12l1-1l1,10l1-10l1,4l1-4l1,3l1,15l1-18l1,3l1,3l1,10l1,6l1-13l1-2l1,2l1,2l1,2l1-14l1,15l1,15l1-9l1-15l1,16h1l1,4l1-2l1-3l1-1l1,6l1-5l1,3l1-2l1,5l1-9l1,10l1-7l1,3l1,1l1,5l1-11l1-5l1-8l1,12l1-3l1,16l1-2l1,9l1-7l1,4l1,5l1-6l1,11l1-6l1-18l1-5l1,1l1-5l1,20l1-12l1-1l1-3l1,4l1,8l1-11h1l1,19l1-15l1,9l1-2l1-10l1,10l1,3l1,10l1-1l1,1l1-11l1,9l1-3l1-9l1-2l1-5h1l1,7l1-5h1l1,5l1,5l1-19l1,8l1,8l1,17l1-15l1,8l1-16l1-4l1,16l1-2l1,4l1-3l1-8l1,13l1-23l1,9l1,12l1-8l1,19l1-23l1,4l1,1l1,7l1-10l1,11l1-14l1,9l1-14l1,21l1-3l1,5l1-11l1,6l1-7l1,7l1-10l1,3h1l1-3l1,4l1-7l1,7l1-1l1-4l1,1l1-2l1,16l1-19l1,2l1,12l1-11l1-5l1,20l1-9l1-9l1,4l1-6l1-3l1-2l1,12l1-14l1,23l1-13l1,17l1-14l1,8l1-10l1-5l1-5l1-2l1,5l1-3l1-5l1-3l1,12l1,2l1-1l1-2l1-1l1,1l1,6l1,13l1-9l1,8l1-9l1,10l1-6l1-11l1,22l1-10l1-4l1-4l1,11l1,9l1-19l1-2l1-4l1,10l1-14l1,15l1-5l1,9l1-14l1,11l1-9l1,9l1-14l1,4l1,2l1-7l1,30l1-19l1-6l1,1l1,19l1,1l1-1l1,1l1,4l1-8l1-5l1,12l1,2l1-1l1-8l1,7l1-6l1-3l1,3l1,6l1-2l1,5l1-6l1-6l1,8l1,4l1-3l1,4l1,3l1,1l1-13l1,2h1l1-8l1,5l1,8l1,2l1-2l1,4l1-4l1,12l1-1l1-6l1,3h1l1-6l1-11l1,13l1,4l1-12l1,6l1-15l1-1l1,23l1-15l1-3l1,3l1,1l1-1l1,1h1l1,4l1,4l1-8l1-5l1,10l1-6l1,12h1h1l1-22l1,7l1,10l1-3l1-2l1-16l1,3l1,10l1-3l1-6l1,5l1-2l1,3l1,4l1-4l1-14l1,6l1,8l1,3l1-16l1,12l1,20l1-19l1-3l1-2l1-3h1l1-2l1,18l1-7l1-3l1-3l1,10l1,8l1-6l1,2l1-1l1-8l1-5l1-5l1-4l1,6h1l1,6l1-3h1l1-3l1,15l1-7l1-11l1,17l1,9l1-9l1-15l1,1l1,16l1-5l1-7l1,7l1-3l1,6l1-7l1-8l1,11l1-21l1,16l1-15l1,12l1-14l1,3l1,6l1-10l1,2l1,13l1-2l1-1l1,3l1,10l1-14l1,6l1-22l1,16l1,5l1-1l1-9l1,11l1,2l1-7l1-1l1,6l1-3l1-11l1,16l1-1l1-11l1,9l1-5l1-10l1,6l1,3l1,3l1,12l1-11l1-4l1-3l1,8l1-13l1,7l1-11l1,5l1-2l1,10l1-7l1-4l1,16l1-7l1-9h1l1,13l1-5l1-6l1,11l1-8l1,12l1-2l1-8l1,3l1,20l1-25h1l1,11l1-6l1-3l1,3l1-20h1l1,12l1-5l1,2l1,3l1-10l1,9l1,4l1-1l1,1l1-10l1,13l1-12l1-13l1,4l1,12l1-11l1,15l1-10l1-11l1-1l1,6l1,10h1l1-3l1,2l1,10l1-7l1-7l1,2l1,5l1-10l1-3l1,10l1-15l1-1l1,3l1,2l1,1l1-5h1l1,7l1,6l1,8l1-5l1-11l1,7l1-11l1,7l1-8l1-1l1,7l1-10l1,6l1,10l1-33l1,6l1,24l1,2l1-11l1,2l1-6l1-3h1l1,3l1-10l1,2l1,12l1-8l1,8l1-2l1-22l1,23l1-14l1,5l1-21l1,6l1,3l1,13h1l1-14l1,13l1-2l1,11l1-18l1,3l1-3l1,7l1-8l1,21l1-25l1,9l1-5l1,9l1-18l1,8l1,11l1-6l1-1l1,2l1-2l1-3l1-8l1,20l1-10l1,2l1-2l1-1l1-8l1,12l1-9l1,2l1-1l1,3l1,9l1,1l1-3l1-8l1,9l1-7l1,2l1,7l1-1l1-14l1,11l1-5l1,1l1,7l1-1l1-12l1,5l1-16l1,15l1,7l1-20l1,11l1-1l1,6h1l1-10l1,6l1,2l1-6h1l1,3l1,11l1,6l1-19l1,12l1-8l1,5l1-8l1,7l1-23l1,1l1,25l1,3l1-26l1,5l1,10l1,11l1-12l1,4l1,8l1-12l1,11l1-12l1,3l1-1l1,15l1-17h1l1,17l1-17l1,8l1,6l1,7l1,1l1,3l1-15l1-6l1,26l1-6l1-15l1-1l1,7l1,3l1,5l1-21l1,30l1-1l1-12l1,1l1-5l1,2h1l1-11l1,13l1-7l1,16l1-4l1,8l1,2l1,2l1,12l1-7l1,9l1-3l1-10l1,6l1,8l1-8l1,2l1,1l1-3l1-9l1,18l1,11l1-13l1,1l1,2l1-14l1,14l1-4l1,3l1-2l1,4l1-11l1,19l1,3l1,2l1-1l1,14l1-3l1-19l1,7l1-1l1-15l1,11l1-19l1,11l1-10l1,11l1-15l1,8l1,7l1,3l1,1l1,13l1-16l1,10l1-2h1l1,11h1l1-4l1,8l1-11l1,5l1-3l1,11l1-10l1-1l1-2l1,2l1,4l1-9l1,3l1,5l1,5l1-2l1-24l1,27l1,5l1,5l1-22l1,5h1l1-19l1,6l1,5l1,18l1-12l1,16l1-18l1,19l1-8l1,7l1-1l1-1l1-5l1-1l1,2l1-22l1,12l1,1l1-5l1-5l1-9l1,1l1,8l1,18l1-7l1-6l1,14l1-7l1,10l1,4l1-2l1-2h1l1-8l1-5l1,7l1-5l1-3l1,6l1-6l1,1l1,15l1-10l1,1l1,2l1-10l1,1l1,10l1-2l1-12l1,6l1,8l1-16l1,3l1,9l1,2l1-6l1,1l1,10l1-5l1-2l1,4l1,7l1,16l1-30l1,8l1,6l1-1h1l1-14l1,9l1,3l1,1l1-7l1,6l1-2l1-2l1,1h1l1-8l1,4l1-1l1,5l1-8l1,8l1,5l1-8l1,8l1-3l1,19l1-16l1-5l1,7l1-10l1,5l1-10l1,9l1-2l1,5l1-4l1-9l1,13l1-14l1,16l1-14l1-5l1,3l1,12l1-6l1,3l1-16l1,14l1-2"/>
<path transform="translate(193.500,0) scale(0.296167,0.5)" vector-effect="non-scaling-stroke" fill="none" stroke="#ff0000" stroke-width="2.8" stroke-linejoin="miter" stroke-miterlimit="2" d="M0,830l1,2l1,16l1-14l1,13l1,7l1-36l1,39l1-17l1,34l1-14l1-14l1,8l1,4l1,2l1,13l1-12l1,8l1-14l1-7l1-12l1-2l1,17l1,5l1,9l1-18l1,10l1-9l1,3l1-19l1,36l1-12l1,4l1,1l1-6l1-18l1,30l1-9l1-3l1-20l1-11l1-1l1,18l1,9l1-8l1,24l1-17l1,9l1,5l1-18l1,21l1-10l1-19l1,22l1,4l1-3l1,2l1-23l1,6l1-2l1,12l1,2l1,8l1-3l1-14l1,15l1,5l1-10l1-33l1,19l1,3l1-19l1,13l1-12l1,19l1,2l1-4l1-12l1,16l1-9l1,3l1,25l1-22l1-10l1,21l1,4l1-2l1-9l1,13l1-23l1,26l1,5l1-25l1,11l1-15l1-1l1,19l1-22l1,17l1-2l1-7l1,12l1,9l1-21l1,17l1-1l1-14l1-3l1-17l1,35l1,6l1-5l1,20l1-9l1-6l1-8l1-8l1,16l1,2l1-2l1-5l1-3l1,16l1-24l1,15h1h1l1-3l1-18l1-2l1-3l1,16l1-8l1-6l1-14l1-1l1,31l1-4l1,3l1,13l1-25l1,12l1,14l1,8l1-24l1,1l1-9l1,3l1,10l1-5l1,10l1-9l1,11l1-15l1,19l1-16l1-4l1,4l1,16l1-7l1-15l1,39l1-14l1-18h1l1,8l1-16l1,41l1-28l1,3l1,2l1-7l1,1l1,16l1-20l1,1h1l1,14l1-31l1,4l1,11l1-18l1,2l1,17l1-6l1-2l1,16l1-17h1l1-12l1,20l1,13l1-20l1,29l1-9l1-5l1-23l1,14l1,3l1-24l1,16l1-5l1-16l1,19l1,40l1-31l1-14l1,9l1,12l1-20l1,14l1-1l1,3l1,13l1-36l1,26l1-9l1-4l1-17l1,22l1-17l1-22l1,16l1,3h1l1,8l1-2l1,25l1-6l1-7l1,19l1,7l1-19l1-17l1,13l1,5l1-18l1,13l1,5h1l1-2l1-4l1-3l1-6l1,20l1-2l1-22l1,7l1,15l1-4l1-21l1-6l1,19l1,9l1,1l1-3l1-34l1,25l1-4l1-4l1,30l1-25h1l1-11l1,16l1,12l1-24l1-2l1-2l1-5l1,9l1,5l1-1l1-4l1-15l1,27l1,6l1,18l1-22l1-10l1-7l1,12l1,4l1,3l1-18l1,3l1,11l1-12l1-6l1,5l1-18l1-2l1,6l1,20l1,2l1-12l1,7l1-1l1,5l1-16l1,11l1,5l1-25l1,8l1-4l1,3l1,2l1-3h1l1,8l1-10l1,15l1-25l1,11h1l1-19l1-7h1l1,18l1-24l1-6l1,33l1-18l1-1l1-11l1,12l1-8l1,15h1l1,1l1,7l1-11l1,1l1,2l1,16l1,1h1l1-29l1,33l1-21l1,3l1,7l1-1l1,13l1-5l1,2l1,6l1,3l1-27l1-4l1-9l1-2l1,22l1-2l1-6l1,9l1,2l1,14l1,2l1-25l1,22l1-6l1-20l1,15l1-10l1-15l1,14l1-16l1,18l1-7l1,7l1,11l1-11l1-12l1,11l1,6l1-2l1-15l1,16l1-12l1-8l1,18l1-4l1,5l1-6l1-18l1,24l1-3l1-10l1,25l1-15l1,14l1-9l1-24l1-3l1-4l1,10l1,10l1-19l1-1l1,36l1-30l1,7l1,17l1-18l1-32l1,33l1-14l1,20l1-31l1,26l1,12l1,7l1-2l1,1l1-18l1-1l1-10l1,18l1,8l1-20l1-19l1-2l1,13l1,30l1-10l1-16l1,2l1,14l1-14l1,4l1-6l1-7l1,28l1-36l1,9l1,14l1-11l1-4l1,8l1,1l1,9h1l1,3l1,9l1,18l1-26l1,14l1-16l1-15l1-13l1,9l1-15l1,15l1-10l1,17l1-34l1,22l1,9l1-3l1-14l1,6l1,2l1-1l1,11l1-9l1,3l1,5l1-12l1-1l1,7l1-8l1-22l1,21l1,8l1-13l1-20l1,41l1-16l1,13l1-10l1,13l1-10l1,6l1,7l1-19l1,13l1,11l1-32l1,17l1,15l1,16l1-26l1-14l1-7l1,26l1-7l1-14l1,11l1-9l1,17l1-28l1,13l1,32l1-36l1-8l1,14l1,13l1-18l1,12l1-23l1,9l1,4l1,1l1-6l1-25l1,36l1,7l1,1l1-27l1,3l1,7l1-7l1,33l1-27l1,2l1-11l1-7l1,31l1-6l1-5l1,5l1-21l1,33l1-19l1-8l1,10l1,8l1-5l1,2l1,2l1-7l1,17l1-32l1,26l1-3l1,3l1-5l1,6l1-6l1-19l1,10l1,9l1,6l1-23l1-3l1,3l1-1l1,11l1,13l1,12l1-38h1l1,3l1,9l1,2l1,11l1-39l1,9l1-6l1,6l1,5l1,5l1-5l1-14l1,18l1,6l1-18l1,22l1-2l1,1l1,2l1,22l1-42l1,24l1-22l1,21l1,7l1-40l1,33l1-3l1-14l1,1l1-4h1l1-5l1,10l1,2l1-19l1,25l1,8l1,7l1-12l1-24l1,17l1,6l1,2l1-13l1,18l1,2l1-41l1,11l1-2l1,4l1,22l1-55l1,42l1,3l1-23l1,30l1-15l1-6l1-2l1-10l1,19l1-21l1,4l1,13l1-16l1,3l1,11l1,6l1-5l1-14l1,21l1,1l1-22l1,10l1-27l1,18l1-7l1,14l1-5l1-22l1,35l1-23l1,23l1,1l1-13l1-11l1,4l1-24l1,23l1,7l1,1l1-10l1,25l1-7l1-18l1,14l1-13l1-2l1,9l1,18l1,2l1-33l1,13l1-1l1,14l1-5l1-8l1,5l1-12l1-5l1,8l1-8l1-8l1,15l1-15l1-7l1,11l1,7l1-15l1,22l1-12l1,5l1,2l1-9l1-2l1,3l1,17l1,7l1-6l1-12l1-7l1,6l1,3l1,4l1,4l1-9l1,22l1-21l1,4l1-11l1,19l1-8h1l1,6l1-3l1-30l1,21l1-11l1,9l1,2l1-13l1-1l1,13l1,1l1,4l1-4h1l1,1l1-6l1-5l1,12l1-10l1-5l1-8l1,19l1-13l1,3l1,12l1-15l1,13l1-7l1,3l1-22l1,24l1-7l1-3l1,9l1-30l1,30l1-22l1,4l1,5l1-27l1,18l1-6l1,11l1-15l1,38l1-10l1,2l1-13l1,27l1-30l1,15l1-26l1,8l1-24l1,21l1-17l1,1l1,19l1-2l1-10l1,3l1,30l1-35l1,20l1-7l1,5l1,8l1,4l1-12l1,15l1-1l1-12l1,20l1-26l1,8l1,14l1-26l1-4l1-10l1,16l1-1l1,14l1-32l1,38l1-5l1,1l1-13l1-18l1,27l1-5l1-11l1,33l1-8l1,2l1,7l1,7l1-7l1-1l1-10l1-12l1-8l1,9l1,1l1-5l1-23l1-4l1,5l1,35l1-10l1-8l1-11l1,32l1-9h1l1-20l1,18l1-14l1,5l1,25l1-8l1,3l1-32l1,6l1-8l1,11l1-4l1-3l1-10l1,26l1-32l1,30l1-2l1,20l1-28l1,18l1-22l1,12l1-7l1,31l1-53l1,8l1-17l1,19l1,13l1-9l1-8l1,5l1,4h1l1,23l1-14l1-14l1-5l1,10l1,5l1-22l1,16l1,8l1-40l1,46l1-9l1-42l1,16l1,28l1-8l1,10l1-20l1,17l1-21l1,12l1-2l1-14l1,18l1-6l1-6l1-4l1-22l1,18l1,36l1-20l1-7l1,4l1-2l1,29l1-29l1,7l1,18l1-34l1-2l1,9l1,4l1,17l1,6l1-14l1,12l1-45l1,38l1-20l1,12l1-8l1-8l1,25l1,1l1-14l1-17l1,31l1-55l1,22l1-15l1-5l1,19l1-10l1,18l1-11l1,12l1-6l1,5l1-12l1-1l1-9l1,12l1,3l1-18l1,14l1-11l1,3l1-9l1,15l1,12l1-11l1-23l1,26l1-14l1,24l1-3l1,1l1-15l1,7l1-10l1,8l1,10l1-30l1,5l1,12l1-24l1,11l1,9l1-2l1,2l1,7l1,8l1-17l1,5l1-1l1-21l1,3l1,9l1-7l1-10l1-10l1-4l1,9l1-45l1,5l1,25l1-3l1,5l1,2l1-8l1-22l1,17l1-3l1-26l1-19l1,16l1,11l1-13l1,10l1-17l1-6l1-2l1,15l1,4l1,2l1-13l1-7l1,3l1,15l1-6l1,10l1-10l1,9l1,14l1-1l1,15l1,20l1-18l1,15l1-25l1,32l1-13l1,10l1-4l1,13l1-22l1,23l1,4l1-12l1,16l1-24l1,26l1-9l1,9l1-37l1,36l1,8l1-32l1,26l1-23l1,18l1,8l1-19l1,39l1-24l1,6l1,16l1-1l1-7l1,15l1-7l1-26l1,21l1-6l1-6l1-1l1-19l1-17l1,25l1,1l1,2l1-10l1,34l1-32l1-4l1,19l1-4l1-23l1,18l1-44l1,25l1,27l1,11l1-8h1l1-15l1,12l1,12l1-47l1,33l1,2l1,2l1-10l1,8l1-5l1-12h1l1,3l1-4l1,19l1,13l1-5l1-16l1,14l1-21l1,7l1,12l1-26l1,8l1,9l1,30l1-29l1,4l1,6l1-25l1-19l1,12l1-9l1,45l1-23h1l1-4l1-3h1l1,3l1,14l1-4l1-21l1,28l1-6l1-8l1,8l1-4l1,34l1-17l1-16l1-15l1,25l1,3l1-13l1-4l1,29l1-32l1,12l1,4l1-27l1,9l1,9l1-12l1-38l1,34l1,21l1-14l1-2l1-13l1,2l1,5l1-14l1,10l1,8l1-2l1-5l1-3l1,18l1-14l1,2l1-12h1l1,13l1,31l1-19l1-34l1,32l1-16l1-17l1,16l1-15l1-4h1l1,18l1-20l1,33l1,8l1-27l1,4h1l1-3l1-4l1,12l1-3l1-16l1,14l1-4l1-9l1,9l1-21l1,6l1,21l1,3l1,4l1,2l1-32l1,19l1-32l1,18l1,2l1,17l1-3l1,7l1-13l1,17l1,17l1-4l1-7l1-23l1-13l1,16l1,4l1,4l1-9l1-20l1-7l1,25l1-2l1,7l1-41l1,29l1,6l1-26l1-1h1l1-1l1,6l1,3l1,29l1-13l1-9l1,2l1-15l1-23l1,30l1-17l1,20l1-22l1,17l1-11l1-25l1,46l1-26l1,6l1-16h1l1,36l1-41l1-51l1,71l1-23l1-14l1,18l1,2l1-12l1,29l1-7l1,5l1-17l1-4l1,3l1-23l1,3l1,23l1-11l1,7l1-9l1-1l1,17l1-19l1-1l1,12l1,4l1,3l1-24l1-8l1-7l1-1l1,14l1,10l1-22l1-11l1-12l1-15l1,39l1,19l1-37l1,22l1,3l1,19l1-49l1,18l1,10l1-7l1,9l1-4l1,3l1-11l1,12l1-20l1,51l1-47l1,18l1-6l1-10l1-4l1,21l1-34l1,37l1,18l1-19l1-52l1,46l1-12l1-8l1,15l1-17l1,10l1-14l1-3l1,28l1-3l1-16l1,26l1-19l1-8l1-9l1,12l1,22l1,5l1-8l1,14l1-31l1,11l1-2l1-35l1,30l1-18l1,24l1-33l1,25l1-9l1-20l1,31l1-1l1-10l1-5l1,28l1-29l1,20l1-4l1-15l1-10l1,14l1,4l1-16l1,18h1l1-6l1-27l1,31l1-6l1,9l1-12l1-4l1,7l1,1l1,28l1-46l1-11l1,18l1,3l1-30l1-7l1,9l1,7h1l1,13l1-9l1-7l1,16l1,9l1,19l1-49l1,46l1,7l1,14l1-28l1,6l1-29l1,32l1-4l1-24l1,12l1-7l1,19l1-12l1,2l1-4l1-10l1,2l1,17l1-20l1-10l1,30l1,10l1-14l1-11l1-5l1,12l1,3l1,20l1-19l1-43l1,25l1,25l1-24l1-8l1-10l1,18l1-2l1,1l1-21l1-17l1,49l1-39l1,5l1-18l1,33l1-13h1l1,35l1-18l1-13l1-29l1,36l1,2h1l1-15l1-15l1,8l1,20l1-1l1-6l1,29l1-15l1-13l1,1l1-28l1,15l1,18l1-44l1,34l1,9l1-17l1,17l1-27l1,32l1-29l1-22l1,39l1-18l1,38l1-15l1-14l1,33l1-25l1-17l1,29l1,7l1-17l1,7l1,17l1-41l1-40l1,56l1-10l1,21l1-11l1-11l1-8l1,2l1,5l1-7l1,19l1-7l1-25l1,32l1-29l1,4l1,10l1-2l1-11l1,27l1,21l1-42l1,9l1-26l1,28l1,55l1-56l1-8l1,3l1-17l1,19l1-4h1l1,21l1-8l1-2l1-11l1,14l1,4l1-4l1,17l1-31l1,3l1-3l1,20l1-25l1-5l1,14l1-9l1,7l1,31l1-30l1-2l1-26l1,11h1l1,22l1-35l1,1l1-27l1,21l1,7l1,17l1-9l1-26l1,41l1-4l1-1l1-45l1,55l1-49l1,21h1l1,6l1-7l1-6l1,36l1-53l1,18l1-1l1,22l1-10l1-37l1,54l1-40l1,8l1,16l1-33l1,17l1-29l1,16l1,34l1-21l1,19l1-10l1,8l1-9l1,19l1-23l1-15l1,16l1-19l1-5l1-15l1,42l1-3l1-11l1,23l1-4l1-13l1,7l1,1l1,7l1,21l1-10l1,7l1-10l1-14l1,12l1,8l1-10l1,6l1-9l1-17l1,8h1l1-2l1,11l1-26l1,42l1-45l1,36l1-28l1,27l1-30l1-1l1-15l1,1l1,22l1-1l1-6l1,3l1,6l1,7l1-16l1-8l1,30l1-18l1-2l1,10l1-20l1-10l1,1l1,35l1-36l1,30l1-26l1-3l1,36l1-9l1,16l1-9l1-1l1,14l1-18l1,4l1,2l1-27l1-6l1,37l1-3l1-25l1,29l1-32l1-3l1,38l1-27l1-14l1,4l1,32l1,8l1-35l1,32l1-34l1-24l1,45l1,25l1-19l1-12l1,14l1-15l1,14l1-27l1,26l1-31l1,7l1,35l1-27l1,23l1-43l1,21l1,8l1,11l1,11l1-9l1,6l1-11l1,16l1-12l1-5l1,12l1-16l1-8l1-15l1,4l1,16l1-32l1,40l1-8l1,18l1-23l1,19l1-15l1,19l1,13l1,13l1-23l1-18l1-22l1,30l1-21l1,28l1-6l1,8l1-50l1,26l1,7l1,8h1l1-8l1,15l1,4l1-13l1-14l1,17l1,4l1,5l1-22l1,35l1-9l1-1l1-30l1,30l1-13l1,4l1-4l1-20l1,12l1,15l1-9l1,5l1-16l1-5l1,24l1-35l1,40l1-26l1,43l1-33l1,11l1-19l1-9l1,23l1,7l1-16l1,27l1-25l1-9l1,18l1,32l1-34l1,1l1,11l1-16l1,19l1-9l1,8l1-23l1,26l1-15l1,35l1-23l1,16l1,10l1-17l1-2l1,17l1-6l1,2l1-5l1-17l1,6l1-6l1,44l1-39l1-18l1,1l1,6l1,12l1,19l1-17l1,9l1-17l1-15l1,55l1-2l1-25l1-1l1-23l1,27l1,29l1-57l1,7l1,9l1-19l1,1h1l1-13l1,18l1-31l1,24l1,6l1,11l1-13l1-5l1,16l1,7l1,33l1-14l1,16l1-15l1,1l1-2l1-21l1,14l1-9l1,17l1,30l1-43l1,33l1,9l1-31l1,7l1-19l1-10l1,5l1,5l1,23l1-3l1-12l1,28l1-8l1-18l1,21l1,11l1-11l1-40l1,22l1-10l1,23l1,8l1-69l1,50l1-27l1,27l1,15l1,2l1-27l1,22l1-26l1,6l1-22l1,12l1-13l1,34l1-20l1,26l1-20l1,35l1-17l1-17l1,7l1,15l1-5l1-22h1l1,14l1,24l1-30l1-22l1,3l1,5l1,9l1-33l1-9l1,40l1-3l1,9l1-24l1,10l1,21l1-16l1-14l1,22l1-19l1,17l1-8l1-12l1,7l1,23l1-24l1,17l1,17l1-30l1-3l1,6l1-15l1,19l1-16l1,8l1-12l1,35l1,4l1-18l1,13l1-7l1,13l1,14l1,1l1-34l1,5l1-20l1,25l1,4l1-32l1,4l1-17l1,17l1-1l1-7l1-6l1,14l1-21l1,32l1-17l1,2l1,26h1l1-24l1,25l1-7l1-3l1,18l1-30l1,4l1-41l1,30l1-13l1-8l1,9l1,4l1-3l1-8l1-1l1-14l1,51l1-36l1,17l1-20l1,4l1,18l1-4l1-5l1,10l1,1l1-7l1-3l1,32l1-3l1,30l1-17l1-26l1,15l1,12l1,25l1-32l1,56l1-28l1,19l1,22l1-33l1,5l1,14l1,15l1-6l1-12l1,15l1-11l1,12l1-25l1,37l1-31h1l1,12l1,3l1,10l1-12l1-15l1,57l1-34l1,32l1-27l1-5l1,27l1-26l1-20l1,43l1-6l1,8l1-8l1-10l1-6l1,17l1,2l1-5l1,12l1,13l1-11l1,12l1-29l1,5l1-5l1,21l1-12l1,12l1-13l1,19l1,26l1-17l1-11l1-7l1,5l1-10l1,20l1-3l1-4l1-11l1,2l1,2l1-25l1,2l1,1l1,22l1-7l1,16l1-23l1,26l1,1l1-11l1-4l1-1l1,11l1-5l1-37l1,42l1-11l1,9l1-14l1,23l1,16l1-27l1,14l1,8l1,3l1-6l1,20l1-51l1,28l1-6l1-21l1,17l1-21l1,24l1,1l1,4l1,17l1-37l1,2l1,9l1,29l1-20l1-1l1,3l1,7l1-15l1,27l1,9l1-19l1-11l1-10l1,35l1-6l1-8l1-7l1,6l1,18l1-22l1,32l1-6l1,1l1-7l1-12l1,74l1-45l1-19l1,1l1,4l1-39l1,44l1-18l1,7l1-26l1,16l1,2l1,38l1-38l1,13l1,14l1-9l1-5l1,4l1-15l1-1l1-11l1,5l1-21l1,33l1-14l1,28l1-8l1,13l1-34l1-7l1,22l1-2l1,8l1-27l1-9l1,11l1,17l1-6l1-2l1-7l1,13l1,19l1-3l1-11l1,15l1,21l1-18l1,23l1-23l1,4l1,34l1-41l1,5l1-4l1,9l1-13l1,16l1-11l1-1l1-8l1-3l1-29l1,34l1-26l1,16l1,30l1-1l1-23l1,10l1,5l1,11l1-18l1-8l1,24l1-40l1,19l1-13l1,5l1,23l1-32l1,5l1,17l1-37l1,15l1,30l1-3l1,1l1,27l1-41l1,18l1,2l1,6l1-12l1-13l1,24l1-16l1,8l1-9l1,32l1-19l1,30l1,4l1-27l1-4l1,18l1,15l1,9l1-17l1,3h1l1-8l1-14l1,20l1,4l1-20l1,5l1,7l1-5l1,3l1,4l1,3l1-5l1-12l1-5l1,25l1-20l1,10l1-24l1,34l1-21l1,30l1,10l1-11l1-11l1,7l1,22l1-1l1-25l1,13l1-10l1,15l1-1l1,7l1,1l1-6l1,18l1-24l1,2l1,10l1-4l1,14h1l1-22l1-2l1,40l1-49l1,41l1,2l1-7l1,27l1-19l1-31l1,38l1,3l1,6l1-19l1-16l1,14l1-3l1-10l1,15l1,9l1,9l1,3l1-13l1-16l1,32l1-27l1-16l1,23l1-26l1,8l1,8l1-10l1,10l1,2h1h1l1-12l1,8l1,15l1-10l1,5l1-12l1-20l1,11l1-25l1,22l1-7l1-10l1-1l1,5l1-3l1-29l1,20l1,26l1-31l1-1l1,34l1-20l1,27h1l1-18l1-5l1,32l1-17l1-8l1-3l1,12l1-22l1-16l1-7l1,10l1-8l1-12l1-4l1-43l1,43l1-28l1-19l1-36l1,30l1-46l1,40l1-78l1,33l1-38l1,7l1-75l1,7l1-40l1-11l1-19l1-8l1-4l1-42l1-20l1,6l1-14l1-15l1,2l1,20l1-32l1,10l1,11l1-15l1,56h1l1,6l1,46l1,34l1,19l1,30l1-8l1,2l1,27l1,34l1,10l1,28l1-20l1,41l1,28h1l1,5l1,34l1-30l1,46l1,23l1-16l1,24l1-1l1,11l1,14l1,10l1-21l1-10l1,46l1-14l1,1l1,13l1,2l1,5l1,20l1-23l1,13l1-13l1,7l1,1l1,26l1-9l1-9l1-8l1-2l1,19l1-1h1l1-18l1,2l1-2l1,23l1-7l1,18l1-16l1,8l1-16h1l1,21l1-16l1,7l1-25l1,29l1-19l1,8l1-39l1,22l1-4l1-7l1-7l1,25l1-17l1,1l1,4l1,6l1,8l1,7l1-38l1,1l1,21l1-12l1,33l1-26l1,33l1-30l1-8l1,10l1,16l1-5l1-4l1-12l1-2l1,11l1,29l1-28l1-14l1-4l1,19l1,7l1-12l1-21l1-14l1,24l1-12l1,26l1-25l1,21l1-7l1,13l1,23l1-32l1-6l1,24l1,2l1-17l1,14l1-15l1-30l1,22l1,13l1-12l1-3l1,16l1,18l1-21l1-3l1,22l1-9l1,10l1-16l1,8l1-8l1,26l1-21l1-10l1,18l1-24l1-26l1,19l1,13l1,15l1,3l1-18l1,18l1-5l1-4l1,12l1-26l1,13l1,28l1-26l1,23l1-16l1,7l1-15l1,25l1-9l1-4l1,50l1-66l1,25l1,2l1,14l1-36l1,16l1-3l1-8l1,4l1-8l1,4l1,22l1-17l1,24l1-4l1,5l1,25l1-15l1-8l1,5l1,6l1-18l1,10l1-18l1-10l1,29l1-2l1,4l1,8l1,3l1-17l1-6l1-2l1,24l1-13l1-2l1-7l1-1l1,3l1-1l1,3l1,5l1,16l1-4l1-10h1l1,17l1,8l1-33l1,8l1,14l1,19l1-11l1,4l1-12l1,16l1,7l1-20l1,6l1,11l1-15l1-13l1,12l1-11l1-3l1,12l1-16l1,9l1-5l1-18l1,2l1,25l1,11l1,8l1-35l1,30l1-18l1-11l1,23l1,2l1,26l1-16l1-12l1,5l1,14l1-4l1,3l1-19l1-8l1,19l1-1l1-20l1-4l1,22l1-2l1-22l1,29l1,5l1-15l1,23l1-13l1,3l1-18l1,5l1,7l1,5l1-2l1-4l1,12l1-17l1,12l1-10l1,3l1,4l1,2l1,7l1-2l1-31l1,24l1-18l1,7l1-9l1,8l1-17l1-1l1-1l1,14l1,13l1,3l1-1l1,19l1-12l1-3l1,10l1-20l1,22l1,4l1-7l1,23l1-29l1-9l1,28l1-7l1,8l1-5l1-10l1,11l1-27l1,30l1-18l1,12l1,3l1,1l1-1l1,13l1-11h1l1,11l1-13l1-2l1-14l1,17l1-7l1,25l1-23l1,14l1-16l1-3l1,12l1,3l1,11l1-13l1-8l1,35l1-15l1-4l1,7l1-4l1,5l1-17l1,13l1-1l1,6l1-7h1l1,23l1,3l1-20l1,9l1-4l1-13l1,30l1-41l1-15l1,27l1-4l1,1l1-5l1,20l1-10l1-1l1-2l1,26l1-26l1-1h1l1,3l1,2l1-7l1,27l1-14l1-8l1,19l1,14l1-23l1-12l1,12l1,4l1,6l1-18l1,19l1-4l1-21l1,16l1-4l1,4l1-3l1,25l1-7l1-12l1-1l1-13l1,51l1-41l1,29l1-9l1-16l1,16l1-10l1-4l1,12l1-24l1,28l1-41l1,27l1-10l1-8l1-5l1,12l1,9l1-13l1,8l1,9l1-16l1,2l1-7l1,8l1,13l1-30l1,10l1,18l1,4l1-9l1,10l1-13l1-2l1,16l1-14l1,10l1-5l1,15l1-7l1-14l1,25l1-7l1-10l1,1l1,4l1-21l1,27l1-6l1,16h1l1-13l1-28l1,12l1,7l1-14l1,22l1-3l1-13l1-12l1,18l1-5l1-18l1,24l1-18l1,14l1,27l1-31l1,25l1-27l1-8l1,17l1,9l1-9l1,18l1,1l1-16l1-6l1,6l1,1l1-15l1,16l1,7l1,5l1,20l1-16h1l1,4l1,12l1-18l1-9l1,3l1,12l1-12l1,18l1-17l1,5l1-5l1,5l1-6l1,1l1-12l1,15l1-1l1,2l1,1l1-8l1,12l1-3l1-8l1,6l1-7l1,7l1-1l1-19l1,4l1,23l1-5l1,19l1-7l1-7l1,4l1-9l1-3l1,36l1-29l1-7l1-6l1,15l1-2h1l1,5l1-1l1,7l1,7l1-35l1,10h1l1,10l1,11l1,15l1-19l1-4l1,3l1-3l1-12l1,12l1-2l1-20h1l1,19l1-27l1,22l1,11l1-1l1-5l1,3l1-4l1,15l1,4l1,6l1-25l1-12l1,18l1,3l1,7l1-7l1-5l1,14l1-24l1,17l1-6l1-3l1-2l1,7l1,13l1-6l1,5l1,11l1-17l1-7l1,2l1-6l1-8l1,6l1,8l1-10l1,8l1-23l1,11l1,21l1-13l1,18l1-21l1,12l1-3l1-17l1,6l1,10l1-13l1,7l1,16l1-25l1-9l1,13h1l1,27l1-38l1,6l1,31l1-13l1,5l1,24l1-34l1,18l1-2l1-8l1-6l1,1l1,14l1-22l1-9l1,16l1-4l1,19l1-2l1,5l1-20l1-4l1,26l1-18l1-4l1,7l1-21l1,12l1-27l1-9l1,9l1,19l1-3l1-29l1,40l1-23l1,2l1,25l1-11l1,7l1-34l1,23l1-12l1,22l1,4l1-1l1,15l1-12l1,1l1,11l1-4l1-2l1,3l1,1l1-19l1,17l1-3l1-9l1-2h1l1-3l1,15l1-12l1,5l1-1l1-9l1,4l1-12l1,12l1-23l1,12l1-1l1-15l1,23l1-17l1,9l1,18l1-8l1,10l1-9l1,5l1,29l1-27l1-8l1,7l1,16l1-17l1-3l1-2l1,4l1-3l1-18l1,28l1-3l1-22l1,15l1-23l1,26l1-25l1,29l1-16l1,5l1,3l1,4l1-9l1,4l1-3l1-10l1,5l1,16l1-8l1,17h1l1-24l1,14l1,29l1-37l1,14l1-27l1,7l1-16l1,31l1-28l1,9l1,9l1,4l1-21l1,26l1-2l1,9l1-9l1-22l1,5l1,19l1-4h1l1-35l1,14l1-9l1,5l1,24l1-25l1,15l1-13l1,34l1-24l1,14l1,2l1-9l1-15l1,20l1-9l1,7l1,20l1-7l1-23l1,29l1,19l1-4l1-9l1,5l1-9l1-21l1-4l1,21l1-22l1,3l1-1l1,14l1-7l1-1l1,3h1l1-12l1-6l1,19l1-4h1l1,3l1,4l1-2l1-19l1,10l1,15l1,7l1,28l1-40l1,3l1-5l1,14l1-8l1-11l1,15l1,11l1-6l1-11l1,8l1-13l1,29l1-19l1,2l1-10l1,21l1-15l1-2l1-13l1,11l1,7l1,1l1,2l1-12l1,11l1-16l1-2l1,6l1,18l1-6l1,8l1,8l1-12l1,5l1-7h1l1,10l1-6l1-6l1,4l1,20l1-17l1,3l1,6l1-6l1-13h1l1,14l1-13l1-1l1,2l1,13l1-8l1,18l1-19l1,14l1,1l1-5l1,13l1-20l1-2l1,28l1-14l1,19l1-31l1-10l1,30l1-21l1,7l1-13l1,15l1-26l1,11l1-7l1,13l1-2l1-8l1,8l1-6h1l1,19l1-12l1,15l1-17l1-9l1,11l1-8l1,9l1-14l1-9l1,15l1-2l1,4l1-4l1,2l1,6l1,3l1,7l1-11l1,6l1-17l1,7l1,6l1,3l1-7l1-6l1,4l1-10h1l1,21l1-13l1,14l1,4l1-30l1,24l1-12l1,2l1-6l1-10l1,30l1-22l1,10l1-21l1,9l1,11l1,5l1,5l1-12l1,14l1-10l1-4l1,18l1-17l1,7h1l1-1l1,2l1,1l1-7l1,16l1-6l1-5l1,10l1-18l1-5l1,9l1,13l1-12l1-1l1,6l1-25l1,25l1-21l1-2l1,6l1-5l1-5l1,14l1-20l1,15l1-2l1-9l1,14l1,18l1-12l1,3l1-6l1,2l1-11l1,29l1-28l1-1l1,22l1-17l1,11l1-11l1-6l1-4h1l1,2l1,7l1,9l1-3l1-11l1,23l1-10l1-4l1,9l1-1l1,1l1-20l1,11l1,16l1-40l1,13l1,23l1-14l1,9l1-14l1,10l1,24l1,4l1-10l1-2l1,14l1-6l1-1l1-20l1,3l1-6l1,21l1-12l1,3l1,7l1-7l1,1l1-1l1,8l1-2l1,5l1,29l1-17l1-28l1,9l1,18l1-12l1,8l1,4l1-15l1-1l1,7l1,7l1-14l1,3l1,20l1,13l1-10l1-15l1,12l1-16l1,37l1-11l1-11l1-7l1,4l1-17l1,9l1-14l1-4l1,39l1-16l1,4l1-1l1-4l1,13l1-23l1,1l1-7l1-11l1,2l1,22l1-12l1,20l1-21l1,8l1,17l1-15l1,25l1-34l1,18l1-11l1-14l1,14h1l1,11l1-4l1-5l1,16l1,4l1-30l1,7l1,10l1-16l1,2l1-6l1,26l1-5l1-10l1,13l1-8l1,1l1,10l1,3l1-4l1-1l1-1l1-13l1,1l1-6l1,2l1,13l1-24l1,10l1,16l1-9l1-2l1,1l1-16l1,17l1-5l1,14l1-22l1,39l1-22l1,14l1-1l1-2l1,1l1,1l1,10l1-24l1,16l1-16l1-10l1-11l1,10l1,3l1,5l1,16l1-13l1-11l1,18l1-2l1-9l1-8l1,27l1-4l1-19l1-7l1-5l1,28l1-22l1,8l1-12l1,23l1-25l1,7l1,9l1-5l1,14l1,5l1-2l1,6l1,9l1-32l1,36l1-12l1,3l1-3l1-17l1,4l1,11l1-23l1-1l1,6l1-18l1,24l1-14l1-1h1l1,13l1-6l1,2h1l1-8l1-10l1,12l1,6l1-7l1-1l1-2l1-8l1,6l1-18l1-7l1-5l1-13l1-4l1,20l1-28l1-3l1,16l1-32l1,10l1-4l1-11l1,8l1-7l1-13l1-17l1,6l1-12l1-12l1-15l1-16l1-10l1,5l1-23l1,35l1-32h1l1,4l1-12l1-6l1-26l1,43l1-20l1,7l1-3l1,2l1-24l1,11l1,5h1l1,2l1,21l1-6l1,25l1,4l1-13l1,18l1,20l1-2l1,3l1,5l1,20l1-7l1,20l1-20l1,19l1,5l1,24l1,8l1,4l1,6l1-12l1,17l1,17l1-3l1,16l1-20l1,15l1,4l1,18l1,4l1-22l1-3l1,22l1-16l1,18l1-5l1,22l1-39l1,13l1,10l1,3l1,5l1-11l1,10l1,7l1-8l1-11l1,33l1-11l1,10l1-7h1l1-17l1,13l1-14l1,18l1,15l1-19l1-3l1,28l1-22l1,11l1-1l1-9l1,7l1-9l1-17l1,20l1-17l1,14l1-3l1,9l1-14l1,15l1,3l1,4l1-34l1,26l1,7l1,9l1-2l1-11l1-19l1,20l1,18l1-31l1,8l1-13l1,4l1-5l1,11l1,4l1-10l1,7l1-8l1-2l1,4l1-7l1,24l1-14l1-12l1-9l1,1l1,13l1-5l1-7l1,16l1-15l1,18l1,11l1-22l1-5l1,15l1,1l1-2l1,8l1-13l1,17l1,13l1-25l1,1l1-6l1-7l1,23l1-26l1,11l1,23l1-20l1-9l1,16l1-5l1-16l1,8l1,9l1,9l1-4l1,7l1,1l1-1l1-11l1-5l1,9l1,5l1,7l1,4l1-13l1,17l1-3l1-9l1-3l1-1l1,5l1-16l1,11l1-22l1,11l1,22l1-4l1-21l1,16l1,8l1,1l1,2l1-13l1,1h1l1-20l1,32l1-12h1l1-6l1-14l1,30l1,3l1-24l1,1l1,20l1,5l1-8l1-7l1,12l1-6l1-3l1-17l1,28l1-20h1l1-2l1-5l1,12l1-6l1,6l1,14l1-9l1-3l1,2l1-1l1,3l1-21l1,13l1,10l1-6l1-4l1,4l1,3l1-7l1,6l1-2l1-8l1,5l1-5l1,20l1-11l1,9l1-21l1,11l1-6l1,1l1,10l1,6l1-14l1,7l1-9l1-2l1,5l1-11l1-14h1l1,20l1-11l1-4l1-1l1,2l1,12l1-14l1,16l1-17l1,10l1,1l1,9l1-6l1-19l1,23l1-16l1,26l1-7l1,3l1,5l1,6l1-16l1,14l1-2l1-13l1-6l1,26l1-15l1-6h1l1,12l1-9l1,3l1-4l1-11l1,19l1-16l1,3l1,23l1-33l1,17l1-7h1l1,22l1-8l1-22l1,10l1,16l1,7l1-1l1-14l1,4l1-6l1-3l1-4l1,10l1-2l1,9l1-15l1,9l1-6l1-5l1-4l1,20l1,1l1,2l1-31l1-8l1,17l1,11l1-11l1,12l1-18l1,21l1-8l1-14l1-2l1,6l1-4l1,2l1-11l1,3l1,3l1,2l1,16l1-18h1l1,25l1-26l1,23l1,5l1-12l1,14l1-18l1-9l1-4l1,6l1,3l1,25l1-19l1-9l1-2l1,17l1,34l1-43l1,8l1-11l1,3l1-7l1,23l1-15l1-8l1,12l1-8l1-16l1,16l1-4l1-4l1-2l1,3l1,4l1-26l1,27l1,15l1-2l1,1l1,3l1-2l1-12l1,11l1,17l1-11l1,6l1-25l1-1l1,2l1-3l1,6l1,3l1-6l1-14l1,21l1-17l1,20l1,5l1-3l1,1l1,15l1-8l1,6l1-24l1,17l1-1h1l1-10l1-10l1,18l1-32l1,23l1-12l1,33l1-16l1,8h1l1-11l1,14l1,6l1-42l1,15l1,10l1-10l1,22h1l1-5l1-4l1,16l1-19l1,5l1-1l1-4l1-8l1,4l1,21l1-16l1,11l1,5l1-20l1,14l1,3l1,3l1-6l1,13l1-2l1,5l1,2l1-2l1-5l1-11h1l1,2l1,3l1-2l1-2l1-14l1,2l1-7l1,15l1-9l1,5l1,16l1,6l1-6l1,10l1-19l1,15l1-15l1,13l1,7l1-13l1-6l1,6l1-4l1-4l1,1l1-14l1,3l1-12l1,11l1,27l1-2l1,4l1-17l1,1l1,9l1,2l1-13l1-17l1,29l1-3l1-15l1-6l1,19l1-32l1,19l1-3l1,7l1,4l1-4l1,10l1,1l1,12l1-9l1-1h1l1,1l1-18l1,18l1-11l1,7l1-11l1,32l1-26l1-10l1,23l1,11l1-19l1-4l1,3l1,7l1-8l1,29l1-15l1-18l1,6l1,1l1,12l1,7l1-25l1,15l1,1l1-16l1,22l1-9l1,15l1-25l1,6l1,6l1-13l1,4l1-6l1-9l1,25l1-6l1-15l1-7l1,17l1,7l1-3l1,5l1,11l1-10l1-19l1,8l1,7l1-2l1-13l1-6l1,5l1,1l1,10l1,4l1-24l1,7l1,22l1-23l1,12l1-4l1-20l1,28l1-16l1,27l1-12l1,17l1-6l1-6l1-11l1,23l1-11l1-11l1,5l1-16l1,13l1,14h1l1-5l1,8l1-33l1,9l1,24l1-9l1,6l1-17l1,14l1-8l1,7l1-1l1-6l1-14l1,3l1,2l1,10l1,3l1-14l1,24l1-13l1,19l1-5l1-19l1,5l1-3l1,4l1,7l1-8l1,15l1-15l1,4l1-2l1,5l1-2h1l1-7l1,12l1-4l1-1l1-8l1,17l1,7l1-15l1,1l1,15l1-15l1-10l1,3l1,25l1-31l1,26l1-4l1-15l1,9l1,15l1-13l1-10l1,6l1-7l1,33l1-43l1,30l1-16l1-3l1,14l1,1l1-34l1,35l1-20l1,14l1-5l1,8l1-14l1,16l1-7l1-1l1-13l1,5l1-7l1,5l1-10l1,18l1-9l1,3l1,1l1,27l1-9l1,5l1,1l1-2l1-12l1,11l1-5l1-5l1-5l1-16l1,6l1,22l1,1l1-13l1,12l1-3l1-8l1-3l1,6l1-4l1,17l1-4l1,1l1,9l1-31l1,8l1,17l1-2l1-16l1,29l1-14l1-3l1-9l1,8l1-11l1,10l1,4l1-16l1,17l1-24l1,14l1,6l1-21l1,9l1-1l1,9l1-13l1-3l1,7l1,4l1-7l1,17l1-10l1,14l1-14l1,26l1-8l1-4l1-6l1,7l1-11l1,14l1-2l1-10l1,9l1-4l1,17l1-27l1,28l1-31l1-1l1,13l1,2l1-9l1,9l1,10l1-1l1-13l1,8l1,10l1-20l1,9l1-2l1,6l1,5l1-14l1,1l1-7l1,13h1l1-12l1,8l1-22l1,16l1-4l1-2l1,1l1-9l1,14l1,3l1,7l1-22l1,25l1-23l1,14l1,11l1,3l1-7l1,3l1-14l1,12h1l1,6l1-9l1-4l1-1l1-3l1,11l1,4l1-1l1,18l1-13l1-4h1l1,5l1-16l1,2l1,4l1-9l1-12l1,9l1-11l1,24l1-8l1,6l1-20l1,8l1-4l1-12l1,13l1,28l1-18l1-17l1,16l1-9l1,14l1,11l1-12l1-4l1,14h1l1-17l1,13l1,11l1-36l1,13l1,9l1,10l1-14h1l1-1l1,10l1-29l1-1l1,13l1-19l1,35l1-27l1,19l1-6l1,16l1,17l1-27l1,7l1,10l1-19l1,1l1,11h1l1,1l1-15l1,11l1,2l1-4l1-20l1,6l1-9l1,13l1-8l1-10l1,18l1-18l1,29l1-14l1-8l1,26l1-31l1,12l1,13l1,5l1-16l1,1l1,3l1,18l1-7h1l1,3l1-13l1,13l1-18l1,14l1,1l1-4l1-8l1,12l1,12l1-14l1-7l1,10l1,5l1-1l1-11l1,11l1-2l1,8l1-19l1,5l1-3l1-2l1-6h1l1-7l1,20l1-3l1-4l1-26l1,16l1-7l1,22h1l1-13l1,21l1-4l1-9l1,10l1-27l1,2l1-1l1,7l1-3l1,7l1,4h1l1-5l1,22l1-22l1-8l1,25l1-33l1,25l1-12l1,10l1-11l1-4l1,6l1,4l1-11l1-2l1,10l1,13l1-5l1,22l1-39l1,13l1-5l1-21l1,12l1,15l1,1l1-16l1,10l1-11h1l1,2l1-10l1,6l1,2l1-6l1-10l1,13l1-3l1,4l1-19l1,17l1,1l1-3l1-6l1,24l1-11l1-11l1,6l1-14h1l1-7l1-4l1-4l1-8l1-5l1,7l1-3l1,7l1-24l1,18l1,8l1-4h1l1,7l1,6l1,4l1-9l1,23l1,5l1-17l1,10l1-11l1,25l1,15l1-10l1,3l1-5h1l1,11l1-14l1,9l1-9h1l1,9l1,5l1,5l1-4l1,6l1,1l1-11l1,12l1-1l1,14l1-29l1,23l1-15l1,15l1,4l1-13l1-1l1-9l1,28l1-13l1,9l1-3l1-11l1,15l1-4l1-7l1,4l1-5l1,23l1-6l1-1l1-12l1,20l1-20l1,20l1,5l1-12l1,6l1-20l1,7l1-8l1,9l1-24l1,4l1-1l1-3l1,4l1,2l1-1l1,19l1,8l1-9l1,4l1-3l1-5l1,6l1-2l1-11l1,4l1,6l1-10l1,10l1,17l1-1l1-11h1l1-9l1,3l1,4l1,3l1-19l1-4l1,8l1,18l1-6l1,10l1-6l1,2l1,1l1-6l1,3l1-7l1,10l1-20l1-6l1,19l1-23l1,21l1-10l1-9l1,3l1,18l1-3l1,2l1-13l1,15l1-2l1-1l1-17l1,14h1l1-3l1-6l1,8l1-15l1,28l1-7l1,13l1-5l1-17l1,5l1,16l1-4l1-13l1,17l1-16l1-11l1,16l1-5l1-1l1,2l1-6l1-1l1-7l1,8l1-14l1,19l1-6l1-5l1,12h1l1-8l1,26l1-15l1-7l1,1l1-3l1,5l1,1l1,1l1-14l1,12l1,1l1,7l1-9l1,1l1,17l1-13l1,26l1-19h1l1,20l1-28l1,13l1,3l1-11l1,4l1-6l1,10l1-20l1,6l1-13l1,19l1-18l1,23l1-10l1,8l1,4l1-17l1-8l1-2l1-5l1,14l1-8l1,19l1,5l1,10l1-25l1,23l1-15l1,7l1-13l1,19l1,2l1-4l1,3l1-5l1-1l1-2l1-2l1,7l1-3l1,4l1-7l1,3l1-11l1-1l1,6h1l1-8l1,5l1-13l1,12l1,18l1,4l1-18l1-4l1-3l1,2l1,6l1,1l1-3l1-5l1-8l1,33l1-33l1,12l1,11l1,3l1-8l1-11l1,24l1-4h1l1,5l1-20l1,3l1,3l1,2l1-9l1,7l1-10l1,10l1-1l1,16l1-18l1,5l1-1l1,16l1-4l1-11l1,3l1-11l1,23l1-8l1,5l1,2l1-28l1,3l1,16l1,7l1-11l1,10l1-2l1-16l1-4l1,15l1,10l1-14l1-13l1,17l1-12l1-9l1,4l1,9l1-19l1,25l1-10l1-8l1,4l1,6l1-13l1,18l1-8l1-4l1,13l1,1l1-10l1-16l1,22l1-3l1,7l1-3l1-2l1,9l1-10l1,8l1-6l1-3l1,10l1-2l1-9l1,6l1-9l1,9l1-14l1,12l1,15l1-4h1l1-22l1,9h1l1,15l1-1l1-16l1,5l1-10l1,10l1-12l1,11l1-3l1,4l1-1l1,3l1,10l1-8l1,13l1-22l1,2l1-9l1-1l1-5l1,9l1-7l1,14l1-8l1,6l1-21l1,26l1,2l1-19l1,15l1-8l1,10l1,21l1,3l1-13h1l1,5l1,5l1-12l1-3l1,7l1-18l1,8l1,13l1-11h1l1,11l1-7l1-3l1,11l1-14l1,20l1-28l1,11l1-2l1,3l1,14l1-10l1,5l1,4l1-10l1,17l1-3l1-13l1,3l1-2l1,4l1,10l1-10l1-12l1,9l1-8l1,1l1,3h1l1-16l1,37l1-26l1,1l1-5l1,17l1-5l1-2l1-4l1,2l1,4l1-6l1-16l1,20l1-15l1,23l1-8l1-11l1-2l1,19l1-8h1l1-12l1,29l1-24l1,10l1-13l1,14l1-4l1,20l1-28l1,20l1,4l1-4l1-9l1,16l1-5l1-8l1-9l1,18l1-6l1,14l1-18l1,17l1-16l1-4l1,3h1l1,1l1-12l1,11l1,15l1-24l1,10l1,10l1,7l1-8l1,13l1-4l1-17l1,1h1l1-11l1,12l1-3l1-14l1,7l1-4l1,13l1-5l1,10l1-9l1-5l1-1l1,6l1,4l1-18l1,16l1,3l1-9l1,1l1-4l1-3l1,3l1,6l1,13l1-6l1-6l1,19l1-17h1l1,6l1-12l1-4l1,8l1,1l1-21l1,6l1,3l1,2l1,22l1-19l1-2l1,3l1,7l1,17l1,4l1-17l1,10l1-32l1,18l1-3l1-1l1-3l1,18l1-3l1-7l1-6l1-10l1,11l1,9l1-5l1-19l1,22l1-13l1,1h1l1,9l1,7l1,8l1-12l1-8l1,7l1-3l1,1l1-8l1,9l1,3l1-17l1,21l1,4l1-13l1,9l1-21h1l1,24l1-3l1-1l1-10l1,9l1-14l1-3l1,20l1-6l1,1l1-19l1,20l1,3l1-12l1,1l1,6l1-1l1-1l1-10l1-3l1,18l1-10l1,1l1,6l1,8l1-16l1-4l1,5l1,8l1,3l1,5l1-19l1,9l1-14l1,18l1-12l1,8l1-4l1-10l1,5l1,5l1-4l1-3l1,3l1,10l1-12l1,3l1,11l1-9l1-4l1,34l1-45l1,15l1,3l1,13l1-14l1-2l1,8l1-2l1-16l1,15l1-13l1-1l1,8l1,11l1,7l1-9l1-10l1-3l1,15l1-4l1,5l1-2l1-1l1,3l1-23l1,16l1-14l1-7l1,2l1,12l1,2l1-2l1-1l1-5l1,7l1,2l1-4l1,1h1l1-2l1-7l1,7l1,12l1-8l1-8l1-7l1,17h1l1-4l1,13l1,7l1-17l1,9l1,11l1-8l1-6l1,4l1-3l1,3l1-1l1,2l1,3l1-16l1,8l1,8l1-38l1,19l1,2l1,11l1-11l1,13l1-10h1l1,7l1-11l1,3l1,19l1-15l1,11l1,3l1-25l1,3l1,41l1-4l1-37l1,8l1,11l1-1l1-18l1,16l1-4l1,4l1,8l1-8l1-3l1-5l1,6h1l1,5l1-12l1-9l1-2l1,3l1,9l1,5l1-1l1-8l1-1l1,12l1-2l1-13l1-4l1,2l1,11l1-16h1l1,9l1,3l1-5l1,7l1-13l1,18l1-11l1,16l1,6l1-17l1,19l1,4l1-17l1,15l1-11l1-2l1,15l1-3l1-7l1-25l1,1l1,28l1-28l1,14l1-14l1,30l1-12l1-20l1,19l1-11l1,3l1-7l1,13l1-8l1-3l1,5l1-20l1,11l1,12l1,5l1-12l1,5l1-5l1-13l1,5l1,5l1,2l1-4h1l1-16l1,17l1,8l1-1l1-6l1,4l1-1l1-1l1,23l1-12l1-7l1,5l1,1l1-4l1-11l1,6l1,7l1-16l1,6l1-3l1,5h1l1,8l1,1l1-2l1-6l1,3h1l1-4l1-4l1-1l1,12l1-5l1-8l1,19l1-17l1,9h1l1,6l1-7l1,4l1-1l1,2l1-8l1-1l1-4l1-1l1,1l1-9l1,6l1-3l1,1l1,3l1-16l1,1l1,39l1-16l1-11l1,12l1-4l1,2l1-5l1-5l1,19l1-29l1,17l1-17l1,28l1-12l1-13l1,3l1,11l1-6l1-4l1,16l1-4l1-10l1,2l1-9l1,10l1,12l1-10l1,12l1-13l1,6l1,1l1-16l1,16l1-8l1-7l1,14l1-2l1,2l1-22l1,36l1-10h1l1-11l1,5l1-7l1,7l1,1l1-1h1l1,13l1-11l1,3l1-4l1-12l1,22l1-3l1-3l1-2l1-2l1,15l1-16l1,2l1,23l1,5l1-21l1,1l1,2l1-7l1,1l1,5l1-8l1-3l1,9l1,2l1,11l1,6l1-8l1-7l1,3l1,4l1-2l1-1l1-13l1,5l1,14l1,8l1-17l1-9l1,19l1-20l1,11l1-9l1,4l1,7l1-4l1-2l1,14l1-3l1,4l1,9l1-20l1,10l1-4l1-5l1-2l1,16l1-10l1,11l1-18l1,22l1-18l1,16l1-7l1-14l1-6l1-2l1,16l1-5l1,4l1-8l1,8l1-8l1-9l1,16h1l1-17l1,17l1-13l1,11l1,8l1-6l1-3l1,5l1-3l1-12l1,17l1,16l1-4l1-14l1,1l1-4l1,5l1,3l1-11l1,11l1-1l1-7l1-11l1,8l1-4l1-5l1,9l1-4l1-13l1-9l1,18l1-2l1,9l1-5h1l1,14l1-7l1-11l1,5l1,2l1-9l1,12l1,4l1-2l1-2l1-2l1,8l1,1l1,18l1-5l1-15l1-10l1,16l1-3l1-4l1,7l1,3l1-16l1,6l1,7l1-18l1,22l1,2l1-23l1,11l1,5l1-9l1,11l1-11l1,7l1,14l1,9l1-15l1,1l1,7l1-3l1-7l1,3l1-7l1,2l1-3l1,4l1-1l1-5l1-8l1-3l1-1l1,8l1,3l1-12l1,5l1,8l1-7l1,19h1l1-3l1-14l1,8l1-3l1,14l1-8l1,18l1-24l1,10l1-9l1-3l1,12l1-10l1,1h1l1-10l1,10l1-9l1,24l1-15l1,8l1,4l1-7l1,3l1,7l1-7l1-5l1-15l1,13h1l1,1l1,8l1-3l1-7h1l1,3l1-18l1-2l1,15l1,5l1-11l1,2l1,5h1l1-3l1,8l1-10l1,10l1-12l1,4l1,4l1-4l1-3l1-6l1-4l1,16l1-34l1,25l1,3l1,19l1-4l1-5l1-17l1,10l1,23l1-5l1-14l1-7l1,11l1-5l1-16l1,17l1,4l1-10l1,16l1-9l1,1l1-8l1-8l1,7h1l1-3l1-3l1-5l1,8l1,14l1-24l1,25l1-19l1,8l1,2l1,14l1-8l1,15l1-17l1,7l1-8l1,18l1-22l1-8l1,4l1-16l1,3l1,5l1,13l1,3l1-5l1,24l1-14l1,1l1-3l1,2l1-4l1,2l1,15l1-11l1,4l1-8l1-2l1-3l1,1l1,6l1-8l1,19l1-6l1-1l1-1l1,2l1-6l1-5l1,8l1-22l1,11l1-12l1,3l1,14l1,15l1-18l1-1l1,7l1-1l1,12l1-4l1,16l1-14l1-15l1,7l1-1l1,5l1,1l1-8l1-11l1,14l1-13l1,17l1-5l1,4l1,4l1-20l1,23l1-24l1,13l1-13l1,14l1-12l1,12l1-8l1,6l1,2l1-6l1,2l1-8l1-2l1-13l1,12l1,15l1,4l1-14l1,19l1-9l1,4l1,7h1l1,4l1-25l1,13l1-10l1,5l1,2l1-1l1-12l1,7l1,3l1-9h1l1-3l1-10l1,9l1,1l1,9l1-1l1,1l1-9l1,3l1,10h1l1-9l1,17l1,9l1-23l1,2l1,18l1-4l1-15l1,1l1-8l1,6l1,3l1-7l1,10l1-12l1,14l1-8l1-10l1,10l1,6l1-8l1,8l1-15l1,4l1,6l1,13l1-9l1,5h1l1-10h1l1,3l1-1l1,1l1,19l1-11l1,3l1,7l1-8l1,8l1-25l1,8l1-5l1,5l1,2l1,2l1-6l1,21l1-10l1,7l1-5l1-3l1,5l1-14l1,5l1-9l1,14l1-6l1-6l1,9l1-8l1,6l1-12l1,8l1,7l1-12l1,1l1-10l1,7l1,6l1-30l1,31l1-10l1,15l1-22l1,1l1,5l1,6l1-6l1,15l1-4l1,14l1-3l1-3l1,8l1-11l1,13l1-7l1-4l1-18l1,6l1-3l1-13l1,17l1-15l1,1l1,25l1-24l1-3l1,1l1,14l1,4l1-10l1-4l1,24l1-11l1,9l1,3l1,3l1-8l1-2l1,1l1-2l1,17l1-1l1-23l1,16l1,13l1-17l1-8l1-7l1,8l1-15l1,12l1-14l1,10l1,1l1,13l1,11l1-11l1-15l1,10l1,13l1-26l1-4l1,19l1-6h1l1-6l1,3l1-4l1,8l1,11l1-2l1-21l1,9l1,16l1-4l1-1l1-6l1-1l1,2l1,16l1-22l1,16l1,5l1-10l1-6l1,8h1l1-8l1,10l1-8l1-5l1-4l1,3l1,11l1-11l1-2l1,20l1-17l1,10l1-13l1,19l1-6l1-6l1,3l1-12l1-9l1,26l1,1l1-5h1l1-21l1,20l1-12l1,23l1-15l1,13l1,6l1-18l1,10l1-6l1,3l1,2l1-11l1,4l1,5l1-4l1-3l1,17l1-7l1-14l1,11l1,5l1-15l1-4l1-9l1-1l1,13l1-8l1,8l1-8l1,24l1-4l1,6l1-7l1,2l1,3l1-11l1,1l1-13l1,21l1-1l1-4l1-18l1,5l1-4l1,15l1-6h1l1,4l1,6l1,2l1,3l1,1l1-6l1-12l1,4l1-14l1,15h1l1,6l1-3l1-2l1-4l1,11l1,12l1-14"/>
<line x1="671.5" y1="238.6" x2="671.5" y2="2123" stroke="#000" stroke-width="5" stroke-linecap="round" stroke-dasharray="19.6 22.74"/>
<line x1="884.6" y1="203.6" x2="884.6" y2="2159" stroke="#000" stroke-width="3" stroke-linecap="round" stroke-dasharray="10.6 12.825"/>
<rect x="193.5" y="47.5" width="1777" height="2127" fill="none" stroke="#000" stroke-width="7" stroke-linejoin="round"/>
<line x1="193.50" y1="2174.5" x2="193.50" y2="2140.5" stroke="#000" stroke-width="7" stroke-linecap="round"/>
<line x1="341.58" y1="2174.5" x2="341.58" y2="2140.5" stroke="#000" stroke-width="7" stroke-linecap="round"/>
<line x1="489.67" y1="2174.5" x2="489.67" y2="2140.5" stroke="#000" stroke-width="7" stroke-linecap="round"/>
<line x1="637.75" y1="2174.5" x2="637.75" y2="2140.5" stroke="#000" stroke-width="7" stroke-linecap="round"/>
<line x1="785.83" y1="2174.5" x2="785.83" y2="2140.5" stroke="#000" stroke-width="7" stroke-linecap="round"/>
<line x1="933.92" y1="2174.5" x2="933.92" y2="2140.5" stroke="#000" stroke-width="7" stroke-linecap="round"/>
<line x1="1082.00" y1="2174.5" x2="1082.00" y2="2140.5" stroke="#000" stroke-width="7" stroke-linecap="round"/>
<line x1="1230.08" y1="2174.5" x2="1230.08" y2="2140.5" stroke="#000" stroke-width="7" stroke-linecap="round"/>
<line x1="1378.17" y1="2174.5" x2="1378.17" y2="2140.5" stroke="#000" stroke-width="7" stroke-linecap="round"/>
<line x1="1526.25" y1="2174.5" x2="1526.25" y2="2140.5" stroke="#000" stroke-width="7" stroke-linecap="round"/>
<line x1="1674.33" y1="2174.5" x2="1674.33" y2="2140.5" stroke="#000" stroke-width="7" stroke-linecap="round"/>
<line x1="1822.42" y1="2174.5" x2="1822.42" y2="2140.5" stroke="#000" stroke-width="7" stroke-linecap="round"/>
<line x1="1970.50" y1="2174.5" x2="1970.50" y2="2140.5" stroke="#000" stroke-width="7" stroke-linecap="round"/>
<line x1="267.54" y1="2174.5" x2="267.54" y2="2157.5" stroke="#000" stroke-width="7" stroke-linecap="round"/>
<line x1="415.62" y1="2174.5" x2="415.62" y2="2157.5" stroke="#000" stroke-width="7" stroke-linecap="round"/>
<line x1="563.71" y1="2174.5" x2="563.71" y2="2157.5" stroke="#000" stroke-width="7" stroke-linecap="round"/>
<line x1="711.79" y1="2174.5" x2="711.79" y2="2157.5" stroke="#000" stroke-width="7" stroke-linecap="round"/>
<line x1="859.88" y1="2174.5" x2="859.88" y2="2157.5" stroke="#000" stroke-width="7" stroke-linecap="round"/>
<line x1="1007.96" y1="2174.5" x2="1007.96" y2="2157.5" stroke="#000" stroke-width="7" stroke-linecap="round"/>
<line x1="1156.04" y1="2174.5" x2="1156.04" y2="2157.5" stroke="#000" stroke-width="7" stroke-linecap="round"/>
<line x1="1304.12" y1="2174.5" x2="1304.12" y2="2157.5" stroke="#000" stroke-width="7" stroke-linecap="round"/>
<line x1="1452.21" y1="2174.5" x2="1452.21" y2="2157.5" stroke="#000" stroke-width="7" stroke-linecap="round"/>
<line x1="1600.29" y1="2174.5" x2="1600.29" y2="2157.5" stroke="#000" stroke-width="7" stroke-linecap="round"/>
<line x1="1748.38" y1="2174.5" x2="1748.38" y2="2157.5" stroke="#000" stroke-width="7" stroke-linecap="round"/>
<line x1="1896.46" y1="2174.5" x2="1896.46" y2="2157.5" stroke="#000" stroke-width="7" stroke-linecap="round"/>
<text transform="translate(193.00,2264.5) scale(1,1.035)" x="0" y="0" font-family="'Liberation Sans', Arial, Helvetica, sans-serif" font-size="68.5" text-anchor="middle" fill="#000">5</text>
<text transform="translate(341.08,2264.5) scale(1,1.035)" x="0" y="0" font-family="'Liberation Sans', Arial, Helvetica, sans-serif" font-size="68.5" text-anchor="middle" fill="#000">10</text>
<text transform="translate(489.17,2264.5) scale(1,1.035)" x="0" y="0" font-family="'Liberation Sans', Arial, Helvetica, sans-serif" font-size="68.5" text-anchor="middle" fill="#000">15</text>
<text transform="translate(637.25,2264.5) scale(1,1.035)" x="0" y="0" font-family="'Liberation Sans', Arial, Helvetica, sans-serif" font-size="68.5" text-anchor="middle" fill="#000">20</text>
<text transform="translate(785.33,2264.5) scale(1,1.035)" x="0" y="0" font-family="'Liberation Sans', Arial, Helvetica, sans-serif" font-size="68.5" text-anchor="middle" fill="#000">25</text>
<text transform="translate(933.42,2264.5) scale(1,1.035)" x="0" y="0" font-family="'Liberation Sans', Arial, Helvetica, sans-serif" font-size="68.5" text-anchor="middle" fill="#000">30</text>
<text transform="translate(1081.50,2264.5) scale(1,1.035)" x="0" y="0" font-family="'Liberation Sans', Arial, Helvetica, sans-serif" font-size="68.5" text-anchor="middle" fill="#000">35</text>
<text transform="translate(1229.58,2264.5) scale(1,1.035)" x="0" y="0" font-family="'Liberation Sans', Arial, Helvetica, sans-serif" font-size="68.5" text-anchor="middle" fill="#000">40</text>
<text transform="translate(1377.67,2264.5) scale(1,1.035)" x="0" y="0" font-family="'Liberation Sans', Arial, Helvetica, sans-serif" font-size="68.5" text-anchor="middle" fill="#000">45</text>
<text transform="translate(1525.75,2264.5) scale(1,1.035)" x="0" y="0" font-family="'Liberation Sans', Arial, Helvetica, sans-serif" font-size="68.5" text-anchor="middle" fill="#000">50</text>
<text transform="translate(1673.83,2264.5) scale(1,1.035)" x="0" y="0" font-family="'Liberation Sans', Arial, Helvetica, sans-serif" font-size="68.5" text-anchor="middle" fill="#000">55</text>
<text transform="translate(1821.92,2264.5) scale(1,1.035)" x="0" y="0" font-family="'Liberation Sans', Arial, Helvetica, sans-serif" font-size="68.5" text-anchor="middle" fill="#000">60</text>
<text transform="translate(1970.00,2264.5) scale(1,1.035)" x="0" y="0" font-family="'Liberation Sans', Arial, Helvetica, sans-serif" font-size="68.5" text-anchor="middle" fill="#000">65</text>
<text transform="translate(978,2401) scale(1,1.035)" x="0" y="0" font-family="'Liberation Sans', Arial, Helvetica, sans-serif" font-size="85" fill="#000">2θ (°)</text>
<text transform="translate(88,1429.5) rotate(-90) scale(1,1.035)" x="0" y="0" font-family="'Liberation Sans', Arial, Helvetica, sans-serif" font-size="84.2" fill="#000">Intensity (Counts)</text>
<text transform="translate(548,147.5) scale(1,1.035)" x="0" y="0" font-family="'Liberation Sans', Arial, Helvetica, sans-serif" font-size="85" fill="#000">(002)</text>
<text transform="translate(1163.5,172) scale(1,1.035)" x="0" y="0" font-family="'Liberation Sans', Arial, Helvetica, sans-serif" font-size="85" fill="#000">KCl</text>
<text transform="translate(711,470) scale(1,1.035)" x="0" y="0" font-family="'Liberation Sans', Arial, Helvetica, sans-serif" font-size="85" fill="#000">SiO</text>
<text transform="translate(852,503) scale(1,1.035)" x="0" y="0" font-family="'Liberation Sans', Arial, Helvetica, sans-serif" font-size="50" fill="#000">2</text>
<text transform="translate(989,618.5) scale(1,1.035)" x="0" y="0" font-family="'Liberation Sans', Arial, Helvetica, sans-serif" font-size="85" fill="#000">Mg</text>
<text transform="translate(1107,651.5) scale(1,1.035)" x="0" y="0" font-family="'Liberation Sans', Arial, Helvetica, sans-serif" font-size="50" fill="#000">2</text>
<text transform="translate(1134,619) scale(1,1.035)" x="0" y="0" font-family="'Liberation Sans', Arial, Helvetica, sans-serif" font-size="85" fill="#000">SiO</text>
<text transform="translate(1274,651) scale(1,1.035)" x="0" y="0" font-family="'Liberation Sans', Arial, Helvetica, sans-serif" font-size="50" fill="#000">4</text>
<line x1="1250.0" y1="214.9" x2="1001.8" y2="265.6" stroke="#000" stroke-width="3" stroke-linecap="round"/><polygon points="960.6,274.0 1001.5,254.4 1005.9,276.0" fill="#000" stroke="#000" stroke-width="1.5" stroke-linejoin="round"/>
<line x1="1256.3" y1="210.3" x2="1255.1" y2="286.0" stroke="#000" stroke-width="3" stroke-linecap="round"/><polygon points="1254.5,328.0 1244.2,283.8 1266.2,284.2" fill="#000" stroke="#000" stroke-width="1.5" stroke-linejoin="round"/>
<line x1="1267.7" y1="211.4" x2="1458.1" y2="422.5" stroke="#000" stroke-width="3" stroke-linecap="round"/><polygon points="1486.2,453.7 1448.6,428.4 1464.9,413.7" fill="#000" stroke="#000" stroke-width="1.5" stroke-linejoin="round"/>
<line x1="1161.7" y1="649.3" x2="1046.7" y2="739.7" stroke="#000" stroke-width="3" stroke-linecap="round"/><polygon points="1013.7,765.7 1041.5,729.9 1055.1,747.1" fill="#000" stroke="#000" stroke-width="1.5" stroke-linejoin="round"/>
<line x1="1162.1" y1="654.4" x2="1136.6" y2="715.4" stroke="#000" stroke-width="3" stroke-linecap="round"/><polygon points="1120.4,754.1 1127.2,709.3 1147.5,717.8" fill="#000" stroke="#000" stroke-width="1.5" stroke-linejoin="round"/>
<line x1="1161.3" y1="642.0" x2="1216.0" y2="784.4" stroke="#000" stroke-width="3" stroke-linecap="round"/><polygon points="1231.0,823.6 1205.0,786.5 1225.5,778.6" fill="#000" stroke="#000" stroke-width="1.5" stroke-linejoin="round"/>
<line x1="1172.9" y1="657.9" x2="1516.4" y2="834.0" stroke="#000" stroke-width="3" stroke-linecap="round"/><polygon points="1553.8,853.2 1509.6,842.9 1519.7,823.3" fill="#000" stroke="#000" stroke-width="1.5" stroke-linejoin="round"/>
<line x1="1325.7" y1="223.5" x2="1513.3" y2="223.5" stroke="#ff0000" stroke-width="3.4" stroke-linecap="round"/>
<text transform="translate(1535.2,252.3) scale(1,1.035)" x="0" y="0" font-family="'Liberation Sans', Arial, Helvetica, sans-serif" font-size="85" fill="#000">MRBC-600</text>
<line x1="1327.7" y1="644.5" x2="1515.3" y2="644.5" stroke="#0000ff" stroke-width="3.4" stroke-linecap="round"/>
<text transform="translate(1537.2,673.5) scale(1,1.035)" x="0" y="0" font-family="'Liberation Sans', Arial, Helvetica, sans-serif" font-size="85" fill="#000">MRBC-500</text>
<line x1="1319.7" y1="1064.5" x2="1507.3" y2="1064.5" stroke="#ff8000" stroke-width="3.4" stroke-linecap="round"/>
<text transform="translate(1529.1,1093.5) scale(1,1.035)" x="0" y="0" font-family="'Liberation Sans', Arial, Helvetica, sans-serif" font-size="85" fill="#000">MRBC-400</text>
<line x1="1308.7" y1="1438.5" x2="1496.3" y2="1438.5" stroke="#8000ff" stroke-width="3.4" stroke-linecap="round"/>
<text transform="translate(1518.3,1466.6) scale(1,1.035)" x="0" y="0" font-family="'Liberation Sans', Arial, Helvetica, sans-serif" font-size="85" fill="#000">MRBC-300</text>
<line x1="1312.7" y1="1873.4" x2="1500.3" y2="1873.4" stroke="#000000" stroke-width="3.4" stroke-linecap="round"/>
<text transform="translate(1523.1,1902.3) scale(1,1.035)" x="0" y="0" font-family="'Liberation Sans', Arial, Helvetica, sans-serif" font-size="85" fill="#000">RBC300</text>
</svg>
</body></html>
